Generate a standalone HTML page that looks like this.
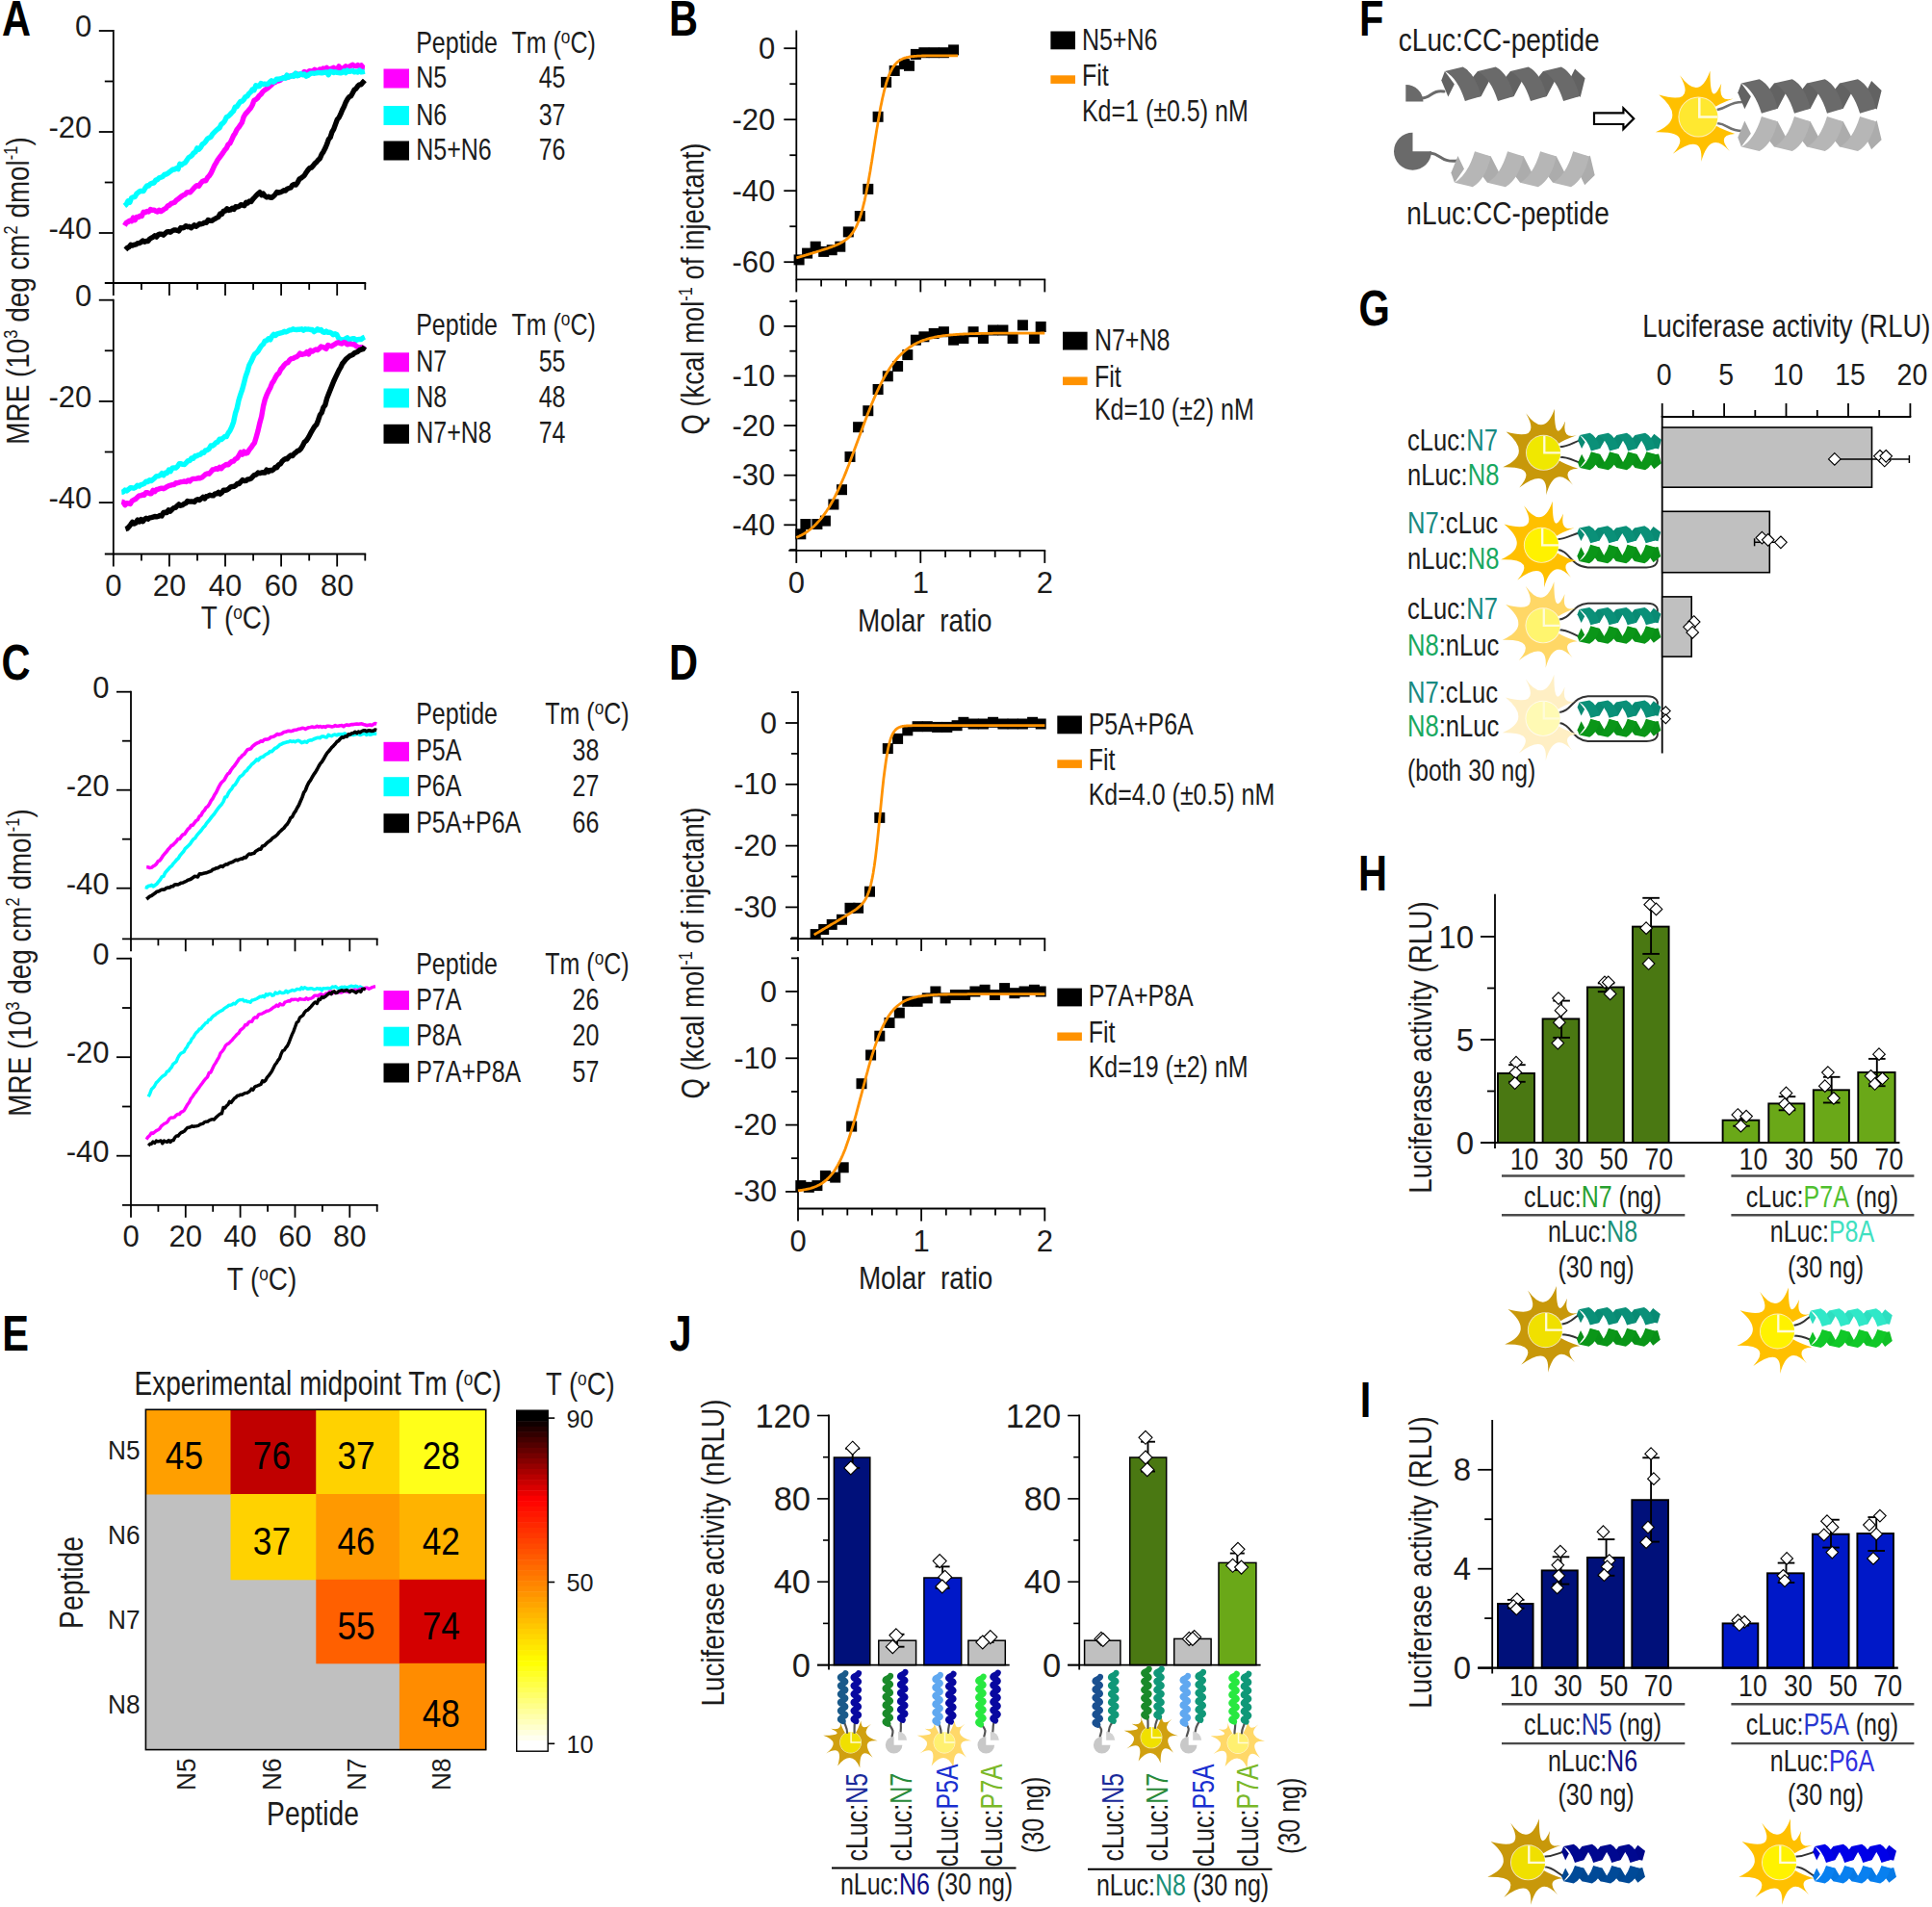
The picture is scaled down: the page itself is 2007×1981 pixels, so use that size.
<!DOCTYPE html>
<html><head><meta charset="utf-8"><title>Figure</title>
<style>html,body{margin:0;padding:0;background:#fff}svg{display:block}text{font-family:"Liberation Sans", sans-serif;}</style>
</head><body>
<svg width="2007" height="1981" viewBox="0 0 2007 1981">
<rect width="2007" height="1981" fill="#fff"/>
<text transform="translate(2.0,37.3) scale(0.8,1)" font-size="52" text-anchor="start" fill="#000" font-weight="bold">A</text>
<line x1="117.8" y1="31.1" x2="117.8" y2="294.9" stroke="#000" stroke-width="1.8" stroke-linecap="butt"/>
<line x1="108.8" y1="294.0" x2="380.2" y2="294.0" stroke="#000" stroke-width="1.8" stroke-linecap="butt"/>
<line x1="102.8" y1="32.0" x2="117.8" y2="32.0" stroke="#000" stroke-width="1.8" stroke-linecap="butt"/>
<text transform="translate(95.3,38.0) scale(1,1)" font-size="31" text-anchor="end" fill="#1c1c1c" font-weight="normal">0</text>
<line x1="108.8" y1="84.5" x2="117.8" y2="84.5" stroke="#000" stroke-width="1.8" stroke-linecap="butt"/>
<line x1="102.8" y1="137.0" x2="117.8" y2="137.0" stroke="#000" stroke-width="1.8" stroke-linecap="butt"/>
<text transform="translate(95.3,143.0) scale(1,1)" font-size="31" text-anchor="end" fill="#1c1c1c" font-weight="normal">-20</text>
<line x1="108.8" y1="189.5" x2="117.8" y2="189.5" stroke="#000" stroke-width="1.8" stroke-linecap="butt"/>
<line x1="102.8" y1="242.0" x2="117.8" y2="242.0" stroke="#000" stroke-width="1.8" stroke-linecap="butt"/>
<text transform="translate(95.3,248.0) scale(1,1)" font-size="31" text-anchor="end" fill="#1c1c1c" font-weight="normal">-40</text>
<line x1="117.8" y1="294.0" x2="117.8" y2="307.0" stroke="#000" stroke-width="1.8" stroke-linecap="butt"/>
<line x1="146.9" y1="294.0" x2="146.9" y2="301.0" stroke="#000" stroke-width="1.8" stroke-linecap="butt"/>
<line x1="175.9" y1="294.0" x2="175.9" y2="307.0" stroke="#000" stroke-width="1.8" stroke-linecap="butt"/>
<line x1="205.0" y1="294.0" x2="205.0" y2="301.0" stroke="#000" stroke-width="1.8" stroke-linecap="butt"/>
<line x1="234.0" y1="294.0" x2="234.0" y2="307.0" stroke="#000" stroke-width="1.8" stroke-linecap="butt"/>
<line x1="263.1" y1="294.0" x2="263.1" y2="301.0" stroke="#000" stroke-width="1.8" stroke-linecap="butt"/>
<line x1="292.1" y1="294.0" x2="292.1" y2="307.0" stroke="#000" stroke-width="1.8" stroke-linecap="butt"/>
<line x1="321.2" y1="294.0" x2="321.2" y2="301.0" stroke="#000" stroke-width="1.8" stroke-linecap="butt"/>
<line x1="350.2" y1="294.0" x2="350.2" y2="307.0" stroke="#000" stroke-width="1.8" stroke-linecap="butt"/>
<line x1="379.3" y1="294.0" x2="379.3" y2="301.0" stroke="#000" stroke-width="1.8" stroke-linecap="butt"/>
<line x1="117.8" y1="310.8" x2="117.8" y2="576.4" stroke="#000" stroke-width="1.8" stroke-linecap="butt"/>
<line x1="108.8" y1="575.5" x2="380.2" y2="575.5" stroke="#000" stroke-width="1.8" stroke-linecap="butt"/>
<line x1="102.8" y1="311.7" x2="117.8" y2="311.7" stroke="#000" stroke-width="1.8" stroke-linecap="butt"/>
<text transform="translate(95.3,317.7) scale(1,1)" font-size="31" text-anchor="end" fill="#1c1c1c" font-weight="normal">0</text>
<line x1="108.8" y1="364.3" x2="117.8" y2="364.3" stroke="#000" stroke-width="1.8" stroke-linecap="butt"/>
<line x1="102.8" y1="416.9" x2="117.8" y2="416.9" stroke="#000" stroke-width="1.8" stroke-linecap="butt"/>
<text transform="translate(95.3,422.9) scale(1,1)" font-size="31" text-anchor="end" fill="#1c1c1c" font-weight="normal">-20</text>
<line x1="108.8" y1="469.5" x2="117.8" y2="469.5" stroke="#000" stroke-width="1.8" stroke-linecap="butt"/>
<line x1="102.8" y1="522.1" x2="117.8" y2="522.1" stroke="#000" stroke-width="1.8" stroke-linecap="butt"/>
<text transform="translate(95.3,528.1) scale(1,1)" font-size="31" text-anchor="end" fill="#1c1c1c" font-weight="normal">-40</text>
<line x1="117.8" y1="575.5" x2="117.8" y2="588.5" stroke="#000" stroke-width="1.8" stroke-linecap="butt"/>
<text transform="translate(117.8,618.5) scale(1,1)" font-size="31" text-anchor="middle" fill="#1c1c1c" font-weight="normal">0</text>
<line x1="146.9" y1="575.5" x2="146.9" y2="582.5" stroke="#000" stroke-width="1.8" stroke-linecap="butt"/>
<line x1="175.9" y1="575.5" x2="175.9" y2="588.5" stroke="#000" stroke-width="1.8" stroke-linecap="butt"/>
<text transform="translate(175.9,618.5) scale(1,1)" font-size="31" text-anchor="middle" fill="#1c1c1c" font-weight="normal">20</text>
<line x1="205.0" y1="575.5" x2="205.0" y2="582.5" stroke="#000" stroke-width="1.8" stroke-linecap="butt"/>
<line x1="234.0" y1="575.5" x2="234.0" y2="588.5" stroke="#000" stroke-width="1.8" stroke-linecap="butt"/>
<text transform="translate(234.0,618.5) scale(1,1)" font-size="31" text-anchor="middle" fill="#1c1c1c" font-weight="normal">40</text>
<line x1="263.1" y1="575.5" x2="263.1" y2="582.5" stroke="#000" stroke-width="1.8" stroke-linecap="butt"/>
<line x1="292.1" y1="575.5" x2="292.1" y2="588.5" stroke="#000" stroke-width="1.8" stroke-linecap="butt"/>
<text transform="translate(292.1,618.5) scale(1,1)" font-size="31" text-anchor="middle" fill="#1c1c1c" font-weight="normal">60</text>
<line x1="321.2" y1="575.5" x2="321.2" y2="582.5" stroke="#000" stroke-width="1.8" stroke-linecap="butt"/>
<line x1="350.2" y1="575.5" x2="350.2" y2="588.5" stroke="#000" stroke-width="1.8" stroke-linecap="butt"/>
<text transform="translate(350.2,618.5) scale(1,1)" font-size="31" text-anchor="middle" fill="#1c1c1c" font-weight="normal">80</text>
<line x1="379.3" y1="575.5" x2="379.3" y2="582.5" stroke="#000" stroke-width="1.8" stroke-linecap="butt"/>
<polyline points="129.4,234.3 131.2,231.4 133.0,230.5 134.8,229.1 136.6,229.8 138.4,226.1 140.2,228.6 142.0,225.5 143.8,225.5 145.6,224.1 147.3,224.5 149.1,220.3 150.9,220.6 152.7,219.5 154.5,220.0 156.3,217.6 158.1,218.3 159.9,218.1 161.7,219.3 163.5,220.0 165.3,218.3 167.1,219.6 168.9,218.5 170.7,217.1 172.5,216.3 174.3,213.7 176.1,213.1 177.9,211.3 179.7,210.8 181.4,210.2 183.2,208.0 185.0,206.9 186.8,205.4 188.6,203.9 190.4,202.8 192.2,202.1 194.0,199.9 195.8,199.8 197.6,199.8 199.4,197.8 201.2,195.7 203.0,193.8 204.8,192.6 206.6,193.3 208.4,190.5 210.2,188.5 212.0,187.7 213.8,187.8 215.6,184.4 217.3,182.8 219.1,180.0 220.9,176.3 222.7,172.1 224.5,169.1 226.3,165.8 228.1,163.5 229.9,161.1 231.7,158.7 233.5,155.8 235.3,153.9 237.1,150.0 238.9,148.9 240.7,145.1 242.5,141.1 244.3,138.4 246.1,134.6 247.9,132.4 249.7,129.7 251.4,127.3 253.2,121.3 255.0,118.4 256.8,116.4 258.6,114.3 260.4,112.2 262.2,109.0 264.0,104.3 265.8,103.3 267.6,101.9 269.4,99.3 271.2,97.9 273.0,95.3 274.8,93.8 276.6,92.6 278.4,91.3 280.2,89.7 282.0,88.2 283.8,86.1 285.6,85.6 287.3,84.2 289.1,84.1 290.9,83.4 292.7,81.9 294.5,80.9 296.3,80.2 298.1,80.6 299.9,79.9 301.7,79.0 303.5,78.8 305.3,77.8 307.1,78.4 308.9,77.0 310.7,77.9 312.5,76.7 314.3,76.5 316.1,74.6 317.9,75.3 319.7,75.4 321.4,73.6 323.2,73.9 325.0,73.8 326.8,72.3 328.6,73.5 330.4,73.7 332.2,71.9 334.0,72.7 335.8,71.1 337.6,71.9 339.4,70.3 341.2,72.4 343.0,71.6 344.8,71.1 346.6,70.3 348.4,71.8 350.2,72.3 352.0,68.9 353.8,71.4 355.5,71.5 357.3,70.3 359.1,68.8 360.9,70.3 362.7,69.1 364.5,68.3 366.3,67.2 368.1,68.4 369.9,68.6 371.7,67.6 373.5,68.9 375.3,67.9 377.1,70.2 378.9,70.4" fill="none" stroke="#ff00ff" stroke-width="5.4" stroke-linejoin="round"/>
<polyline points="129.4,213.9 131.2,212.4 133.0,208.8 134.8,210.3 136.6,205.6 138.4,204.8 140.2,204.3 142.0,201.2 143.8,199.8 145.6,198.5 147.3,198.4 149.1,198.5 150.9,195.2 152.7,193.0 154.5,193.1 156.3,190.9 158.1,190.2 159.9,190.0 161.7,187.2 163.5,186.7 165.3,184.8 167.1,184.2 168.9,183.5 170.7,181.4 172.5,181.0 174.3,180.1 176.1,178.7 177.9,177.3 179.7,176.0 181.4,176.0 183.2,174.8 185.0,175.7 186.8,170.4 188.6,171.2 190.4,169.9 192.2,169.1 194.0,166.7 195.8,163.8 197.6,162.7 199.4,161.4 201.2,158.8 203.0,157.9 204.8,153.9 206.6,155.1 208.4,153.2 210.2,149.9 212.0,148.9 213.8,146.7 215.6,144.2 217.3,143.2 219.1,142.1 220.9,139.1 222.7,137.3 224.5,135.6 226.3,134.0 228.1,132.7 229.9,129.0 231.7,127.9 233.5,125.6 235.3,121.7 237.1,120.9 238.9,119.1 240.7,117.1 242.5,115.3 244.3,111.2 246.1,110.8 247.9,108.1 249.7,105.5 251.4,105.2 253.2,103.5 255.0,100.5 256.8,100.0 258.6,97.2 260.4,95.7 262.2,93.0 264.0,93.7 265.8,88.7 267.6,89.7 269.4,89.5 271.2,86.5 273.0,87.6 274.8,87.2 276.6,87.5 278.4,87.3 280.2,85.3 282.0,83.8 283.8,85.3 285.6,84.4 287.3,82.2 289.1,82.3 290.9,81.8 292.7,81.5 294.5,80.7 296.3,81.3 298.1,78.2 299.9,80.2 301.7,79.3 303.5,78.4 305.3,79.3 307.1,76.1 308.9,78.8 310.7,78.0 312.5,76.5 314.3,77.7 316.1,76.9 317.9,79.2 319.7,78.5 321.4,77.2 323.2,76.1 325.0,76.1 326.8,76.2 328.6,75.9 330.4,75.5 332.2,75.6 334.0,75.8 335.8,75.5 337.6,75.2 339.4,74.9 341.2,77.7 343.0,74.2 344.8,74.4 346.6,75.6 348.4,74.8 350.2,75.4 352.0,75.6 353.8,75.9 355.5,75.4 357.3,73.9 359.1,75.6 360.9,73.1 362.7,74.4 364.5,74.0 366.3,73.5 368.1,74.9 369.9,74.2 371.7,75.1 373.5,73.0 375.3,74.9 377.1,74.6 378.9,74.2" fill="none" stroke="#00ffff" stroke-width="5.4" stroke-linejoin="round"/>
<polyline points="130.4,259.3 132.2,257.5 134.0,256.6 135.8,254.3 137.6,255.0 139.4,254.3 141.2,253.9 142.9,252.8 144.7,252.6 146.5,251.6 148.3,250.1 150.1,251.3 151.9,250.5 153.7,250.5 155.5,248.3 157.2,247.2 159.0,246.3 160.8,244.8 162.6,246.2 164.4,243.8 166.2,243.1 168.0,243.3 169.8,244.2 171.5,242.5 173.3,240.9 175.1,240.6 176.9,241.2 178.7,240.0 180.5,239.0 182.3,238.9 184.1,239.3 185.8,239.9 187.6,236.7 189.4,236.9 191.2,236.4 193.0,234.7 194.8,235.7 196.6,235.3 198.4,236.8 200.1,235.4 201.9,233.8 203.7,235.3 205.5,234.1 207.3,232.4 209.1,232.8 210.9,232.2 212.7,231.2 214.4,231.2 216.2,228.5 218.0,229.3 219.8,229.4 221.6,228.2 223.4,227.3 225.2,226.2 227.0,225.3 228.7,222.0 230.5,222.5 232.3,219.1 234.1,219.0 235.9,216.8 237.7,218.5 239.5,218.0 241.3,216.2 243.0,217.4 244.8,214.8 246.6,215.0 248.4,214.4 250.2,212.7 252.0,213.2 253.8,213.7 255.6,210.3 257.3,211.0 259.1,209.0 260.9,209.5 262.7,206.9 264.5,205.0 266.3,203.0 268.1,201.3 269.9,199.7 271.6,202.6 273.4,201.2 275.2,203.6 277.0,204.9 278.8,204.2 280.6,205.0 282.4,205.4 284.2,203.7 285.9,202.1 287.7,199.4 289.5,200.2 291.3,199.7 293.1,198.9 294.9,197.7 296.7,198.0 298.4,196.2 300.2,195.5 302.0,195.0 303.8,192.4 305.6,191.5 307.4,192.1 309.2,189.4 311.0,185.9 312.7,185.1 314.5,183.7 316.3,182.2 318.1,179.2 319.9,176.6 321.7,174.6 323.5,174.1 325.3,172.2 327.0,169.9 328.8,168.4 330.6,166.1 332.4,164.6 334.2,160.2 336.0,157.6 337.8,154.1 339.6,149.8 341.3,144.8 343.1,142.8 344.9,137.2 346.7,134.1 348.5,129.1 350.3,124.3 352.1,122.1 353.9,118.4 355.6,114.2 357.4,110.7 359.2,106.3 361.0,102.9 362.8,100.6 364.6,99.8 366.4,96.5 368.2,93.1 369.9,92.1 371.7,89.4 373.5,87.9 375.3,87.7 377.1,85.4 378.9,83.5" fill="none" stroke="#000" stroke-width="5.4" stroke-linejoin="round"/>
<polyline points="126.3,511.2 128.1,511.0 129.9,509.1 131.7,509.9 133.6,508.4 135.4,506.7 137.2,506.8 139.0,507.2 140.8,506.3 142.6,504.3 144.5,505.0 146.3,503.6 148.1,503.2 149.9,502.3 151.7,500.1 153.6,500.5 155.4,498.7 157.2,499.6 159.0,498.0 160.8,496.4 162.6,494.6 164.5,494.6 166.3,493.7 168.1,491.7 169.9,493.7 171.7,491.3 173.5,491.5 175.4,488.2 177.2,489.6 179.0,486.2 180.8,485.9 182.6,486.0 184.4,484.6 186.3,481.6 188.1,481.7 189.9,482.4 191.7,482.5 193.5,480.6 195.3,478.6 197.2,478.5 199.0,475.9 200.8,476.3 202.6,473.7 204.4,473.8 206.2,472.6 208.1,472.2 209.9,470.2 211.7,470.3 213.5,467.9 215.3,467.6 217.2,466.3 219.0,462.9 220.8,463.1 222.6,461.8 224.4,459.7 226.2,459.1 228.1,456.2 229.9,456.5 231.7,455.1 233.5,453.4 235.3,453.6 237.1,449.9 239.0,447.2 240.8,443.4 242.6,438.4 244.4,429.7 246.2,424.1 248.0,415.7 249.9,409.6 251.7,404.5 253.5,397.7 255.3,390.7 257.1,385.8 258.9,379.3 260.8,375.8 262.6,371.8 264.4,368.1 266.2,366.7 268.0,364.8 269.9,361.6 271.7,359.0 273.5,357.5 275.3,354.1 277.1,353.8 278.9,351.7 280.8,352.8 282.6,349.3 284.4,347.3 286.2,348.5 288.0,346.8 289.8,346.3 291.7,345.8 293.5,345.3 295.3,344.3 297.1,344.9 298.9,344.1 300.7,342.9 302.6,342.8 304.4,341.7 306.2,342.4 308.0,342.5 309.8,342.3 311.6,342.3 313.5,341.7 315.3,343.2 317.1,341.8 318.9,342.1 320.7,342.0 322.5,342.5 324.4,342.4 326.2,344.6 328.0,343.4 329.8,341.8 331.6,343.1 333.5,342.5 335.3,344.7 337.1,345.4 338.9,344.1 340.7,345.4 342.5,345.1 344.4,346.1 346.2,347.8 348.0,346.7 349.8,347.4 351.6,351.1 353.4,352.4 355.3,352.8 357.1,353.2 358.9,351.9 360.7,350.9 362.5,353.5 364.3,352.3 366.2,351.7 368.0,351.7 369.8,353.7 371.6,352.7 373.4,352.5 375.2,352.6 377.1,350.9 378.9,350.1" fill="none" stroke="#00ffff" stroke-width="5.4" stroke-linejoin="round"/>
<polyline points="126.3,521.2 128.1,521.6 129.9,524.6 131.7,522.7 133.6,522.9 135.4,523.5 137.2,520.3 139.0,519.3 140.8,518.5 142.6,516.7 144.5,514.9 146.3,514.9 148.1,514.0 149.9,514.2 151.7,511.6 153.6,511.8 155.4,512.7 157.2,512.8 159.0,509.3 160.8,510.6 162.6,508.6 164.5,508.1 166.3,507.5 168.1,507.2 169.9,507.7 171.7,506.8 173.5,505.6 175.4,504.6 177.2,504.2 179.0,503.5 180.8,503.6 182.6,501.8 184.4,501.7 186.3,501.1 188.1,500.7 189.9,500.4 191.7,500.0 193.5,500.5 195.3,498.9 197.2,499.9 199.0,498.0 200.8,497.4 202.6,497.4 204.4,497.1 206.2,496.5 208.1,496.7 209.9,495.8 211.7,494.4 213.5,492.7 215.3,491.9 217.2,492.2 219.0,490.2 220.8,488.0 222.6,487.6 224.4,486.8 226.2,487.3 228.1,485.4 229.9,486.7 231.7,484.6 233.5,483.5 235.3,482.4 237.1,482.8 239.0,480.9 240.8,479.4 242.6,479.1 244.4,476.9 246.2,476.1 248.0,473.5 249.9,469.9 251.7,472.1 253.5,469.0 255.3,471.1 257.1,470.4 258.9,467.3 260.8,465.1 262.6,462.3 264.4,460.1 266.2,454.0 268.0,447.5 269.9,439.2 271.7,432.6 273.5,422.1 275.3,415.0 277.1,410.2 278.9,406.3 280.8,402.8 282.6,398.1 284.4,395.6 286.2,392.0 288.0,389.0 289.8,387.7 291.7,383.6 293.5,381.6 295.3,379.1 297.1,377.4 298.9,376.8 300.7,374.2 302.6,372.7 304.4,372.3 306.2,371.3 308.0,370.7 309.8,369.4 311.6,367.0 313.5,368.4 315.3,367.7 317.1,367.6 318.9,365.5 320.7,367.8 322.5,364.0 324.4,365.1 326.2,364.0 328.0,363.0 329.8,363.6 331.6,362.2 333.5,360.0 335.3,360.5 337.1,361.3 338.9,362.3 340.7,358.5 342.5,359.2 344.4,359.8 346.2,358.6 348.0,357.4 349.8,356.2 351.6,355.8 353.4,356.7 355.3,357.0 357.1,355.5 358.9,356.1 360.7,357.9 362.5,357.4 364.3,357.3 366.2,357.7 368.0,357.6 369.8,359.3 371.6,360.3 373.4,361.2 375.2,360.6 377.1,361.4 378.9,362.7" fill="none" stroke="#ff00ff" stroke-width="5.4" stroke-linejoin="round"/>
<polyline points="130.4,549.6 132.2,549.0 134.0,547.2 135.8,544.9 137.6,542.3 139.4,544.1 141.2,543.2 142.9,540.1 144.7,542.0 146.5,539.6 148.3,541.7 150.1,539.5 151.9,538.3 153.7,539.2 155.5,537.9 157.2,537.6 159.0,537.1 160.8,536.5 162.6,536.8 164.4,536.4 166.2,535.5 168.0,536.0 169.8,532.5 171.5,532.3 173.3,532.5 175.1,529.8 176.9,531.1 178.7,529.3 180.5,527.6 182.3,527.3 184.1,525.4 185.8,523.9 187.6,525.2 189.4,524.7 191.2,523.4 193.0,522.8 194.8,520.5 196.6,521.1 198.4,520.9 200.1,521.0 201.9,521.5 203.7,519.4 205.5,518.6 207.3,519.5 209.1,518.0 210.9,516.4 212.7,518.0 214.4,515.6 216.2,515.3 218.0,514.2 219.8,514.8 221.6,514.8 223.4,512.9 225.2,512.9 227.0,511.4 228.7,513.1 230.5,511.7 232.3,509.1 234.1,509.3 235.9,508.9 237.7,507.6 239.5,505.8 241.3,505.5 243.0,505.4 244.8,504.3 246.6,502.4 248.4,502.6 250.2,500.5 252.0,498.6 253.8,499.6 255.6,499.3 257.3,497.9 259.1,497.8 260.9,497.1 262.7,495.0 264.5,493.3 266.3,493.0 268.1,491.0 269.9,491.6 271.6,491.0 273.4,490.8 275.2,491.1 277.0,488.0 278.8,490.0 280.6,488.4 282.4,488.9 284.2,487.6 285.9,485.5 287.7,485.7 289.5,482.7 291.3,482.0 293.1,479.3 294.9,477.6 296.7,476.5 298.4,476.7 300.2,474.6 302.0,473.0 303.8,473.6 305.6,471.3 307.4,470.0 309.2,468.3 311.0,467.8 312.7,465.9 314.5,462.9 316.3,459.2 318.1,457.9 319.9,455.3 321.7,452.0 323.5,448.6 325.3,445.5 327.0,442.8 328.8,441.0 330.6,436.4 332.4,431.0 334.2,428.6 336.0,423.1 337.8,420.8 339.6,413.9 341.3,409.5 343.1,405.0 344.9,400.4 346.7,396.0 348.5,392.2 350.3,388.4 352.1,384.6 353.9,381.5 355.6,377.8 357.4,375.7 359.2,373.3 361.0,371.7 362.8,370.2 364.6,369.2 366.4,368.5 368.2,366.8 369.9,366.1 371.7,365.3 373.5,363.8 375.3,363.0 377.1,362.6 378.9,360.0" fill="none" stroke="#000" stroke-width="5.4" stroke-linejoin="round"/>
<text transform="translate(245.0,653.0) scale(0.82,1)" font-size="34" text-anchor="middle" fill="#1c1c1c" font-weight="normal">T (<tspan dy="-10" font-size="21">o</tspan><tspan dy="10">C)</tspan></text>
<text transform="translate(432.2,55.0) scale(0.82,1)" font-size="30.5" text-anchor="start" fill="#1c1c1c" font-weight="normal">Peptide</text>
<text transform="translate(531.5,55.0) scale(0.82,1)" font-size="30.5" text-anchor="start" fill="#1c1c1c" font-weight="normal">Tm (<tspan dy="-10" font-size="21">o</tspan><tspan dy="10">C)</tspan></text>
<rect x="398.5" y="71.5" width="26.5" height="20.0" fill="#ff00ff"/>
<text transform="translate(432.2,91.0) scale(0.82,1)" font-size="30.5" text-anchor="start" fill="#1c1c1c" font-weight="normal">N5</text>
<text transform="translate(559.7,91.0) scale(0.82,1)" font-size="30.5" text-anchor="start" fill="#1c1c1c" font-weight="normal">45</text>
<rect x="398.5" y="110.0" width="26.5" height="20.0" fill="#00ffff"/>
<text transform="translate(432.2,129.5) scale(0.82,1)" font-size="30.5" text-anchor="start" fill="#1c1c1c" font-weight="normal">N6</text>
<text transform="translate(559.7,129.5) scale(0.82,1)" font-size="30.5" text-anchor="start" fill="#1c1c1c" font-weight="normal">37</text>
<rect x="398.5" y="146.5" width="26.5" height="20.0" fill="#000"/>
<text transform="translate(432.2,166.0) scale(0.82,1)" font-size="30.5" text-anchor="start" fill="#1c1c1c" font-weight="normal">N5+N6</text>
<text transform="translate(559.7,166.0) scale(0.82,1)" font-size="30.5" text-anchor="start" fill="#1c1c1c" font-weight="normal">76</text>
<text transform="translate(432.2,348.0) scale(0.82,1)" font-size="30.5" text-anchor="start" fill="#1c1c1c" font-weight="normal">Peptide</text>
<text transform="translate(531.5,348.0) scale(0.82,1)" font-size="30.5" text-anchor="start" fill="#1c1c1c" font-weight="normal">Tm (<tspan dy="-10" font-size="21">o</tspan><tspan dy="10">C)</tspan></text>
<rect x="398.5" y="366.3" width="26.5" height="20.0" fill="#ff00ff"/>
<text transform="translate(432.2,385.8) scale(0.82,1)" font-size="30.5" text-anchor="start" fill="#1c1c1c" font-weight="normal">N7</text>
<text transform="translate(559.7,385.8) scale(0.82,1)" font-size="30.5" text-anchor="start" fill="#1c1c1c" font-weight="normal">55</text>
<rect x="398.5" y="403.5" width="26.5" height="20.0" fill="#00ffff"/>
<text transform="translate(432.2,423.0) scale(0.82,1)" font-size="30.5" text-anchor="start" fill="#1c1c1c" font-weight="normal">N8</text>
<text transform="translate(559.7,423.0) scale(0.82,1)" font-size="30.5" text-anchor="start" fill="#1c1c1c" font-weight="normal">48</text>
<rect x="398.5" y="440.8" width="26.5" height="20.0" fill="#000"/>
<text transform="translate(432.2,460.3) scale(0.82,1)" font-size="30.5" text-anchor="start" fill="#1c1c1c" font-weight="normal">N7+N8</text>
<text transform="translate(559.7,460.3) scale(0.82,1)" font-size="30.5" text-anchor="start" fill="#1c1c1c" font-weight="normal">74</text>
<text transform="translate(30.0,302.0) rotate(-90) scale(0.82,1)" font-size="34" text-anchor="middle" fill="#1c1c1c" font-weight="normal">MRE (10<tspan dy="-12" font-size="20">3</tspan><tspan dy="12" font-size="1">&#8203;</tspan> deg cm<tspan dy="-12" font-size="20">2</tspan><tspan dy="12" font-size="1">&#8203;</tspan> dmol<tspan dy="-12" font-size="20">-1</tspan><tspan dy="12" font-size="1">&#8203;</tspan>)</text>
<text transform="translate(1.5,706.0) scale(0.8,1)" font-size="52" text-anchor="start" fill="#000" font-weight="bold">C</text>
<line x1="136.0" y1="717.8" x2="136.0" y2="976.2" stroke="#000" stroke-width="1.8" stroke-linecap="butt"/>
<line x1="127.0" y1="975.3" x2="392.6" y2="975.3" stroke="#000" stroke-width="1.8" stroke-linecap="butt"/>
<line x1="121.0" y1="718.7" x2="136.0" y2="718.7" stroke="#000" stroke-width="1.8" stroke-linecap="butt"/>
<text transform="translate(113.5,724.7) scale(1,1)" font-size="31" text-anchor="end" fill="#1c1c1c" font-weight="normal">0</text>
<line x1="127.0" y1="769.7" x2="136.0" y2="769.7" stroke="#000" stroke-width="1.8" stroke-linecap="butt"/>
<line x1="121.0" y1="820.7" x2="136.0" y2="820.7" stroke="#000" stroke-width="1.8" stroke-linecap="butt"/>
<text transform="translate(113.5,826.7) scale(1,1)" font-size="31" text-anchor="end" fill="#1c1c1c" font-weight="normal">-20</text>
<line x1="127.0" y1="871.7" x2="136.0" y2="871.7" stroke="#000" stroke-width="1.8" stroke-linecap="butt"/>
<line x1="121.0" y1="922.7" x2="136.0" y2="922.7" stroke="#000" stroke-width="1.8" stroke-linecap="butt"/>
<text transform="translate(113.5,928.7) scale(1,1)" font-size="31" text-anchor="end" fill="#1c1c1c" font-weight="normal">-40</text>
<line x1="136.0" y1="975.3" x2="136.0" y2="988.3" stroke="#000" stroke-width="1.8" stroke-linecap="butt"/>
<line x1="164.4" y1="975.3" x2="164.4" y2="982.3" stroke="#000" stroke-width="1.8" stroke-linecap="butt"/>
<line x1="192.8" y1="975.3" x2="192.8" y2="988.3" stroke="#000" stroke-width="1.8" stroke-linecap="butt"/>
<line x1="221.2" y1="975.3" x2="221.2" y2="982.3" stroke="#000" stroke-width="1.8" stroke-linecap="butt"/>
<line x1="249.6" y1="975.3" x2="249.6" y2="988.3" stroke="#000" stroke-width="1.8" stroke-linecap="butt"/>
<line x1="278.1" y1="975.3" x2="278.1" y2="982.3" stroke="#000" stroke-width="1.8" stroke-linecap="butt"/>
<line x1="306.5" y1="975.3" x2="306.5" y2="988.3" stroke="#000" stroke-width="1.8" stroke-linecap="butt"/>
<line x1="334.9" y1="975.3" x2="334.9" y2="982.3" stroke="#000" stroke-width="1.8" stroke-linecap="butt"/>
<line x1="363.3" y1="975.3" x2="363.3" y2="988.3" stroke="#000" stroke-width="1.8" stroke-linecap="butt"/>
<line x1="391.7" y1="975.3" x2="391.7" y2="982.3" stroke="#000" stroke-width="1.8" stroke-linecap="butt"/>
<line x1="136.0" y1="994.8" x2="136.0" y2="1252.7" stroke="#000" stroke-width="1.8" stroke-linecap="butt"/>
<line x1="127.0" y1="1251.8" x2="392.6" y2="1251.8" stroke="#000" stroke-width="1.8" stroke-linecap="butt"/>
<line x1="121.0" y1="995.7" x2="136.0" y2="995.7" stroke="#000" stroke-width="1.8" stroke-linecap="butt"/>
<text transform="translate(113.5,1001.7) scale(1,1)" font-size="31" text-anchor="end" fill="#1c1c1c" font-weight="normal">0</text>
<line x1="127.0" y1="1047.0" x2="136.0" y2="1047.0" stroke="#000" stroke-width="1.8" stroke-linecap="butt"/>
<line x1="121.0" y1="1098.2" x2="136.0" y2="1098.2" stroke="#000" stroke-width="1.8" stroke-linecap="butt"/>
<text transform="translate(113.5,1104.2) scale(1,1)" font-size="31" text-anchor="end" fill="#1c1c1c" font-weight="normal">-20</text>
<line x1="127.0" y1="1149.5" x2="136.0" y2="1149.5" stroke="#000" stroke-width="1.8" stroke-linecap="butt"/>
<line x1="121.0" y1="1200.7" x2="136.0" y2="1200.7" stroke="#000" stroke-width="1.8" stroke-linecap="butt"/>
<text transform="translate(113.5,1206.7) scale(1,1)" font-size="31" text-anchor="end" fill="#1c1c1c" font-weight="normal">-40</text>
<line x1="136.0" y1="1251.8" x2="136.0" y2="1264.8" stroke="#000" stroke-width="1.8" stroke-linecap="butt"/>
<text transform="translate(136.0,1294.8) scale(1,1)" font-size="31" text-anchor="middle" fill="#1c1c1c" font-weight="normal">0</text>
<line x1="164.4" y1="1251.8" x2="164.4" y2="1258.8" stroke="#000" stroke-width="1.8" stroke-linecap="butt"/>
<line x1="192.8" y1="1251.8" x2="192.8" y2="1264.8" stroke="#000" stroke-width="1.8" stroke-linecap="butt"/>
<text transform="translate(192.8,1294.8) scale(1,1)" font-size="31" text-anchor="middle" fill="#1c1c1c" font-weight="normal">20</text>
<line x1="221.2" y1="1251.8" x2="221.2" y2="1258.8" stroke="#000" stroke-width="1.8" stroke-linecap="butt"/>
<line x1="249.6" y1="1251.8" x2="249.6" y2="1264.8" stroke="#000" stroke-width="1.8" stroke-linecap="butt"/>
<text transform="translate(249.6,1294.8) scale(1,1)" font-size="31" text-anchor="middle" fill="#1c1c1c" font-weight="normal">40</text>
<line x1="278.1" y1="1251.8" x2="278.1" y2="1258.8" stroke="#000" stroke-width="1.8" stroke-linecap="butt"/>
<line x1="306.5" y1="1251.8" x2="306.5" y2="1264.8" stroke="#000" stroke-width="1.8" stroke-linecap="butt"/>
<text transform="translate(306.5,1294.8) scale(1,1)" font-size="31" text-anchor="middle" fill="#1c1c1c" font-weight="normal">60</text>
<line x1="334.9" y1="1251.8" x2="334.9" y2="1258.8" stroke="#000" stroke-width="1.8" stroke-linecap="butt"/>
<line x1="363.3" y1="1251.8" x2="363.3" y2="1264.8" stroke="#000" stroke-width="1.8" stroke-linecap="butt"/>
<text transform="translate(363.3,1294.8) scale(1,1)" font-size="31" text-anchor="middle" fill="#1c1c1c" font-weight="normal">80</text>
<line x1="391.7" y1="1251.8" x2="391.7" y2="1258.8" stroke="#000" stroke-width="1.8" stroke-linecap="butt"/>
<polyline points="152.2,900.7 153.9,900.8 155.6,901.5 157.3,901.3 159.1,899.9 160.8,899.0 162.5,897.4 164.2,894.7 165.9,894.0 167.7,891.6 169.4,888.8 171.1,886.8 172.8,885.0 174.5,882.6 176.3,880.8 178.0,878.5 179.7,877.8 181.4,875.9 183.1,874.2 184.9,871.6 186.6,871.5 188.3,869.0 190.0,867.0 191.7,866.5 193.5,863.7 195.2,861.2 196.9,860.0 198.6,857.3 200.3,857.1 202.1,854.6 203.8,852.5 205.5,851.5 207.2,848.0 208.9,846.9 210.7,843.4 212.4,841.7 214.1,838.9 215.8,837.7 217.5,835.3 219.3,831.6 221.0,829.5 222.7,826.1 224.4,823.5 226.1,819.9 227.9,816.4 229.6,813.5 231.3,811.8 233.0,810.2 234.8,806.8 236.5,804.1 238.2,803.0 239.9,800.0 241.6,797.7 243.4,795.6 245.1,793.2 246.8,790.8 248.5,787.9 250.2,786.7 252.0,784.5 253.7,783.4 255.4,781.0 257.1,778.7 258.8,778.2 260.6,777.7 262.3,775.4 264.0,774.0 265.7,772.7 267.4,771.8 269.2,771.2 270.9,769.8 272.6,770.3 274.3,768.6 276.0,768.1 277.8,768.0 279.5,767.3 281.2,765.8 282.9,765.4 284.6,765.0 286.4,763.9 288.1,762.5 289.8,763.1 291.5,762.6 293.2,761.8 295.0,760.5 296.7,760.3 298.4,759.6 300.1,759.3 301.8,759.6 303.6,759.3 305.3,758.5 307.0,758.2 308.7,757.9 310.4,757.3 312.2,757.0 313.9,756.4 315.6,756.5 317.3,757.4 319.0,756.5 320.8,755.7 322.5,755.4 324.2,755.0 325.9,755.5 327.7,755.3 329.4,754.3 331.1,755.1 332.8,754.5 334.5,755.4 336.3,754.7 338.0,755.4 339.7,754.3 341.4,754.3 343.1,754.5 344.9,754.9 346.6,754.6 348.3,753.6 350.0,754.3 351.7,754.1 353.5,753.8 355.2,753.6 356.9,754.7 358.6,753.4 360.3,752.9 362.1,753.4 363.8,752.9 365.5,752.5 367.2,752.6 368.9,752.3 370.7,752.0 372.4,752.3 374.1,752.0 375.8,751.9 377.5,752.5 379.3,753.0 381.0,753.7 382.7,753.3 384.4,752.9 386.1,753.6 387.9,752.4 389.6,751.5 391.3,752.0" fill="none" stroke="#ff00ff" stroke-width="3.6" stroke-linejoin="round"/>
<polyline points="150.7,921.6 152.5,922.0 154.2,920.2 155.9,920.2 157.6,919.3 159.4,920.9 161.1,919.5 162.8,918.3 164.6,915.9 166.3,914.1 168.0,911.0 169.8,910.4 171.5,906.7 173.2,904.8 175.0,902.8 176.7,900.7 178.4,899.6 180.1,897.1 181.9,895.1 183.6,893.0 185.3,891.6 187.1,888.5 188.8,886.6 190.5,884.8 192.3,881.6 194.0,880.1 195.7,878.5 197.5,876.7 199.2,874.1 200.9,871.7 202.6,870.7 204.4,867.9 206.1,865.9 207.8,864.0 209.6,861.8 211.3,859.5 213.0,857.9 214.8,854.9 216.5,853.1 218.2,850.9 220.0,848.4 221.7,846.6 223.4,844.2 225.1,841.8 226.9,839.3 228.6,837.2 230.3,835.4 232.1,832.6 233.8,828.1 235.5,827.7 237.3,823.7 239.0,821.2 240.7,819.5 242.5,816.2 244.2,815.2 245.9,812.3 247.6,809.3 249.4,806.8 251.1,805.7 252.8,804.1 254.6,801.5 256.3,800.4 258.0,797.9 259.8,796.3 261.5,794.0 263.2,792.8 265.0,791.0 266.7,788.9 268.4,789.8 270.1,787.4 271.9,786.4 273.6,785.9 275.3,784.3 277.1,783.3 278.8,782.4 280.5,780.6 282.3,780.8 284.0,779.0 285.7,777.2 287.5,776.7 289.2,775.2 290.9,773.4 292.6,772.9 294.4,771.9 296.1,771.4 297.8,770.9 299.6,770.8 301.3,769.8 303.0,770.4 304.8,770.0 306.5,770.7 308.2,769.7 310.0,769.3 311.7,770.2 313.4,771.7 315.1,771.0 316.9,770.3 318.6,771.2 320.3,769.4 322.1,768.9 323.8,768.9 325.5,768.0 327.3,767.3 329.0,766.6 330.7,766.3 332.5,766.6 334.2,765.0 335.9,765.0 337.6,765.7 339.4,765.9 341.1,763.4 342.8,764.2 344.6,764.6 346.3,763.4 348.0,763.1 349.8,763.8 351.5,762.9 353.2,762.8 355.0,762.9 356.7,762.5 358.4,762.0 360.2,763.7 361.9,764.0 363.6,763.3 365.3,763.1 367.1,763.4 368.8,763.1 370.5,762.3 372.3,762.6 374.0,763.4 375.7,762.9 377.5,762.3 379.2,762.3 380.9,763.4 382.7,762.0 384.4,763.2 386.1,762.8 387.8,761.9 389.6,762.1 391.3,762.2" fill="none" stroke="#00ffff" stroke-width="3.6" stroke-linejoin="round"/>
<polyline points="152.2,934.0 153.9,932.6 155.6,931.1 157.3,930.5 159.1,929.2 160.8,928.1 162.5,926.6 164.2,926.1 165.9,925.3 167.7,924.3 169.4,924.1 171.1,923.9 172.8,922.5 174.5,922.1 176.3,922.0 178.0,920.8 179.7,920.8 181.4,919.0 183.1,918.8 184.9,919.0 186.6,918.1 188.3,917.2 190.0,917.0 191.7,916.1 193.5,915.4 195.2,914.2 196.9,913.8 198.6,913.0 200.3,911.8 202.1,910.3 203.8,910.5 205.5,911.0 207.2,907.7 208.9,907.9 210.7,907.5 212.4,907.1 214.1,906.8 215.8,906.1 217.5,905.5 219.3,904.9 221.0,903.2 222.7,902.8 224.4,901.9 226.1,901.7 227.9,900.6 229.6,899.7 231.3,900.4 233.0,898.8 234.8,897.9 236.5,898.0 238.2,896.4 239.9,896.1 241.6,895.4 243.4,894.2 245.1,893.2 246.8,893.8 248.5,892.8 250.2,892.1 252.0,892.1 253.7,890.5 255.4,891.0 257.1,888.5 258.8,887.0 260.6,887.4 262.3,886.7 264.0,886.3 265.7,884.2 267.4,883.2 269.2,882.1 270.9,882.2 272.6,878.9 274.3,878.6 276.0,877.1 277.8,875.2 279.5,874.1 281.2,872.8 282.9,870.8 284.6,869.7 286.4,868.5 288.1,867.0 289.8,864.8 291.5,863.2 293.2,861.6 295.0,860.1 296.7,857.7 298.4,856.1 300.1,853.4 301.8,849.8 303.6,848.5 305.3,844.9 307.0,842.6 308.7,839.3 310.4,836.5 312.2,832.3 313.9,828.4 315.6,823.4 317.3,821.0 319.0,816.5 320.8,812.9 322.5,810.7 324.2,807.5 325.9,804.6 327.7,802.1 329.4,799.3 331.1,796.0 332.8,793.1 334.5,791.2 336.3,788.3 338.0,785.2 339.7,782.4 341.4,780.5 343.1,778.5 344.9,776.2 346.6,774.6 348.3,772.8 350.0,770.5 351.7,769.7 353.5,767.4 355.2,765.7 356.9,766.2 358.6,764.8 360.3,765.1 362.1,762.7 363.8,763.0 365.5,761.8 367.2,761.4 368.9,760.3 370.7,761.6 372.4,760.0 374.1,760.9 375.8,759.6 377.5,758.9 379.3,758.9 381.0,759.8 382.7,758.7 384.4,758.9 386.1,759.4 387.9,759.2 389.6,758.1 391.3,758.5" fill="none" stroke="#000" stroke-width="3.6" stroke-linejoin="round"/>
<polyline points="154.2,1139.2 155.8,1135.9 157.4,1131.6 159.0,1130.1 160.6,1128.1 162.2,1124.9 163.8,1123.5 165.4,1121.6 167.0,1119.9 168.6,1118.3 170.2,1117.3 171.8,1116.3 173.5,1113.1 175.1,1112.7 176.7,1110.3 178.3,1108.5 179.9,1105.3 181.5,1104.1 183.1,1102.9 184.7,1099.0 186.3,1096.2 187.9,1094.2 189.5,1093.4 191.1,1092.7 192.7,1089.5 194.3,1087.6 196.0,1084.1 197.6,1082.7 199.2,1079.2 200.8,1077.6 202.4,1074.8 204.0,1072.6 205.6,1071.2 207.2,1069.0 208.8,1068.6 210.4,1066.2 212.0,1064.7 213.6,1062.7 215.2,1062.3 216.8,1059.5 218.5,1059.1 220.1,1057.0 221.7,1055.3 223.3,1054.4 224.9,1052.9 226.5,1052.1 228.1,1050.8 229.7,1050.1 231.3,1049.2 232.9,1047.6 234.5,1046.6 236.1,1045.8 237.7,1044.3 239.3,1044.3 241.0,1043.6 242.6,1042.3 244.2,1043.0 245.8,1041.1 247.4,1039.6 249.0,1038.8 250.6,1038.6 252.2,1038.3 253.8,1040.0 255.4,1039.5 257.0,1040.6 258.6,1040.4 260.2,1041.2 261.8,1038.9 263.5,1038.8 265.1,1038.1 266.7,1037.5 268.3,1036.6 269.9,1035.3 271.5,1035.5 273.1,1034.6 274.7,1035.8 276.3,1032.7 277.9,1033.9 279.5,1032.5 281.1,1032.4 282.7,1034.2 284.3,1033.8 286.0,1031.1 287.6,1032.0 289.2,1031.9 290.8,1030.3 292.4,1031.5 294.0,1031.5 295.6,1031.1 297.2,1029.2 298.8,1031.0 300.4,1029.9 302.0,1029.3 303.6,1028.4 305.2,1029.0 306.8,1028.8 308.5,1027.4 310.1,1027.6 311.7,1027.9 313.3,1025.8 314.9,1027.2 316.5,1025.8 318.1,1026.5 319.7,1027.4 321.3,1027.0 322.9,1026.8 324.5,1026.9 326.1,1027.7 327.7,1027.6 329.3,1026.6 331.0,1027.3 332.6,1026.8 334.2,1028.8 335.8,1026.6 337.4,1026.9 339.0,1026.7 340.6,1026.5 342.2,1026.7 343.8,1026.6 345.4,1025.0 347.0,1025.5 348.6,1024.8 350.2,1026.3 351.8,1027.0 353.4,1026.1 355.1,1025.3 356.7,1025.7 358.3,1025.1 359.9,1026.2 361.5,1025.5 363.1,1024.9 364.7,1024.2 366.3,1024.6 367.9,1025.2 369.5,1024.2 371.1,1024.9 372.7,1026.0 374.3,1025.0 375.9,1026.4 377.6,1026.0" fill="none" stroke="#00ffff" stroke-width="3.4" stroke-linejoin="round"/>
<polyline points="152.1,1183.6 153.8,1181.0 155.5,1179.6 157.2,1176.9 158.9,1177.5 160.6,1176.0 162.3,1174.6 164.1,1173.8 165.8,1172.5 167.5,1169.9 169.2,1168.5 170.9,1167.2 172.6,1166.5 174.3,1164.9 176.0,1162.1 177.8,1161.0 179.5,1161.1 181.2,1160.7 182.9,1158.7 184.6,1157.4 186.3,1157.6 188.0,1155.4 189.8,1154.7 191.5,1153.2 193.2,1150.2 194.9,1147.2 196.6,1144.9 198.3,1141.3 200.0,1139.2 201.7,1136.5 203.5,1134.4 205.2,1131.8 206.9,1129.6 208.6,1127.1 210.3,1125.0 212.0,1122.6 213.7,1120.5 215.4,1119.0 217.2,1114.5 218.9,1114.0 220.6,1110.3 222.3,1106.6 224.0,1104.1 225.7,1101.0 227.4,1098.4 229.1,1093.9 230.9,1092.1 232.6,1089.7 234.3,1086.3 236.0,1084.6 237.7,1083.9 239.4,1082.1 241.1,1080.6 242.8,1078.3 244.6,1076.4 246.3,1074.4 248.0,1073.3 249.7,1070.1 251.4,1068.8 253.1,1067.5 254.8,1064.5 256.5,1064.9 258.3,1062.0 260.0,1061.1 261.7,1061.3 263.4,1057.9 265.1,1056.8 266.8,1057.1 268.5,1054.1 270.3,1053.4 272.0,1053.1 273.7,1052.1 275.4,1051.3 277.1,1050.2 278.8,1050.1 280.5,1049.1 282.2,1048.0 284.0,1046.4 285.7,1045.7 287.4,1044.1 289.1,1045.2 290.8,1042.8 292.5,1043.9 294.2,1043.9 295.9,1041.1 297.7,1040.5 299.4,1039.8 301.1,1040.0 302.8,1038.3 304.5,1038.5 306.2,1038.1 307.9,1038.1 309.6,1039.1 311.4,1037.4 313.1,1038.1 314.8,1038.1 316.5,1038.4 318.2,1036.8 319.9,1038.2 321.6,1037.4 323.3,1037.1 325.1,1036.0 326.8,1034.1 328.5,1034.1 330.2,1034.5 331.9,1033.3 333.6,1032.7 335.3,1033.7 337.0,1033.7 338.8,1031.9 340.5,1033.1 342.2,1030.2 343.9,1030.0 345.6,1031.9 347.3,1030.9 349.0,1031.4 350.7,1031.2 352.5,1030.6 354.2,1031.0 355.9,1030.5 357.6,1029.1 359.3,1030.1 361.0,1029.8 362.7,1030.7 364.5,1028.4 366.2,1028.9 367.9,1028.4 369.6,1028.3 371.3,1029.3 373.0,1028.1 374.7,1027.2 376.4,1027.4 378.2,1027.6 379.9,1026.1 381.6,1026.3 383.3,1027.3 385.0,1026.5 386.7,1025.6 388.4,1025.0 390.1,1024.9" fill="none" stroke="#ff00ff" stroke-width="3.4" stroke-linejoin="round"/>
<polyline points="154.2,1190.1 155.8,1188.3 157.4,1188.3 159.0,1186.1 160.7,1187.4 162.3,1185.1 163.9,1185.9 165.5,1185.5 167.1,1184.9 168.8,1187.8 170.4,1185.0 172.0,1185.9 173.6,1186.4 175.3,1184.5 176.9,1186.5 178.5,1184.7 180.1,1184.6 181.7,1181.6 183.4,1179.9 185.0,1180.1 186.6,1178.0 188.2,1176.5 189.9,1176.0 191.5,1175.1 193.1,1173.1 194.7,1171.5 196.3,1171.3 198.0,1170.7 199.6,1169.7 201.2,1170.4 202.8,1169.9 204.5,1169.7 206.1,1169.3 207.7,1168.2 209.3,1167.6 210.9,1167.2 212.6,1165.6 214.2,1165.2 215.8,1165.1 217.4,1163.8 219.1,1163.2 220.7,1162.7 222.3,1163.0 223.9,1161.3 225.5,1159.7 227.2,1158.3 228.8,1157.0 230.4,1156.9 232.0,1150.4 233.7,1151.1 235.3,1148.8 236.9,1147.5 238.5,1144.3 240.1,1145.5 241.8,1143.1 243.4,1141.0 245.0,1140.0 246.6,1138.2 248.3,1138.0 249.9,1137.1 251.5,1137.3 253.1,1136.3 254.7,1135.4 256.4,1135.4 258.0,1134.5 259.6,1133.4 261.2,1131.1 262.9,1132.2 264.5,1129.3 266.1,1128.3 267.7,1127.8 269.3,1127.1 271.0,1126.5 272.6,1122.7 274.2,1123.8 275.8,1122.4 277.5,1119.1 279.1,1117.5 280.7,1115.2 282.3,1113.0 283.9,1109.7 285.6,1106.3 287.2,1104.3 288.8,1101.5 290.4,1099.7 292.1,1094.7 293.7,1091.5 295.3,1091.0 296.9,1088.3 298.5,1086.5 300.2,1083.0 301.8,1078.6 303.4,1074.6 305.0,1071.2 306.7,1066.5 308.3,1062.1 309.9,1061.1 311.5,1057.0 313.1,1055.8 314.8,1054.6 316.4,1051.6 318.0,1049.9 319.6,1049.2 321.3,1047.5 322.9,1045.8 324.5,1044.0 326.1,1042.1 327.7,1040.9 329.4,1042.4 331.0,1038.1 332.6,1038.5 334.2,1035.8 335.9,1036.5 337.5,1035.6 339.1,1034.3 340.7,1032.7 342.3,1031.5 344.0,1032.7 345.6,1030.3 347.2,1029.8 348.8,1031.5 350.5,1031.1 352.1,1029.6 353.7,1029.2 355.3,1028.7 356.9,1029.5 358.6,1029.0 360.2,1028.4 361.8,1029.3 363.4,1030.4 365.1,1029.0 366.7,1029.4 368.3,1030.2 369.9,1031.3 371.5,1029.8 373.2,1029.3 374.8,1030.4 376.4,1027.5 378.0,1027.2 379.7,1027.8" fill="none" stroke="#000" stroke-width="3.4" stroke-linejoin="round"/>
<text transform="translate(272.0,1339.7) scale(0.82,1)" font-size="34" text-anchor="middle" fill="#1c1c1c" font-weight="normal">T (<tspan dy="-10" font-size="21">o</tspan><tspan dy="10">C)</tspan></text>
<text transform="translate(432.2,751.7) scale(0.82,1)" font-size="30.5" text-anchor="start" fill="#1c1c1c" font-weight="normal">Peptide</text>
<text transform="translate(566.3,751.7) scale(0.82,1)" font-size="30.5" text-anchor="start" fill="#1c1c1c" font-weight="normal">Tm (<tspan dy="-10" font-size="21">o</tspan><tspan dy="10">C)</tspan></text>
<rect x="398.5" y="770.8" width="26.5" height="20.0" fill="#ff00ff"/>
<text transform="translate(432.2,790.3) scale(0.82,1)" font-size="30.5" text-anchor="start" fill="#1c1c1c" font-weight="normal">P5A</text>
<text transform="translate(594.5,790.3) scale(0.82,1)" font-size="30.5" text-anchor="start" fill="#1c1c1c" font-weight="normal">38</text>
<rect x="398.5" y="807.2" width="26.5" height="20.0" fill="#00ffff"/>
<text transform="translate(432.2,826.7) scale(0.82,1)" font-size="30.5" text-anchor="start" fill="#1c1c1c" font-weight="normal">P6A</text>
<text transform="translate(594.5,826.7) scale(0.82,1)" font-size="30.5" text-anchor="start" fill="#1c1c1c" font-weight="normal">27</text>
<rect x="398.5" y="845.2" width="26.5" height="20.0" fill="#000"/>
<text transform="translate(432.2,864.7) scale(0.82,1)" font-size="30.5" text-anchor="start" fill="#1c1c1c" font-weight="normal">P5A+P6A</text>
<text transform="translate(594.5,864.7) scale(0.82,1)" font-size="30.5" text-anchor="start" fill="#1c1c1c" font-weight="normal">66</text>
<text transform="translate(432.2,1012.2) scale(0.82,1)" font-size="30.5" text-anchor="start" fill="#1c1c1c" font-weight="normal">Peptide</text>
<text transform="translate(566.3,1012.2) scale(0.82,1)" font-size="30.5" text-anchor="start" fill="#1c1c1c" font-weight="normal">Tm (<tspan dy="-10" font-size="21">o</tspan><tspan dy="10">C)</tspan></text>
<rect x="398.5" y="1029.1" width="26.5" height="20.0" fill="#ff00ff"/>
<text transform="translate(432.2,1048.6) scale(0.82,1)" font-size="30.5" text-anchor="start" fill="#1c1c1c" font-weight="normal">P7A</text>
<text transform="translate(594.5,1048.6) scale(0.82,1)" font-size="30.5" text-anchor="start" fill="#1c1c1c" font-weight="normal">26</text>
<rect x="398.5" y="1066.7" width="26.5" height="20.0" fill="#00ffff"/>
<text transform="translate(432.2,1086.2) scale(0.82,1)" font-size="30.5" text-anchor="start" fill="#1c1c1c" font-weight="normal">P8A</text>
<text transform="translate(594.5,1086.2) scale(0.82,1)" font-size="30.5" text-anchor="start" fill="#1c1c1c" font-weight="normal">20</text>
<rect x="398.5" y="1104.5" width="26.5" height="20.0" fill="#000"/>
<text transform="translate(432.2,1124.0) scale(0.82,1)" font-size="30.5" text-anchor="start" fill="#1c1c1c" font-weight="normal">P7A+P8A</text>
<text transform="translate(594.5,1124.0) scale(0.82,1)" font-size="30.5" text-anchor="start" fill="#1c1c1c" font-weight="normal">57</text>
<text transform="translate(32.0,1000.0) rotate(-90) scale(0.82,1)" font-size="34" text-anchor="middle" fill="#1c1c1c" font-weight="normal">MRE (10<tspan dy="-12" font-size="20">3</tspan><tspan dy="12" font-size="1">&#8203;</tspan> deg cm<tspan dy="-12" font-size="20">2</tspan><tspan dy="12" font-size="1">&#8203;</tspan> dmol<tspan dy="-12" font-size="20">-1</tspan><tspan dy="12" font-size="1">&#8203;</tspan>)</text>
<text transform="translate(695.0,37.3) scale(0.8,1)" font-size="52" text-anchor="start" fill="#000" font-weight="bold">B</text>
<line x1="827.3" y1="31.6" x2="827.3" y2="291.3" stroke="#000" stroke-width="1.8" stroke-linecap="butt"/>
<line x1="827.3" y1="290.4" x2="1086.2" y2="290.4" stroke="#000" stroke-width="1.8" stroke-linecap="butt"/>
<line x1="814.3" y1="50.2" x2="827.3" y2="50.2" stroke="#000" stroke-width="1.8" stroke-linecap="butt"/>
<text transform="translate(805.3,60.7) scale(1,1)" font-size="31" text-anchor="end" fill="#1c1c1c" font-weight="normal">0</text>
<line x1="814.3" y1="124.2" x2="827.3" y2="124.2" stroke="#000" stroke-width="1.8" stroke-linecap="butt"/>
<text transform="translate(805.3,134.7) scale(1,1)" font-size="31" text-anchor="end" fill="#1c1c1c" font-weight="normal">-20</text>
<line x1="814.3" y1="198.2" x2="827.3" y2="198.2" stroke="#000" stroke-width="1.8" stroke-linecap="butt"/>
<text transform="translate(805.3,208.7) scale(1,1)" font-size="31" text-anchor="end" fill="#1c1c1c" font-weight="normal">-40</text>
<line x1="814.3" y1="272.2" x2="827.3" y2="272.2" stroke="#000" stroke-width="1.8" stroke-linecap="butt"/>
<text transform="translate(805.3,282.7) scale(1,1)" font-size="31" text-anchor="end" fill="#1c1c1c" font-weight="normal">-60</text>
<line x1="820.3" y1="87.2" x2="827.3" y2="87.2" stroke="#000" stroke-width="1.8" stroke-linecap="butt"/>
<line x1="820.3" y1="161.2" x2="827.3" y2="161.2" stroke="#000" stroke-width="1.8" stroke-linecap="butt"/>
<line x1="820.3" y1="235.2" x2="827.3" y2="235.2" stroke="#000" stroke-width="1.8" stroke-linecap="butt"/>
<line x1="827.3" y1="290.4" x2="827.3" y2="303.4" stroke="#000" stroke-width="1.8" stroke-linecap="butt"/>
<line x1="853.1" y1="290.4" x2="853.1" y2="297.4" stroke="#000" stroke-width="1.8" stroke-linecap="butt"/>
<line x1="878.9" y1="290.4" x2="878.9" y2="297.4" stroke="#000" stroke-width="1.8" stroke-linecap="butt"/>
<line x1="904.7" y1="290.4" x2="904.7" y2="297.4" stroke="#000" stroke-width="1.8" stroke-linecap="butt"/>
<line x1="930.5" y1="290.4" x2="930.5" y2="297.4" stroke="#000" stroke-width="1.8" stroke-linecap="butt"/>
<line x1="956.3" y1="290.4" x2="956.3" y2="303.4" stroke="#000" stroke-width="1.8" stroke-linecap="butt"/>
<line x1="982.1" y1="290.4" x2="982.1" y2="297.4" stroke="#000" stroke-width="1.8" stroke-linecap="butt"/>
<line x1="1007.9" y1="290.4" x2="1007.9" y2="297.4" stroke="#000" stroke-width="1.8" stroke-linecap="butt"/>
<line x1="1033.7" y1="290.4" x2="1033.7" y2="297.4" stroke="#000" stroke-width="1.8" stroke-linecap="butt"/>
<line x1="1059.5" y1="290.4" x2="1059.5" y2="297.4" stroke="#000" stroke-width="1.8" stroke-linecap="butt"/>
<line x1="1085.3" y1="290.4" x2="1085.3" y2="303.4" stroke="#000" stroke-width="1.8" stroke-linecap="butt"/>
<rect x="824.6" y="264.4" width="11.0" height="11.0" fill="#000"/>
<rect x="833.1" y="257.6" width="11.0" height="11.0" fill="#000"/>
<rect x="841.7" y="250.7" width="11.0" height="11.0" fill="#000"/>
<rect x="850.2" y="255.9" width="11.0" height="11.0" fill="#000"/>
<rect x="858.7" y="254.2" width="11.0" height="11.0" fill="#000"/>
<rect x="867.3" y="250.7" width="11.0" height="11.0" fill="#000"/>
<rect x="875.8" y="235.4" width="11.0" height="11.0" fill="#000"/>
<rect x="887.8" y="219.0" width="11.0" height="11.0" fill="#000"/>
<rect x="896.3" y="190.9" width="11.0" height="11.0" fill="#000"/>
<rect x="906.6" y="115.8" width="11.0" height="11.0" fill="#000"/>
<rect x="915.1" y="79.9" width="11.0" height="11.0" fill="#000"/>
<rect x="923.7" y="68.0" width="11.0" height="11.0" fill="#000"/>
<rect x="933.9" y="61.1" width="11.0" height="11.0" fill="#000"/>
<rect x="939.0" y="62.8" width="11.0" height="11.0" fill="#000"/>
<rect x="945.9" y="50.9" width="11.0" height="11.0" fill="#000"/>
<rect x="954.4" y="49.2" width="11.0" height="11.0" fill="#000"/>
<rect x="964.7" y="49.2" width="11.0" height="11.0" fill="#000"/>
<rect x="974.9" y="49.2" width="11.0" height="11.0" fill="#000"/>
<rect x="985.1" y="46.4" width="11.0" height="11.0" fill="#000"/>
<polyline points="827.3,267.9 828.1,267.7 829.0,267.4 829.8,267.2 830.7,266.9 831.5,266.7 832.4,266.4 833.2,266.2 834.0,265.9 834.9,265.7 835.7,265.4 836.6,265.1 837.4,264.9 838.3,264.6 839.1,264.4 839.9,264.1 840.8,263.9 841.6,263.6 842.5,263.4 843.3,263.1 844.2,262.9 845.0,262.6 845.8,262.3 846.7,262.1 847.5,261.8 848.4,261.6 849.2,261.3 850.1,261.0 850.9,260.8 851.7,260.5 852.6,260.3 853.4,260.0 854.3,259.7 855.1,259.5 856.0,259.2 856.8,258.9 857.6,258.6 858.5,258.4 859.3,258.1 860.2,257.8 861.0,257.5 861.9,257.2 862.7,256.9 863.5,256.6 864.4,256.3 865.2,256.0 866.1,255.7 866.9,255.3 867.8,255.0 868.6,254.6 869.4,254.3 870.3,253.9 871.1,253.5 872.0,253.1 872.8,252.7 873.6,252.2 874.5,251.8 875.3,251.3 876.2,250.8 877.0,250.2 877.9,249.6 878.7,249.0 879.5,248.4 880.4,247.6 881.2,246.9 882.1,246.1 882.9,245.2 883.8,244.2 884.6,243.2 885.4,242.1 886.3,240.9 887.1,239.6 888.0,238.1 888.8,236.6 889.7,234.9 890.5,233.1 891.3,231.1 892.2,229.0 893.0,226.7 893.9,224.2 894.7,221.5 895.6,218.6 896.4,215.5 897.2,212.1 898.1,208.6 898.9,204.8 899.8,200.8 900.6,196.6 901.5,192.1 902.3,187.5 903.1,182.7 904.0,177.7 904.8,172.5 905.7,167.3 906.5,161.9 907.4,156.5 908.2,151.1 909.0,145.7 909.9,140.3 910.7,135.1 911.6,129.9 912.4,124.9 913.3,120.0 914.1,115.3 914.9,110.8 915.8,106.6 916.6,102.5 917.5,98.7 918.3,95.2 919.2,91.9 920.0,88.8 920.8,85.9 921.7,83.3 922.5,80.9 923.4,78.6 924.2,76.6 925.1,74.7 925.9,73.1 926.7,71.5 927.6,70.1 928.4,68.9 929.3,67.7 930.1,66.7 931.0,65.8 931.8,64.9 932.6,64.2 933.5,63.5 934.3,62.9 935.2,62.4 936.0,61.9 936.9,61.5 937.7,61.1 938.5,60.7 939.4,60.4 940.2,60.1 941.1,59.9 941.9,59.7 942.8,59.5 943.6,59.3 944.4,59.1 945.3,59.0 946.1,58.9 947.0,58.7 947.8,58.6 948.7,58.6 949.5,58.5 950.3,58.4 951.2,58.3 952.0,58.3 952.9,58.2 953.7,58.2 954.5,58.1 955.4,58.1 956.2,58.1 957.1,58.1 957.9,58.0 958.8,58.0 959.6,58.0 960.4,58.0 961.3,58.0 962.1,57.9 963.0,57.9 963.8,57.9 964.7,57.9 965.5,57.9 966.3,57.9 967.2,57.9 968.0,57.9 968.9,57.9 969.7,57.9 970.6,57.9 971.4,57.9 972.2,57.8 973.1,57.8 973.9,57.8 974.8,57.8 975.6,57.8 976.5,57.8 977.3,57.8 978.1,57.8 979.0,57.8 979.8,57.8 980.7,57.8 981.5,57.8 982.4,57.8 983.2,57.8 984.0,57.8 984.9,57.8 985.7,57.8 986.6,57.8 987.4,57.8 988.3,57.8 989.1,57.8 989.9,57.8 990.8,57.8 991.6,57.8 992.5,57.8 993.3,57.8 994.2,57.8 995.0,57.8" fill="none" stroke="#ff9200" stroke-width="2.8" stroke-linejoin="round"/>
<rect x="1091.4" y="32.5" width="25.6" height="18.8" fill="#000"/>
<text transform="translate(1123.9,52.0) scale(0.82,1)" font-size="30.5" text-anchor="start" fill="#1c1c1c" font-weight="normal">N5+N6</text>
<rect x="1091.4" y="78.3" width="25.6" height="8.6" fill="#ff9200"/>
<text transform="translate(1123.9,88.8) scale(0.82,1)" font-size="30.5" text-anchor="start" fill="#1c1c1c" font-weight="normal">Fit</text>
<text transform="translate(1123.9,125.7) scale(0.82,1)" font-size="30.5" text-anchor="start" fill="#1c1c1c" font-weight="normal">Kd=1 (±0.5) nM</text>
<line x1="827.3" y1="311.3" x2="827.3" y2="572.8" stroke="#000" stroke-width="1.8" stroke-linecap="butt"/>
<line x1="819.3" y1="571.9" x2="1086.2" y2="571.9" stroke="#000" stroke-width="1.8" stroke-linecap="butt"/>
<line x1="814.3" y1="338.9" x2="827.3" y2="338.9" stroke="#000" stroke-width="1.8" stroke-linecap="butt"/>
<text transform="translate(805.3,349.4) scale(1,1)" font-size="31" text-anchor="end" fill="#1c1c1c" font-weight="normal">0</text>
<line x1="814.3" y1="390.5" x2="827.3" y2="390.5" stroke="#000" stroke-width="1.8" stroke-linecap="butt"/>
<text transform="translate(805.3,401.0) scale(1,1)" font-size="31" text-anchor="end" fill="#1c1c1c" font-weight="normal">-10</text>
<line x1="814.3" y1="442.1" x2="827.3" y2="442.1" stroke="#000" stroke-width="1.8" stroke-linecap="butt"/>
<text transform="translate(805.3,452.6) scale(1,1)" font-size="31" text-anchor="end" fill="#1c1c1c" font-weight="normal">-20</text>
<line x1="814.3" y1="493.7" x2="827.3" y2="493.7" stroke="#000" stroke-width="1.8" stroke-linecap="butt"/>
<text transform="translate(805.3,504.2) scale(1,1)" font-size="31" text-anchor="end" fill="#1c1c1c" font-weight="normal">-30</text>
<line x1="814.3" y1="545.3" x2="827.3" y2="545.3" stroke="#000" stroke-width="1.8" stroke-linecap="butt"/>
<text transform="translate(805.3,555.8) scale(1,1)" font-size="31" text-anchor="end" fill="#1c1c1c" font-weight="normal">-40</text>
<line x1="820.3" y1="313.1" x2="827.3" y2="313.1" stroke="#000" stroke-width="1.8" stroke-linecap="butt"/>
<line x1="820.3" y1="364.7" x2="827.3" y2="364.7" stroke="#000" stroke-width="1.8" stroke-linecap="butt"/>
<line x1="820.3" y1="416.3" x2="827.3" y2="416.3" stroke="#000" stroke-width="1.8" stroke-linecap="butt"/>
<line x1="820.3" y1="467.9" x2="827.3" y2="467.9" stroke="#000" stroke-width="1.8" stroke-linecap="butt"/>
<line x1="820.3" y1="519.5" x2="827.3" y2="519.5" stroke="#000" stroke-width="1.8" stroke-linecap="butt"/>
<line x1="820.3" y1="571.1" x2="827.3" y2="571.1" stroke="#000" stroke-width="1.8" stroke-linecap="butt"/>
<line x1="827.3" y1="571.9" x2="827.3" y2="584.9" stroke="#000" stroke-width="1.8" stroke-linecap="butt"/>
<text transform="translate(827.3,615.9) scale(1,1)" font-size="31" text-anchor="middle" fill="#1c1c1c" font-weight="normal">0</text>
<line x1="853.1" y1="571.9" x2="853.1" y2="578.9" stroke="#000" stroke-width="1.8" stroke-linecap="butt"/>
<line x1="878.9" y1="571.9" x2="878.9" y2="578.9" stroke="#000" stroke-width="1.8" stroke-linecap="butt"/>
<line x1="904.7" y1="571.9" x2="904.7" y2="578.9" stroke="#000" stroke-width="1.8" stroke-linecap="butt"/>
<line x1="930.5" y1="571.9" x2="930.5" y2="578.9" stroke="#000" stroke-width="1.8" stroke-linecap="butt"/>
<line x1="956.3" y1="571.9" x2="956.3" y2="584.9" stroke="#000" stroke-width="1.8" stroke-linecap="butt"/>
<text transform="translate(956.3,615.9) scale(1,1)" font-size="31" text-anchor="middle" fill="#1c1c1c" font-weight="normal">1</text>
<line x1="982.1" y1="571.9" x2="982.1" y2="578.9" stroke="#000" stroke-width="1.8" stroke-linecap="butt"/>
<line x1="1007.9" y1="571.9" x2="1007.9" y2="578.9" stroke="#000" stroke-width="1.8" stroke-linecap="butt"/>
<line x1="1033.7" y1="571.9" x2="1033.7" y2="578.9" stroke="#000" stroke-width="1.8" stroke-linecap="butt"/>
<line x1="1059.5" y1="571.9" x2="1059.5" y2="578.9" stroke="#000" stroke-width="1.8" stroke-linecap="butt"/>
<line x1="1085.3" y1="571.9" x2="1085.3" y2="584.9" stroke="#000" stroke-width="1.8" stroke-linecap="butt"/>
<text transform="translate(1085.3,615.9) scale(1,1)" font-size="31" text-anchor="middle" fill="#1c1c1c" font-weight="normal">2</text>
<rect x="826.3" y="549.3" width="11.0" height="11.0" fill="#000"/>
<rect x="831.4" y="539.0" width="11.0" height="11.0" fill="#000"/>
<rect x="843.4" y="539.0" width="11.0" height="11.0" fill="#000"/>
<rect x="851.9" y="535.6" width="11.0" height="11.0" fill="#000"/>
<rect x="860.4" y="518.5" width="11.0" height="11.0" fill="#000"/>
<rect x="869.0" y="503.2" width="11.0" height="11.0" fill="#000"/>
<rect x="877.5" y="469.0" width="11.0" height="11.0" fill="#000"/>
<rect x="886.1" y="438.2" width="11.0" height="11.0" fill="#000"/>
<rect x="896.3" y="421.2" width="11.0" height="11.0" fill="#000"/>
<rect x="906.6" y="399.0" width="11.0" height="11.0" fill="#000"/>
<rect x="916.8" y="385.3" width="11.0" height="11.0" fill="#000"/>
<rect x="927.1" y="375.0" width="11.0" height="11.0" fill="#000"/>
<rect x="937.3" y="363.1" width="11.0" height="11.0" fill="#000"/>
<rect x="945.9" y="347.7" width="11.0" height="11.0" fill="#000"/>
<rect x="954.4" y="344.3" width="11.0" height="11.0" fill="#000"/>
<rect x="964.7" y="340.9" width="11.0" height="11.0" fill="#000"/>
<rect x="974.9" y="339.2" width="11.0" height="11.0" fill="#000"/>
<rect x="985.1" y="347.7" width="11.0" height="11.0" fill="#000"/>
<rect x="995.4" y="346.0" width="11.0" height="11.0" fill="#000"/>
<rect x="1005.6" y="339.2" width="11.0" height="11.0" fill="#000"/>
<rect x="1015.9" y="346.0" width="11.0" height="11.0" fill="#000"/>
<rect x="1026.1" y="337.5" width="11.0" height="11.0" fill="#000"/>
<rect x="1036.4" y="337.5" width="11.0" height="11.0" fill="#000"/>
<rect x="1046.6" y="346.0" width="11.0" height="11.0" fill="#000"/>
<rect x="1056.9" y="332.3" width="11.0" height="11.0" fill="#000"/>
<rect x="1068.9" y="346.0" width="11.0" height="11.0" fill="#000"/>
<rect x="1075.7" y="334.0" width="11.0" height="11.0" fill="#000"/>
<polyline points="827.3,558.4 828.6,557.8 829.9,557.3 831.2,556.6 832.5,555.9 833.8,555.2 835.1,554.5 836.4,553.7 837.7,552.9 839.0,552.0 840.3,551.0 841.6,550.0 842.9,549.0 844.2,547.9 845.5,546.7 846.7,545.5 848.0,544.2 849.3,542.8 850.6,541.4 851.9,539.9 853.2,538.3 854.5,536.7 855.8,534.9 857.1,533.1 858.4,531.2 859.7,529.2 861.0,527.2 862.3,525.0 863.6,522.8 864.9,520.5 866.2,518.1 867.5,515.6 868.8,513.0 870.1,510.3 871.4,507.6 872.7,504.7 874.0,501.8 875.3,498.8 876.6,495.8 877.9,492.6 879.2,489.4 880.5,486.1 881.8,482.8 883.0,479.5 884.3,476.0 885.6,472.6 886.9,469.1 888.2,465.6 889.5,462.0 890.8,458.5 892.1,455.0 893.4,451.4 894.7,447.9 896.0,444.4 897.3,440.9 898.6,437.4 899.9,434.0 901.2,430.6 902.5,427.3 903.8,424.0 905.1,420.8 906.4,417.7 907.7,414.6 909.0,411.6 910.3,408.7 911.6,405.9 912.9,403.1 914.2,400.4 915.5,397.8 916.8,395.3 918.1,392.9 919.4,390.6 920.6,388.4 921.9,386.2 923.2,384.2 924.5,382.2 925.8,380.3 927.1,378.5 928.4,376.7 929.7,375.1 931.0,373.5 932.3,372.0 933.6,370.5 934.9,369.2 936.2,367.9 937.5,366.7 938.8,365.5 940.1,364.4 941.4,363.3 942.7,362.3 944.0,361.4 945.3,360.5 946.6,359.7 947.9,358.9 949.2,358.1 950.5,357.4 951.8,356.7 953.1,356.1 954.4,355.5 955.7,354.9 956.9,354.4 958.2,353.9 959.5,353.4 960.8,353.0 962.1,352.6 963.4,352.2 964.7,351.8 966.0,351.4 967.3,351.1 968.6,350.8 969.9,350.5 971.2,350.2 972.5,350.0 973.8,349.7 975.1,349.5 976.4,349.3 977.7,349.1 979.0,348.9 980.3,348.7 981.6,348.6 982.9,348.4 984.2,348.3 985.5,348.1 986.8,348.0 988.1,347.9 989.4,347.8 990.7,347.7 992.0,347.6 993.2,347.5 994.5,347.4 995.8,347.3 997.1,347.2 998.4,347.1 999.7,347.1 1001.0,347.0 1002.3,346.9 1003.6,346.9 1004.9,346.8 1006.2,346.8 1007.5,346.7 1008.8,346.7 1010.1,346.7 1011.4,346.6 1012.7,346.6 1014.0,346.5 1015.3,346.5 1016.6,346.5 1017.9,346.5 1019.2,346.4 1020.5,346.4 1021.8,346.4 1023.1,346.4 1024.4,346.3 1025.7,346.3 1027.0,346.3 1028.3,346.3 1029.6,346.3 1030.8,346.3 1032.1,346.2 1033.4,346.2 1034.7,346.2 1036.0,346.2 1037.3,346.2 1038.6,346.2 1039.9,346.2 1041.2,346.2 1042.5,346.2 1043.8,346.1 1045.1,346.1 1046.4,346.1 1047.7,346.1 1049.0,346.1 1050.3,346.1 1051.6,346.1 1052.9,346.1 1054.2,346.1 1055.5,346.1 1056.8,346.1 1058.1,346.1 1059.4,346.1 1060.7,346.1 1062.0,346.1 1063.3,346.1 1064.6,346.1 1065.9,346.1 1067.1,346.1 1068.4,346.1 1069.7,346.1 1071.0,346.1 1072.3,346.1 1073.6,346.1 1074.9,346.1 1076.2,346.1 1077.5,346.1 1078.8,346.1 1080.1,346.1 1081.4,346.0 1082.7,346.0 1084.0,346.0 1085.3,346.0" fill="none" stroke="#ff9200" stroke-width="2.8" stroke-linejoin="round"/>
<rect x="1104.0" y="344.7" width="25.6" height="18.8" fill="#000"/>
<text transform="translate(1136.9,363.5) scale(0.82,1)" font-size="30.5" text-anchor="start" fill="#1c1c1c" font-weight="normal">N7+N8</text>
<rect x="1104.0" y="391.5" width="25.6" height="8.6" fill="#ff9200"/>
<text transform="translate(1136.9,402.0) scale(0.82,1)" font-size="30.5" text-anchor="start" fill="#1c1c1c" font-weight="normal">Fit</text>
<text transform="translate(1136.9,436.2) scale(0.82,1)" font-size="30.5" text-anchor="start" fill="#1c1c1c" font-weight="normal">Kd=10 (±2) nM</text>
<text transform="translate(960.7,655.6) scale(0.82,1)" font-size="34" text-anchor="middle" fill="#1c1c1c" font-weight="normal">Molar&#160;&#160;ratio</text>
<text transform="translate(731.0,300.0) rotate(-90) scale(0.82,1)" font-size="33.5" text-anchor="middle" fill="#1c1c1c" font-weight="normal">Q (kcal mol<tspan dy="-12" font-size="20">-1</tspan><tspan dy="12" font-size="1">&#8203;</tspan> of injectant)</text>
<text transform="translate(695.0,706.0) scale(0.8,1)" font-size="52" text-anchor="start" fill="#000" font-weight="bold">D</text>
<line x1="829.0" y1="718.0" x2="829.0" y2="976.0" stroke="#000" stroke-width="1.8" stroke-linecap="butt"/>
<line x1="821.0" y1="975.1" x2="1086.2" y2="975.1" stroke="#000" stroke-width="1.8" stroke-linecap="butt"/>
<line x1="816.0" y1="751.0" x2="829.0" y2="751.0" stroke="#000" stroke-width="1.8" stroke-linecap="butt"/>
<text transform="translate(807.0,761.5) scale(1,1)" font-size="31" text-anchor="end" fill="#1c1c1c" font-weight="normal">0</text>
<line x1="816.0" y1="814.8" x2="829.0" y2="814.8" stroke="#000" stroke-width="1.8" stroke-linecap="butt"/>
<text transform="translate(807.0,825.3) scale(1,1)" font-size="31" text-anchor="end" fill="#1c1c1c" font-weight="normal">-10</text>
<line x1="816.0" y1="878.6" x2="829.0" y2="878.6" stroke="#000" stroke-width="1.8" stroke-linecap="butt"/>
<text transform="translate(807.0,889.1) scale(1,1)" font-size="31" text-anchor="end" fill="#1c1c1c" font-weight="normal">-20</text>
<line x1="816.0" y1="942.4" x2="829.0" y2="942.4" stroke="#000" stroke-width="1.8" stroke-linecap="butt"/>
<text transform="translate(807.0,952.9) scale(1,1)" font-size="31" text-anchor="end" fill="#1c1c1c" font-weight="normal">-30</text>
<line x1="822.0" y1="719.1" x2="829.0" y2="719.1" stroke="#000" stroke-width="1.8" stroke-linecap="butt"/>
<line x1="822.0" y1="782.9" x2="829.0" y2="782.9" stroke="#000" stroke-width="1.8" stroke-linecap="butt"/>
<line x1="822.0" y1="846.7" x2="829.0" y2="846.7" stroke="#000" stroke-width="1.8" stroke-linecap="butt"/>
<line x1="822.0" y1="910.5" x2="829.0" y2="910.5" stroke="#000" stroke-width="1.8" stroke-linecap="butt"/>
<line x1="822.0" y1="974.3" x2="829.0" y2="974.3" stroke="#000" stroke-width="1.8" stroke-linecap="butt"/>
<line x1="829.0" y1="975.1" x2="829.0" y2="988.1" stroke="#000" stroke-width="1.8" stroke-linecap="butt"/>
<line x1="854.6" y1="975.1" x2="854.6" y2="982.1" stroke="#000" stroke-width="1.8" stroke-linecap="butt"/>
<line x1="880.3" y1="975.1" x2="880.3" y2="982.1" stroke="#000" stroke-width="1.8" stroke-linecap="butt"/>
<line x1="905.9" y1="975.1" x2="905.9" y2="982.1" stroke="#000" stroke-width="1.8" stroke-linecap="butt"/>
<line x1="931.5" y1="975.1" x2="931.5" y2="982.1" stroke="#000" stroke-width="1.8" stroke-linecap="butt"/>
<line x1="957.1" y1="975.1" x2="957.1" y2="988.1" stroke="#000" stroke-width="1.8" stroke-linecap="butt"/>
<line x1="982.8" y1="975.1" x2="982.8" y2="982.1" stroke="#000" stroke-width="1.8" stroke-linecap="butt"/>
<line x1="1008.4" y1="975.1" x2="1008.4" y2="982.1" stroke="#000" stroke-width="1.8" stroke-linecap="butt"/>
<line x1="1034.0" y1="975.1" x2="1034.0" y2="982.1" stroke="#000" stroke-width="1.8" stroke-linecap="butt"/>
<line x1="1059.7" y1="975.1" x2="1059.7" y2="982.1" stroke="#000" stroke-width="1.8" stroke-linecap="butt"/>
<line x1="1085.3" y1="975.1" x2="1085.3" y2="988.1" stroke="#000" stroke-width="1.8" stroke-linecap="butt"/>
<rect x="841.7" y="965.1" width="11.0" height="11.0" fill="#000"/>
<rect x="850.2" y="960.0" width="11.0" height="11.0" fill="#000"/>
<rect x="858.7" y="954.9" width="11.0" height="11.0" fill="#000"/>
<rect x="869.0" y="949.8" width="11.0" height="11.0" fill="#000"/>
<rect x="877.5" y="937.8" width="11.0" height="11.0" fill="#000"/>
<rect x="886.1" y="937.8" width="11.0" height="11.0" fill="#000"/>
<rect x="898.0" y="920.7" width="11.0" height="11.0" fill="#000"/>
<rect x="908.3" y="843.9" width="11.0" height="11.0" fill="#000"/>
<rect x="916.8" y="772.1" width="11.0" height="11.0" fill="#000"/>
<rect x="927.1" y="761.9" width="11.0" height="11.0" fill="#000"/>
<rect x="937.3" y="753.3" width="11.0" height="11.0" fill="#000"/>
<rect x="947.6" y="749.2" width="11.0" height="11.0" fill="#000"/>
<rect x="957.8" y="749.2" width="11.0" height="11.0" fill="#000"/>
<rect x="968.1" y="749.9" width="11.0" height="11.0" fill="#000"/>
<rect x="978.3" y="749.9" width="11.0" height="11.0" fill="#000"/>
<rect x="988.6" y="748.2" width="11.0" height="11.0" fill="#000"/>
<rect x="995.4" y="744.8" width="11.0" height="11.0" fill="#000"/>
<rect x="1005.6" y="746.5" width="11.0" height="11.0" fill="#000"/>
<rect x="1015.9" y="746.5" width="11.0" height="11.0" fill="#000"/>
<rect x="1026.1" y="744.8" width="11.0" height="11.0" fill="#000"/>
<rect x="1036.4" y="746.5" width="11.0" height="11.0" fill="#000"/>
<rect x="1046.6" y="746.5" width="11.0" height="11.0" fill="#000"/>
<rect x="1056.9" y="746.5" width="11.0" height="11.0" fill="#000"/>
<rect x="1067.1" y="744.8" width="11.0" height="11.0" fill="#000"/>
<rect x="1075.7" y="746.5" width="11.0" height="11.0" fill="#000"/>
<polyline points="845.7,971.1 846.9,970.3 848.1,969.6 849.3,968.9 850.5,968.2 851.7,967.5 852.9,966.8 854.1,966.0 855.3,965.3 856.5,964.6 857.7,963.9 858.9,963.2 860.1,962.5 861.3,961.8 862.5,961.0 863.7,960.3 864.9,959.6 866.1,958.9 867.4,958.2 868.6,957.5 869.8,956.7 871.0,956.0 872.2,955.3 873.4,954.6 874.6,953.9 875.8,953.1 877.0,952.4 878.2,951.7 879.4,951.0 880.6,950.2 881.8,949.5 883.0,948.7 884.2,948.0 885.4,947.2 886.6,946.4 887.8,945.6 889.0,944.8 890.2,943.9 891.4,942.9 892.6,941.9 893.9,940.8 895.1,939.6 896.3,938.2 897.5,936.7 898.7,934.8 899.9,932.7 901.1,930.1 902.3,927.1 903.5,923.3 904.7,918.8 905.9,913.4 907.1,906.9 908.3,899.3 909.5,890.4 910.7,880.2 911.9,869.1 913.1,857.0 914.3,844.6 915.5,832.2 916.7,820.2 917.9,809.0 919.2,799.0 920.4,790.2 921.6,782.8 922.8,776.6 924.0,771.6 925.2,767.6 926.4,764.4 927.6,761.9 928.8,760.0 930.0,758.5 931.2,757.3 932.4,756.4 933.6,755.8 934.8,755.3 936.0,754.9 937.2,754.6 938.4,754.4 939.6,754.2 940.8,754.1 942.0,754.0 943.2,753.9 944.5,753.8 945.7,753.8 946.9,753.8 948.1,753.7 949.3,753.7 950.5,753.7 951.7,753.7 952.9,753.7 954.1,753.7 955.3,753.7 956.5,753.7 957.7,753.7 958.9,753.7 960.1,753.7 961.3,753.7 962.5,753.7 963.7,753.7 964.9,753.7 966.1,753.7 967.3,753.7 968.5,753.7 969.7,753.7 971.0,753.7 972.2,753.7 973.4,753.7 974.6,753.7 975.8,753.7 977.0,753.7 978.2,753.7 979.4,753.7 980.6,753.7 981.8,753.7 983.0,753.7 984.2,753.7 985.4,753.7 986.6,753.7 987.8,753.7 989.0,753.7 990.2,753.7 991.4,753.7 992.6,753.7 993.8,753.7 995.0,753.7 996.3,753.7 997.5,753.7 998.7,753.7 999.9,753.7 1001.1,753.7 1002.3,753.7 1003.5,753.7 1004.7,753.7 1005.9,753.7 1007.1,753.7 1008.3,753.7 1009.5,753.7 1010.7,753.7 1011.9,753.7 1013.1,753.7 1014.3,753.7 1015.5,753.7 1016.7,753.7 1017.9,753.7 1019.1,753.7 1020.3,753.7 1021.6,753.7 1022.8,753.7 1024.0,753.7 1025.2,753.7 1026.4,753.7 1027.6,753.7 1028.8,753.7 1030.0,753.7 1031.2,753.7 1032.4,753.7 1033.6,753.7 1034.8,753.7 1036.0,753.7 1037.2,753.7 1038.4,753.7 1039.6,753.7 1040.8,753.7 1042.0,753.7 1043.2,753.7 1044.4,753.7 1045.6,753.7 1046.8,753.7 1048.1,753.7 1049.3,753.7 1050.5,753.7 1051.7,753.7 1052.9,753.7 1054.1,753.7 1055.3,753.7 1056.5,753.7 1057.7,753.7 1058.9,753.7 1060.1,753.7 1061.3,753.7 1062.5,753.7 1063.7,753.7 1064.9,753.7 1066.1,753.7 1067.3,753.7 1068.5,753.7 1069.7,753.7 1070.9,753.7 1072.1,753.7 1073.4,753.7 1074.6,753.7 1075.8,753.7 1077.0,753.7 1078.2,753.7 1079.4,753.7 1080.6,753.7 1081.8,753.7 1083.0,753.7 1084.2,753.7 1085.4,753.7" fill="none" stroke="#ff9200" stroke-width="2.8" stroke-linejoin="round"/>
<rect x="1098.3" y="743.5" width="25.6" height="18.8" fill="#000"/>
<text transform="translate(1130.7,762.9) scale(0.82,1)" font-size="30.5" text-anchor="start" fill="#1c1c1c" font-weight="normal">P5A+P6A</text>
<rect x="1098.3" y="789.3" width="25.6" height="8.6" fill="#ff9200"/>
<text transform="translate(1130.7,799.8) scale(0.82,1)" font-size="30.5" text-anchor="start" fill="#1c1c1c" font-weight="normal">Fit</text>
<text transform="translate(1130.7,836.4) scale(0.82,1)" font-size="30.5" text-anchor="start" fill="#1c1c1c" font-weight="normal">Kd=4.0 (±0.5) nM</text>
<line x1="829.0" y1="994.3" x2="829.0" y2="1256.4" stroke="#000" stroke-width="1.8" stroke-linecap="butt"/>
<line x1="829.0" y1="1255.5" x2="1086.2" y2="1255.5" stroke="#000" stroke-width="1.8" stroke-linecap="butt"/>
<line x1="816.0" y1="1030.0" x2="829.0" y2="1030.0" stroke="#000" stroke-width="1.8" stroke-linecap="butt"/>
<text transform="translate(807.0,1040.5) scale(1,1)" font-size="31" text-anchor="end" fill="#1c1c1c" font-weight="normal">0</text>
<line x1="816.0" y1="1099.3" x2="829.0" y2="1099.3" stroke="#000" stroke-width="1.8" stroke-linecap="butt"/>
<text transform="translate(807.0,1109.8) scale(1,1)" font-size="31" text-anchor="end" fill="#1c1c1c" font-weight="normal">-10</text>
<line x1="816.0" y1="1168.6" x2="829.0" y2="1168.6" stroke="#000" stroke-width="1.8" stroke-linecap="butt"/>
<text transform="translate(807.0,1179.1) scale(1,1)" font-size="31" text-anchor="end" fill="#1c1c1c" font-weight="normal">-20</text>
<line x1="816.0" y1="1237.9" x2="829.0" y2="1237.9" stroke="#000" stroke-width="1.8" stroke-linecap="butt"/>
<text transform="translate(807.0,1248.4) scale(1,1)" font-size="31" text-anchor="end" fill="#1c1c1c" font-weight="normal">-30</text>
<line x1="822.0" y1="995.4" x2="829.0" y2="995.4" stroke="#000" stroke-width="1.8" stroke-linecap="butt"/>
<line x1="822.0" y1="1064.7" x2="829.0" y2="1064.7" stroke="#000" stroke-width="1.8" stroke-linecap="butt"/>
<line x1="822.0" y1="1134.0" x2="829.0" y2="1134.0" stroke="#000" stroke-width="1.8" stroke-linecap="butt"/>
<line x1="822.0" y1="1203.2" x2="829.0" y2="1203.2" stroke="#000" stroke-width="1.8" stroke-linecap="butt"/>
<line x1="829.0" y1="1255.5" x2="829.0" y2="1268.5" stroke="#000" stroke-width="1.8" stroke-linecap="butt"/>
<text transform="translate(829.0,1299.5) scale(1,1)" font-size="31" text-anchor="middle" fill="#1c1c1c" font-weight="normal">0</text>
<line x1="854.6" y1="1255.5" x2="854.6" y2="1262.5" stroke="#000" stroke-width="1.8" stroke-linecap="butt"/>
<line x1="880.3" y1="1255.5" x2="880.3" y2="1262.5" stroke="#000" stroke-width="1.8" stroke-linecap="butt"/>
<line x1="905.9" y1="1255.5" x2="905.9" y2="1262.5" stroke="#000" stroke-width="1.8" stroke-linecap="butt"/>
<line x1="931.5" y1="1255.5" x2="931.5" y2="1262.5" stroke="#000" stroke-width="1.8" stroke-linecap="butt"/>
<line x1="957.1" y1="1255.5" x2="957.1" y2="1268.5" stroke="#000" stroke-width="1.8" stroke-linecap="butt"/>
<text transform="translate(957.1,1299.5) scale(1,1)" font-size="31" text-anchor="middle" fill="#1c1c1c" font-weight="normal">1</text>
<line x1="982.8" y1="1255.5" x2="982.8" y2="1262.5" stroke="#000" stroke-width="1.8" stroke-linecap="butt"/>
<line x1="1008.4" y1="1255.5" x2="1008.4" y2="1262.5" stroke="#000" stroke-width="1.8" stroke-linecap="butt"/>
<line x1="1034.0" y1="1255.5" x2="1034.0" y2="1262.5" stroke="#000" stroke-width="1.8" stroke-linecap="butt"/>
<line x1="1059.7" y1="1255.5" x2="1059.7" y2="1262.5" stroke="#000" stroke-width="1.8" stroke-linecap="butt"/>
<line x1="1085.3" y1="1255.5" x2="1085.3" y2="1268.5" stroke="#000" stroke-width="1.8" stroke-linecap="butt"/>
<text transform="translate(1085.3,1299.5) scale(1,1)" font-size="31" text-anchor="middle" fill="#1c1c1c" font-weight="normal">2</text>
<rect x="826.3" y="1226.1" width="11.0" height="11.0" fill="#000"/>
<rect x="834.8" y="1227.8" width="11.0" height="11.0" fill="#000"/>
<rect x="843.4" y="1226.1" width="11.0" height="11.0" fill="#000"/>
<rect x="851.9" y="1215.9" width="11.0" height="11.0" fill="#000"/>
<rect x="862.2" y="1217.6" width="11.0" height="11.0" fill="#000"/>
<rect x="870.7" y="1207.3" width="11.0" height="11.0" fill="#000"/>
<rect x="879.2" y="1164.6" width="11.0" height="11.0" fill="#000"/>
<rect x="889.5" y="1120.2" width="11.0" height="11.0" fill="#000"/>
<rect x="899.1" y="1090.5" width="11.0" height="11.0" fill="#000"/>
<rect x="908.3" y="1070.7" width="11.0" height="11.0" fill="#000"/>
<rect x="918.5" y="1057.0" width="11.0" height="11.0" fill="#000"/>
<rect x="928.8" y="1046.7" width="11.0" height="11.0" fill="#000"/>
<rect x="937.3" y="1034.8" width="11.0" height="11.0" fill="#000"/>
<rect x="947.6" y="1034.8" width="11.0" height="11.0" fill="#000"/>
<rect x="957.8" y="1031.4" width="11.0" height="11.0" fill="#000"/>
<rect x="966.4" y="1024.5" width="11.0" height="11.0" fill="#000"/>
<rect x="976.6" y="1031.4" width="11.0" height="11.0" fill="#000"/>
<rect x="986.9" y="1028.0" width="11.0" height="11.0" fill="#000"/>
<rect x="997.1" y="1028.0" width="11.0" height="11.0" fill="#000"/>
<rect x="1007.4" y="1024.5" width="11.0" height="11.0" fill="#000"/>
<rect x="1017.6" y="1022.8" width="11.0" height="11.0" fill="#000"/>
<rect x="1027.9" y="1028.0" width="11.0" height="11.0" fill="#000"/>
<rect x="1038.1" y="1021.1" width="11.0" height="11.0" fill="#000"/>
<rect x="1048.4" y="1026.2" width="11.0" height="11.0" fill="#000"/>
<rect x="1058.6" y="1024.5" width="11.0" height="11.0" fill="#000"/>
<rect x="1068.9" y="1022.8" width="11.0" height="11.0" fill="#000"/>
<rect x="1075.7" y="1024.5" width="11.0" height="11.0" fill="#000"/>
<polyline points="829.0,1236.8 830.3,1236.6 831.6,1236.5 832.9,1236.3 834.2,1236.1 835.4,1235.9 836.7,1235.7 838.0,1235.4 839.3,1235.1 840.6,1234.8 841.9,1234.5 843.2,1234.1 844.5,1233.7 845.7,1233.2 847.0,1232.7 848.3,1232.2 849.6,1231.6 850.9,1231.0 852.2,1230.2 853.5,1229.5 854.8,1228.6 856.1,1227.7 857.3,1226.7 858.6,1225.6 859.9,1224.4 861.2,1223.1 862.5,1221.7 863.8,1220.2 865.1,1218.6 866.4,1216.8 867.7,1214.9 868.9,1212.8 870.2,1210.6 871.5,1208.2 872.8,1205.6 874.1,1202.9 875.4,1200.0 876.7,1196.9 878.0,1193.7 879.2,1190.2 880.5,1186.6 881.8,1182.8 883.1,1178.8 884.4,1174.7 885.7,1170.4 887.0,1166.0 888.3,1161.4 889.6,1156.7 890.8,1152.0 892.1,1147.1 893.4,1142.2 894.7,1137.3 896.0,1132.4 897.3,1127.5 898.6,1122.6 899.9,1117.7 901.2,1113.0 902.4,1108.3 903.7,1103.8 905.0,1099.4 906.3,1095.2 907.6,1091.1 908.9,1087.1 910.2,1083.4 911.5,1079.8 912.7,1076.4 914.0,1073.2 915.3,1070.2 916.6,1067.3 917.9,1064.6 919.2,1062.1 920.5,1059.8 921.8,1057.6 923.1,1055.6 924.3,1053.7 925.6,1051.9 926.9,1050.3 928.2,1048.8 929.5,1047.5 930.8,1046.2 932.1,1045.0 933.4,1044.0 934.7,1043.0 935.9,1042.1 937.2,1041.3 938.5,1040.5 939.8,1039.8 941.1,1039.2 942.4,1038.6 943.7,1038.1 945.0,1037.6 946.2,1037.2 947.5,1036.8 948.8,1036.4 950.1,1036.1 951.4,1035.8 952.7,1035.5 954.0,1035.2 955.3,1035.0 956.6,1034.8 957.8,1034.6 959.1,1034.4 960.4,1034.3 961.7,1034.1 963.0,1034.0 964.3,1033.9 965.6,1033.8 966.9,1033.7 968.2,1033.6 969.4,1033.5 970.7,1033.4 972.0,1033.4 973.3,1033.3 974.6,1033.2 975.9,1033.2 977.2,1033.1 978.5,1033.1 979.7,1033.1 981.0,1033.0 982.3,1033.0 983.6,1033.0 984.9,1032.9 986.2,1032.9 987.5,1032.9 988.8,1032.9 990.1,1032.9 991.3,1032.8 992.6,1032.8 993.9,1032.8 995.2,1032.8 996.5,1032.8 997.8,1032.8 999.1,1032.8 1000.4,1032.8 1001.7,1032.8 1002.9,1032.8 1004.2,1032.8 1005.5,1032.7 1006.8,1032.7 1008.1,1032.7 1009.4,1032.7 1010.7,1032.7 1012.0,1032.7 1013.2,1032.7 1014.5,1032.7 1015.8,1032.7 1017.1,1032.7 1018.4,1032.7 1019.7,1032.7 1021.0,1032.7 1022.3,1032.7 1023.6,1032.7 1024.8,1032.7 1026.1,1032.7 1027.4,1032.7 1028.7,1032.7 1030.0,1032.7 1031.3,1032.7 1032.6,1032.7 1033.9,1032.7 1035.2,1032.7 1036.4,1032.7 1037.7,1032.7 1039.0,1032.7 1040.3,1032.7 1041.6,1032.7 1042.9,1032.7 1044.2,1032.7 1045.5,1032.7 1046.7,1032.7 1048.0,1032.7 1049.3,1032.7 1050.6,1032.7 1051.9,1032.7 1053.2,1032.7 1054.5,1032.7 1055.8,1032.7 1057.1,1032.7 1058.3,1032.7 1059.6,1032.7 1060.9,1032.7 1062.2,1032.7 1063.5,1032.7 1064.8,1032.7 1066.1,1032.7 1067.4,1032.7 1068.7,1032.7 1069.9,1032.7 1071.2,1032.7 1072.5,1032.7 1073.8,1032.7 1075.1,1032.7 1076.4,1032.7 1077.7,1032.7 1079.0,1032.7 1080.2,1032.7 1081.5,1032.7 1082.8,1032.7 1084.1,1032.7 1085.4,1032.7" fill="none" stroke="#ff9200" stroke-width="2.8" stroke-linejoin="round"/>
<rect x="1098.3" y="1026.6" width="25.6" height="18.8" fill="#000"/>
<text transform="translate(1130.7,1045.4) scale(0.82,1)" font-size="30.5" text-anchor="start" fill="#1c1c1c" font-weight="normal">P7A+P8A</text>
<rect x="1098.3" y="1072.5" width="25.6" height="8.6" fill="#ff9200"/>
<text transform="translate(1130.7,1083.0) scale(0.82,1)" font-size="30.5" text-anchor="start" fill="#1c1c1c" font-weight="normal">Fit</text>
<text transform="translate(1130.7,1118.9) scale(0.82,1)" font-size="30.5" text-anchor="start" fill="#1c1c1c" font-weight="normal">Kd=19 (±2) nM</text>
<text transform="translate(961.6,1338.5) scale(0.82,1)" font-size="34" text-anchor="middle" fill="#1c1c1c" font-weight="normal">Molar&#160;&#160;ratio</text>
<text transform="translate(731.0,990.0) rotate(-90) scale(0.82,1)" font-size="33.5" text-anchor="middle" fill="#1c1c1c" font-weight="normal">Q (kcal mol<tspan dy="-12" font-size="20">-1</tspan><tspan dy="12" font-size="1">&#8203;</tspan> of injectant)</text>
<text transform="translate(2.3,1402.9) scale(0.8,1)" font-size="52" text-anchor="start" fill="#000" font-weight="bold">E</text>
<rect x="151.4" y="1464.3" width="353.3" height="353.3" fill="#c0c0c0"/>
<rect x="151.4" y="1464.3" width="88.6" height="88.2" fill="#ff9f00"/>
<text transform="translate(191.4,1526.2) scale(0.86,1)" font-size="41" text-anchor="middle" fill="#000" font-weight="normal">45</text>
<rect x="239.5" y="1464.3" width="89.3" height="88.2" fill="#c00000"/>
<text transform="translate(282.4,1526.2) scale(0.86,1)" font-size="41" text-anchor="middle" fill="#000" font-weight="normal">76</text>
<rect x="328.3" y="1464.3" width="87.1" height="88.2" fill="#ffd200"/>
<text transform="translate(370.1,1526.2) scale(0.86,1)" font-size="41" text-anchor="middle" fill="#000" font-weight="normal">37</text>
<rect x="414.9" y="1464.3" width="90.3" height="88.2" fill="#ffff19"/>
<text transform="translate(458.3,1526.2) scale(0.86,1)" font-size="41" text-anchor="middle" fill="#000" font-weight="normal">28</text>
<rect x="239.5" y="1552.0" width="89.3" height="89.3" fill="#ffd200"/>
<text transform="translate(282.4,1614.6) scale(0.86,1)" font-size="41" text-anchor="middle" fill="#000" font-weight="normal">37</text>
<rect x="328.3" y="1552.0" width="87.1" height="89.3" fill="#ff9900"/>
<text transform="translate(370.1,1614.6) scale(0.86,1)" font-size="41" text-anchor="middle" fill="#000" font-weight="normal">46</text>
<rect x="414.9" y="1552.0" width="90.3" height="89.3" fill="#ffb300"/>
<text transform="translate(458.3,1614.6) scale(0.86,1)" font-size="41" text-anchor="middle" fill="#000" font-weight="normal">42</text>
<rect x="328.3" y="1640.8" width="87.1" height="87.5" fill="#ff6000"/>
<text transform="translate(370.1,1702.8) scale(0.86,1)" font-size="41" text-anchor="middle" fill="#000" font-weight="normal">55</text>
<rect x="414.9" y="1640.8" width="90.3" height="87.5" fill="#d40000"/>
<text transform="translate(458.3,1702.8) scale(0.86,1)" font-size="41" text-anchor="middle" fill="#000" font-weight="normal">74</text>
<rect x="414.9" y="1727.8" width="90.3" height="90.3" fill="#ff8c00"/>
<text transform="translate(458.3,1794.2) scale(0.86,1)" font-size="41" text-anchor="middle" fill="#000" font-weight="normal">48</text>
<rect x="151.4" y="1464.3" width="353.29999999999995" height="353.29999999999995" fill="none" stroke="#000" stroke-width="1.6"/>
<rect x="536.7" y="1465.2" width="32.5" height="6.1" fill="#000000"/>
<rect x="536.7" y="1470.7" width="32.5" height="6.1" fill="#000000"/>
<rect x="536.7" y="1476.3" width="32.5" height="6.1" fill="#100000"/>
<rect x="536.7" y="1481.8" width="32.5" height="6.1" fill="#210000"/>
<rect x="536.7" y="1487.3" width="32.5" height="6.1" fill="#320000"/>
<rect x="536.7" y="1492.9" width="32.5" height="6.1" fill="#430000"/>
<rect x="536.7" y="1498.4" width="32.5" height="6.1" fill="#530000"/>
<rect x="536.7" y="1503.9" width="32.5" height="6.1" fill="#640000"/>
<rect x="536.7" y="1509.5" width="32.5" height="6.1" fill="#750000"/>
<rect x="536.7" y="1515.0" width="32.5" height="6.1" fill="#850000"/>
<rect x="536.7" y="1520.5" width="32.5" height="6.1" fill="#960000"/>
<rect x="536.7" y="1526.0" width="32.5" height="6.1" fill="#a70000"/>
<rect x="536.7" y="1531.6" width="32.5" height="6.1" fill="#b80000"/>
<rect x="536.7" y="1537.1" width="32.5" height="6.1" fill="#c80000"/>
<rect x="536.7" y="1542.6" width="32.5" height="6.1" fill="#d90000"/>
<rect x="536.7" y="1548.2" width="32.5" height="6.1" fill="#ea0000"/>
<rect x="536.7" y="1553.7" width="32.5" height="6.1" fill="#fb0000"/>
<rect x="536.7" y="1559.2" width="32.5" height="6.1" fill="#ff0600"/>
<rect x="536.7" y="1564.8" width="32.5" height="6.1" fill="#ff0f00"/>
<rect x="536.7" y="1570.3" width="32.5" height="6.1" fill="#ff1700"/>
<rect x="536.7" y="1575.8" width="32.5" height="6.1" fill="#ff1f00"/>
<rect x="536.7" y="1581.4" width="32.5" height="6.1" fill="#ff2800"/>
<rect x="536.7" y="1586.9" width="32.5" height="6.1" fill="#ff3000"/>
<rect x="536.7" y="1592.4" width="32.5" height="6.1" fill="#ff3800"/>
<rect x="536.7" y="1598.0" width="32.5" height="6.1" fill="#ff4100"/>
<rect x="536.7" y="1603.5" width="32.5" height="6.1" fill="#ff4900"/>
<rect x="536.7" y="1609.0" width="32.5" height="6.1" fill="#ff5100"/>
<rect x="536.7" y="1614.5" width="32.5" height="6.1" fill="#ff5a00"/>
<rect x="536.7" y="1620.1" width="32.5" height="6.1" fill="#ff6200"/>
<rect x="536.7" y="1625.6" width="32.5" height="6.1" fill="#ff6b00"/>
<rect x="536.7" y="1631.1" width="32.5" height="6.1" fill="#ff7300"/>
<rect x="536.7" y="1636.7" width="32.5" height="6.1" fill="#ff7b00"/>
<rect x="536.7" y="1642.2" width="32.5" height="6.1" fill="#ff8400"/>
<rect x="536.7" y="1647.7" width="32.5" height="6.1" fill="#ff8c00"/>
<rect x="536.7" y="1653.3" width="32.5" height="6.1" fill="#ff9400"/>
<rect x="536.7" y="1658.8" width="32.5" height="6.1" fill="#ff9d00"/>
<rect x="536.7" y="1664.3" width="32.5" height="6.1" fill="#ffa500"/>
<rect x="536.7" y="1669.9" width="32.5" height="6.1" fill="#ffae00"/>
<rect x="536.7" y="1675.4" width="32.5" height="6.1" fill="#ffb600"/>
<rect x="536.7" y="1680.9" width="32.5" height="6.1" fill="#ffbe00"/>
<rect x="536.7" y="1686.5" width="32.5" height="6.1" fill="#ffc700"/>
<rect x="536.7" y="1692.0" width="32.5" height="6.1" fill="#ffcf00"/>
<rect x="536.7" y="1697.5" width="32.5" height="6.1" fill="#ffd700"/>
<rect x="536.7" y="1703.0" width="32.5" height="6.1" fill="#ffe000"/>
<rect x="536.7" y="1708.6" width="32.5" height="6.1" fill="#ffe800"/>
<rect x="536.7" y="1714.1" width="32.5" height="6.1" fill="#fff000"/>
<rect x="536.7" y="1719.6" width="32.5" height="6.1" fill="#fff900"/>
<rect x="536.7" y="1725.2" width="32.5" height="6.1" fill="#ffff04"/>
<rect x="536.7" y="1730.7" width="32.5" height="6.1" fill="#ffff15"/>
<rect x="536.7" y="1736.2" width="32.5" height="6.1" fill="#ffff26"/>
<rect x="536.7" y="1741.8" width="32.5" height="6.1" fill="#ffff37"/>
<rect x="536.7" y="1747.3" width="32.5" height="6.1" fill="#ffff47"/>
<rect x="536.7" y="1752.8" width="32.5" height="6.1" fill="#ffff58"/>
<rect x="536.7" y="1758.4" width="32.5" height="6.1" fill="#ffff69"/>
<rect x="536.7" y="1763.9" width="32.5" height="6.1" fill="#ffff7a"/>
<rect x="536.7" y="1769.4" width="32.5" height="6.1" fill="#ffff8a"/>
<rect x="536.7" y="1775.0" width="32.5" height="6.1" fill="#ffff9b"/>
<rect x="536.7" y="1780.5" width="32.5" height="6.1" fill="#ffffac"/>
<rect x="536.7" y="1786.0" width="32.5" height="6.1" fill="#ffffbc"/>
<rect x="536.7" y="1791.5" width="32.5" height="6.1" fill="#ffffcd"/>
<rect x="536.7" y="1797.1" width="32.5" height="6.1" fill="#ffffde"/>
<rect x="536.7" y="1802.6" width="32.5" height="6.1" fill="#ffffef"/>
<rect x="536.7" y="1808.1" width="32.5" height="6.1" fill="#ffffff"/>
<rect x="536.7" y="1813.7" width="32.5" height="6.1" fill="#ffffff"/>
<rect x="536.7" y="1465.2" width="32.5" height="354.0" fill="none" stroke="#000" stroke-width="1.4"/>
<line x1="569.2" y1="1473.1" x2="576.2" y2="1473.1" stroke="#000" stroke-width="1.6" stroke-linecap="butt"/>
<text transform="translate(588.5,1482.6) scale(0.97,1)" font-size="26" text-anchor="start" fill="#1c1c1c" font-weight="normal">90</text>
<line x1="569.2" y1="1643.5" x2="576.2" y2="1643.5" stroke="#000" stroke-width="1.6" stroke-linecap="butt"/>
<text transform="translate(588.5,1653.0) scale(0.97,1)" font-size="26" text-anchor="start" fill="#1c1c1c" font-weight="normal">50</text>
<line x1="569.2" y1="1811.3" x2="576.2" y2="1811.3" stroke="#000" stroke-width="1.6" stroke-linecap="butt"/>
<text transform="translate(588.5,1820.8) scale(0.97,1)" font-size="26" text-anchor="start" fill="#1c1c1c" font-weight="normal">10</text>
<text transform="translate(139.5,1448.8) scale(0.82,1)" font-size="34.2" text-anchor="start" fill="#1c1c1c" font-weight="normal">Experimental midpoint Tm (<tspan dy="-10" font-size="21">o</tspan><tspan dy="10">C)</tspan></text>
<text transform="translate(567.0,1448.8) scale(0.82,1)" font-size="33.5" text-anchor="start" fill="#1c1c1c" font-weight="normal">T (<tspan dy="-10" font-size="21">o</tspan><tspan dy="10">C)</tspan></text>
<text transform="translate(112.0,1515.8) scale(0.97,1)" font-size="27" text-anchor="start" fill="#1c1c1c" font-weight="normal">N5</text>
<text transform="translate(203.4,1860.0) rotate(-90) scale(0.97,1)" font-size="27" text-anchor="start" fill="#1c1c1c" font-weight="normal">N5</text>
<text transform="translate(112.0,1603.8) scale(0.97,1)" font-size="27" text-anchor="start" fill="#1c1c1c" font-weight="normal">N6</text>
<text transform="translate(291.9,1860.0) rotate(-90) scale(0.97,1)" font-size="27" text-anchor="start" fill="#1c1c1c" font-weight="normal">N6</text>
<text transform="translate(112.0,1691.8) scale(0.97,1)" font-size="27" text-anchor="start" fill="#1c1c1c" font-weight="normal">N7</text>
<text transform="translate(379.6,1860.0) rotate(-90) scale(0.97,1)" font-size="27" text-anchor="start" fill="#1c1c1c" font-weight="normal">N7</text>
<text transform="translate(112.0,1779.8) scale(0.97,1)" font-size="27" text-anchor="start" fill="#1c1c1c" font-weight="normal">N8</text>
<text transform="translate(467.8,1860.0) rotate(-90) scale(0.97,1)" font-size="27" text-anchor="start" fill="#1c1c1c" font-weight="normal">N8</text>
<text transform="translate(86.0,1644.0) rotate(-90) scale(0.82,1)" font-size="34.5" text-anchor="middle" fill="#1c1c1c" font-weight="normal">Peptide</text>
<text transform="translate(325.0,1895.5) scale(0.82,1)" font-size="34.5" text-anchor="middle" fill="#1c1c1c" font-weight="normal">Peptide</text>
<text transform="translate(1412.0,37.3) scale(0.8,1)" font-size="52" text-anchor="start" fill="#000" font-weight="bold">F</text>
<text transform="translate(1452.8,52.8) scale(0.825,1)" font-size="34" text-anchor="start" fill="#1c1c1c" font-weight="normal">cLuc:CC-peptide</text>
<text transform="translate(1461.3,232.5) scale(0.825,1)" font-size="34" text-anchor="start" fill="#1c1c1c" font-weight="normal">nLuc:CC-peptide</text>
<path d="M1460.3,105.5 V88 A18,18 0 0 1 1478.5,105.5 Z" fill="#6a6a6a"/>
<path d="M1477,102 C1486,102 1488,93 1500,95" fill="none" stroke="#6a6a6a" stroke-width="3" stroke-linecap="round"/>
<polygon points="1500.9,73.9 1497.3,83.6 1504.4,100.5 1510.9,87.5" fill="#626262"/>
<polygon points="1525.9,102.5 1538.7,99.9 1546.2,85.8 1548.0,82.6 1542.0,74.6 1535.0,73.9 1528.9,81.6" fill="#626262"/>
<polygon points="1560.0,102.5 1572.7,99.9 1580.2,85.8 1582.0,82.6 1576.0,74.6 1569.0,73.9 1563.0,81.6" fill="#626262"/>
<polygon points="1594.0,102.5 1606.8,99.9 1614.3,85.8 1616.1,82.6 1610.1,74.6 1603.0,73.9 1597.0,81.6" fill="#626262"/>
<polygon points="1628.1,102.5 1640.8,99.9 1641.7,101.0 1646.6,81.2 1636.1,71.4 1631.1,81.6" fill="#626262"/>
<path d="M1500.9,73.9 L1519.7,69.6 Q1532.9,76.6 1538.7,99.9 L1521.9,105.0 Q1514.4,81.1 1500.9,73.9Z" fill="#6a6a6a"/>
<path d="M1535.0,73.9 L1553.8,69.6 Q1567.0,76.6 1572.7,99.9 L1556.0,105.0 Q1548.5,81.1 1535.0,73.9Z" fill="#6a6a6a"/>
<path d="M1569.0,73.9 L1587.8,69.6 Q1601.0,76.6 1606.8,99.9 L1590.0,105.0 Q1582.5,81.1 1569.0,73.9Z" fill="#6a6a6a"/>
<path d="M1603.1,73.9 L1621.9,69.6 Q1635.1,76.6 1640.8,99.9 L1624.1,105.0 Q1616.6,81.1 1603.1,73.9Z" fill="#6a6a6a"/>
<path d="M1467.5,157.2 V137.7 A19.5,19.5 0 1 0 1487,157.2 Z" fill="#6a6a6a"/>
<path d="M1486,159 C1497,160 1497,169 1514,167" fill="none" stroke="#6a6a6a" stroke-width="3" stroke-linecap="round"/>
<polygon points="1511.0,189.7 1507.4,179.6 1514.5,161.9 1521.0,175.4" fill="#acacac"/>
<polygon points="1536.0,159.8 1548.8,162.5 1556.3,177.3 1558.1,180.7 1552.1,189.0 1545.0,189.7 1539.0,181.7" fill="#acacac"/>
<polygon points="1570.1,159.8 1582.8,162.5 1590.3,177.3 1592.1,180.7 1586.1,189.0 1579.1,189.7 1573.1,181.7" fill="#acacac"/>
<polygon points="1604.1,159.8 1616.9,162.5 1624.4,177.3 1626.2,180.7 1620.2,189.0 1613.1,189.7 1607.1,181.7" fill="#acacac"/>
<polygon points="1638.2,159.8 1650.9,162.5 1651.8,161.4 1656.7,182.1 1646.2,192.3 1641.2,181.7" fill="#acacac"/>
<path d="M1511.0,189.7 L1529.8,194.2 Q1543.0,186.9 1548.8,162.5 L1532.0,157.2 Q1524.5,182.2 1511.0,189.7Z" fill="#b6b6b6"/>
<path d="M1545.0,189.7 L1563.9,194.2 Q1577.1,186.9 1582.8,162.5 L1566.1,157.2 Q1558.6,182.2 1545.0,189.7Z" fill="#b6b6b6"/>
<path d="M1579.1,189.7 L1597.9,194.2 Q1611.1,186.9 1616.9,162.5 L1600.1,157.2 Q1592.6,182.2 1579.1,189.7Z" fill="#b6b6b6"/>
<path d="M1613.2,189.7 L1632.0,194.2 Q1645.2,186.9 1650.9,162.5 L1634.2,157.2 Q1626.7,182.2 1613.2,189.7Z" fill="#b6b6b6"/>
<path d="M1656,117.4 H1686.4 V112.3 L1697.2,123.2 L1686.4,134 V129 H1656 Z" fill="#fff" stroke="#000" stroke-width="2.2" stroke-linejoin="miter"/>
<path d="M1784,114 C1795,112 1796,106 1810,106" fill="none" stroke="#707070" stroke-width="2.6" stroke-linecap="round"/>
<path d="M1784,128 C1795,129 1796,136 1810,136" fill="none" stroke="#707070" stroke-width="2.6" stroke-linecap="round"/>
<path d="M1776.5,73.4 Q1776.2,113.8 1788.2,86.8 Q1784.2,107.0 1800.5,102.5 Q1746.7,121.3 1802.2,138.9 Q1782.6,140.0 1796.7,156.9 Q1776.6,134.5 1767.2,168.0 Q1770.1,136.5 1737.8,159.7 Q1759.2,136.1 1719.9,137.2 Q1753.0,123.0 1723.3,98.6 Q1762.8,109.8 1745.1,78.2 Q1765.3,105.8 1776.5,73.4Z" fill="#ffc000"/>
<circle cx="1764.4" cy="121.5" r="21.0" fill="#fff" fill-opacity="0.75"/>
<circle cx="1764.4" cy="121.5" r="20.0" fill="#ffe830"/>
<path d="M1765.3,101.5 V121.5 H1784.4" fill="none" stroke="#fffbd8" stroke-width="2.5"/>
<polygon points="1808.9,86.6 1805.3,96.3 1812.4,113.3 1818.9,100.3" fill="#626262"/>
<polygon points="1833.9,115.3 1846.7,112.7 1854.2,98.5 1856.0,95.3 1850.0,87.3 1843.0,86.6 1836.9,94.3" fill="#626262"/>
<polygon points="1868.0,115.3 1880.7,112.7 1888.2,98.5 1890.0,95.3 1884.0,87.3 1877.0,86.6 1871.0,94.3" fill="#626262"/>
<polygon points="1902.0,115.3 1914.8,112.7 1922.3,98.5 1924.1,95.3 1918.1,87.3 1911.0,86.6 1905.0,94.3" fill="#626262"/>
<polygon points="1936.1,115.3 1948.8,112.7 1949.7,113.8 1954.6,93.9 1944.1,84.1 1939.1,94.3" fill="#626262"/>
<path d="M1808.9,86.6 L1827.7,82.3 Q1840.9,89.3 1846.7,112.7 L1829.9,117.8 Q1822.4,93.8 1808.9,86.6Z" fill="#6a6a6a"/>
<path d="M1843.0,86.6 L1861.8,82.3 Q1875.0,89.3 1880.7,112.7 L1864.0,117.8 Q1856.5,93.8 1843.0,86.6Z" fill="#6a6a6a"/>
<path d="M1877.0,86.6 L1895.8,82.3 Q1909.0,89.3 1914.8,112.7 L1898.0,117.8 Q1890.5,93.8 1877.0,86.6Z" fill="#6a6a6a"/>
<path d="M1911.1,86.6 L1929.9,82.3 Q1943.1,89.3 1948.8,112.7 L1932.1,117.8 Q1924.6,93.8 1911.1,86.6Z" fill="#6a6a6a"/>
<polygon points="1808.9,152.6 1805.3,142.8 1812.4,125.6 1818.9,138.7" fill="#acacac"/>
<polygon points="1833.9,123.5 1846.7,126.2 1854.2,140.6 1856.0,143.8 1850.0,151.9 1843.0,152.6 1836.9,144.8" fill="#acacac"/>
<polygon points="1868.0,123.5 1880.7,126.2 1888.2,140.6 1890.0,143.8 1884.0,151.9 1877.0,152.6 1871.0,144.8" fill="#acacac"/>
<polygon points="1902.0,123.5 1914.8,126.2 1922.3,140.6 1924.1,143.8 1918.1,151.9 1911.0,152.6 1905.0,144.8" fill="#acacac"/>
<polygon points="1936.1,123.5 1948.8,126.2 1949.7,125.1 1954.6,145.2 1944.1,155.2 1939.1,144.8" fill="#acacac"/>
<path d="M1808.9,152.6 L1827.7,157.0 Q1840.9,149.9 1846.7,126.2 L1829.9,121.0 Q1822.4,145.3 1808.9,152.6Z" fill="#b6b6b6"/>
<path d="M1843.0,152.6 L1861.8,157.0 Q1875.0,149.9 1880.7,126.2 L1864.0,121.0 Q1856.5,145.3 1843.0,152.6Z" fill="#b6b6b6"/>
<path d="M1877.0,152.6 L1895.8,157.0 Q1909.0,149.9 1914.8,126.2 L1898.0,121.0 Q1890.5,145.3 1877.0,152.6Z" fill="#b6b6b6"/>
<path d="M1911.1,152.6 L1929.9,157.0 Q1943.1,149.9 1948.8,126.2 L1932.1,121.0 Q1924.6,145.3 1911.1,152.6Z" fill="#b6b6b6"/>
<text transform="translate(1411.5,337.8) scale(0.8,1)" font-size="52" text-anchor="start" fill="#000" font-weight="bold">G</text>
<text transform="translate(1706.3,349.7) scale(0.82,1)" font-size="33.5" text-anchor="start" fill="#1c1c1c" font-weight="normal">Luciferase activity (RLU)</text>
<line x1="1726.7" y1="432.1" x2="1726.7" y2="782.6" stroke="#000" stroke-width="1.8" stroke-linecap="butt"/>
<line x1="1725.8" y1="433.0" x2="1985.3" y2="433.0" stroke="#000" stroke-width="1.8" stroke-linecap="butt"/>
<line x1="1726.7" y1="433.0" x2="1726.7" y2="419.0" stroke="#000" stroke-width="1.8" stroke-linecap="butt"/>
<line x1="1758.9" y1="433.0" x2="1758.9" y2="426.0" stroke="#000" stroke-width="1.8" stroke-linecap="butt"/>
<line x1="1791.1" y1="433.0" x2="1791.1" y2="419.0" stroke="#000" stroke-width="1.8" stroke-linecap="butt"/>
<line x1="1823.3" y1="433.0" x2="1823.3" y2="426.0" stroke="#000" stroke-width="1.8" stroke-linecap="butt"/>
<line x1="1855.5" y1="433.0" x2="1855.5" y2="419.0" stroke="#000" stroke-width="1.8" stroke-linecap="butt"/>
<line x1="1887.8" y1="433.0" x2="1887.8" y2="426.0" stroke="#000" stroke-width="1.8" stroke-linecap="butt"/>
<line x1="1920.0" y1="433.0" x2="1920.0" y2="419.0" stroke="#000" stroke-width="1.8" stroke-linecap="butt"/>
<line x1="1952.2" y1="433.0" x2="1952.2" y2="426.0" stroke="#000" stroke-width="1.8" stroke-linecap="butt"/>
<line x1="1984.4" y1="433.0" x2="1984.4" y2="419.0" stroke="#000" stroke-width="1.8" stroke-linecap="butt"/>
<text transform="translate(1728.7,400.0) scale(0.92,1)" font-size="31" text-anchor="middle" fill="#1c1c1c" font-weight="normal">0</text>
<text transform="translate(1793.1,400.0) scale(0.92,1)" font-size="31" text-anchor="middle" fill="#1c1c1c" font-weight="normal">5</text>
<text transform="translate(1857.5,400.0) scale(0.92,1)" font-size="31" text-anchor="middle" fill="#1c1c1c" font-weight="normal">10</text>
<text transform="translate(1922.0,400.0) scale(0.92,1)" font-size="31" text-anchor="middle" fill="#1c1c1c" font-weight="normal">15</text>
<text transform="translate(1986.4,400.0) scale(0.92,1)" font-size="31" text-anchor="middle" fill="#1c1c1c" font-weight="normal">20</text>
<rect x="1726.7" y="444.0" width="217.8" height="62.2" fill="#c0c0c0" stroke="#000" stroke-width="1.6"/>
<rect x="1726.7" y="531.3" width="111.6" height="63.4" fill="#c0c0c0" stroke="#000" stroke-width="1.6"/>
<rect x="1726.7" y="619.9" width="30.5" height="62.2" fill="#c0c0c0" stroke="#000" stroke-width="1.6"/>
<line x1="1905.8" y1="477.0" x2="1983.4" y2="477.0" stroke="#000" stroke-width="1.5" stroke-linecap="butt"/>
<line x1="1905.8" y1="473.0" x2="1905.8" y2="481.0" stroke="#000" stroke-width="1.5" stroke-linecap="butt"/>
<line x1="1983.4" y1="473.0" x2="1983.4" y2="481.0" stroke="#000" stroke-width="1.5" stroke-linecap="butt"/>
<path d="M1905.8,470.6 L1912.1,476.9 L1905.8,483.2 L1899.5,476.9Z" fill="#fff" stroke="#000" stroke-width="1.1"/>
<path d="M1952.9,467.5 L1959.2,473.8 L1952.9,480.1 L1946.6,473.8Z" fill="#fff" stroke="#000" stroke-width="1.1"/>
<path d="M1957.7,472.2 L1964.0,478.5 L1957.7,484.8 L1951.4,478.5Z" fill="#fff" stroke="#000" stroke-width="1.1"/>
<path d="M1959.2,467.5 L1965.5,473.8 L1959.2,480.1 L1952.9,473.8Z" fill="#fff" stroke="#000" stroke-width="1.1"/>
<line x1="1822.6" y1="563.3" x2="1849.3" y2="563.3" stroke="#000" stroke-width="1.5" stroke-linecap="butt"/>
<line x1="1822.6" y1="559.3" x2="1822.6" y2="567.3" stroke="#000" stroke-width="1.5" stroke-linecap="butt"/>
<line x1="1849.3" y1="559.3" x2="1849.3" y2="567.3" stroke="#000" stroke-width="1.5" stroke-linecap="butt"/>
<path d="M1830.4,552.3 L1836.7,558.6 L1830.4,564.9 L1824.1,558.6Z" fill="#fff" stroke="#000" stroke-width="1.1"/>
<path d="M1836.7,554.5 L1843.0,560.8 L1836.7,567.1 L1830.4,560.8Z" fill="#fff" stroke="#000" stroke-width="1.1"/>
<path d="M1849.9,557.0 L1856.2,563.3 L1849.9,569.6 L1843.6,563.3Z" fill="#fff" stroke="#000" stroke-width="1.1"/>
<path d="M1759.7,639.7 L1766.0,646.0 L1759.7,652.3 L1753.4,646.0Z" fill="#fff" stroke="#000" stroke-width="1.1"/>
<path d="M1755.0,645.0 L1761.3,651.3 L1755.0,657.6 L1748.7,651.3Z" fill="#fff" stroke="#000" stroke-width="1.1"/>
<path d="M1758.2,650.6 L1764.5,656.9 L1758.2,663.2 L1751.9,656.9Z" fill="#fff" stroke="#000" stroke-width="1.1"/>
<path d="M1730.4,733.8 L1735.2,738.6 L1730.4,743.4 L1725.6,738.6Z" fill="#fff" stroke="#000" stroke-width="1.1"/>
<path d="M1730.4,742.0 L1735.2,746.8 L1730.4,751.6 L1725.6,746.8Z" fill="#fff" stroke="#000" stroke-width="1.1"/>
<text transform="translate(1462.0,467.5) scale(0.84,1)" font-size="30.5" text-anchor="start" fill="#1c1c1c" font-weight="normal">cLuc:<tspan fill="#188a82">N7</tspan></text>
<text transform="translate(1462.0,504.0) scale(0.84,1)" font-size="30.5" text-anchor="start" fill="#1c1c1c" font-weight="normal">nLuc:<tspan fill="#18a860">N8</tspan></text>
<text transform="translate(1462.0,554.3) scale(0.84,1)" font-size="30.5" text-anchor="start" fill="#1c1c1c" font-weight="normal"><tspan fill="#188a82">N7</tspan>:cLuc</text>
<text transform="translate(1462.0,591.0) scale(0.84,1)" font-size="30.5" text-anchor="start" fill="#1c1c1c" font-weight="normal">nLuc:<tspan fill="#18a860">N8</tspan></text>
<text transform="translate(1462.0,643.2) scale(0.84,1)" font-size="30.5" text-anchor="start" fill="#1c1c1c" font-weight="normal">cLuc:<tspan fill="#188a82">N7</tspan></text>
<text transform="translate(1462.0,680.5) scale(0.84,1)" font-size="30.5" text-anchor="start" fill="#1c1c1c" font-weight="normal"><tspan fill="#18a860">N8</tspan>:nLuc</text>
<text transform="translate(1462.0,729.8) scale(0.84,1)" font-size="30.5" text-anchor="start" fill="#1c1c1c" font-weight="normal"><tspan fill="#188a82">N7</tspan>:cLuc</text>
<text transform="translate(1462.0,765.4) scale(0.84,1)" font-size="30.5" text-anchor="start" fill="#1c1c1c" font-weight="normal"><tspan fill="#18a860">N8</tspan>:nLuc</text>
<text transform="translate(1462.0,811.2) scale(0.81,1)" font-size="30.5" text-anchor="start" fill="#1c1c1c" font-weight="normal">(both 30 ng)</text>
<path d="M1619.5,464.3 C1630.5,463.8 1634.5,459.1 1642.1,457.1" fill="none" stroke="#333333" stroke-width="2.0" stroke-linecap="round"/>
<path d="M1619.5,474.8 C1630.5,474.8 1634.5,478.8 1642.1,480.8" fill="none" stroke="#333333" stroke-width="2.0" stroke-linecap="round"/>
<path d="M1614.9,424.7 Q1614.6,463.0 1626.1,437.4 Q1622.3,456.5 1637.7,452.3 Q1586.7,470.1 1639.3,486.8 Q1620.7,487.8 1634.0,503.8 Q1615.0,482.5 1606.1,514.3 Q1608.9,484.5 1578.3,506.4 Q1598.5,484.1 1561.3,485.2 Q1592.7,471.7 1564.6,448.6 Q1602.0,459.2 1585.2,429.2 Q1604.3,455.4 1614.9,424.7Z" fill="#c8980a"/>
<circle cx="1603.5" cy="470.3" r="18.5" fill="#fff" fill-opacity="0.75"/>
<circle cx="1603.5" cy="470.3" r="17.6" fill="#f0e800"/>
<path d="M1604.3,452.7 V470.3 H1621.1" fill="none" stroke="#fffbd8" stroke-width="2.3"/>
<polygon points="1641.1,452.1 1639.1,457.2 1643.1,466.1 1646.7,459.3" fill="#098a73"/>
<polygon points="1655.2,467.2 1662.3,465.8 1666.6,458.3 1667.6,456.6 1664.2,452.4 1660.2,452.1 1656.9,456.1" fill="#098a73"/>
<polygon points="1674.3,467.2 1681.5,465.8 1685.7,458.3 1686.7,456.6 1683.3,452.4 1679.4,452.1 1676.0,456.1" fill="#098a73"/>
<polygon points="1693.5,467.2 1700.6,465.8 1704.9,458.3 1705.9,456.6 1702.5,452.4 1698.5,452.1 1695.2,456.1" fill="#098a73"/>
<polygon points="1712.6,467.2 1719.8,465.8 1723.1,466.4 1725.9,456.7 1718.3,450.7 1714.3,456.1" fill="#098a73"/>
<path d="M1641.1,452.1 L1651.7,449.8 Q1659.1,453.5 1662.3,465.8 L1652.9,468.5 Q1648.7,455.9 1641.1,452.1Z" fill="#0a9078"/>
<path d="M1660.2,452.1 L1670.8,449.8 Q1678.3,453.5 1681.5,465.8 L1672.1,468.5 Q1667.9,455.9 1660.2,452.1Z" fill="#0a9078"/>
<path d="M1679.4,452.1 L1690.0,449.8 Q1697.4,453.5 1700.6,465.8 L1691.2,468.5 Q1687.0,455.9 1679.4,452.1Z" fill="#0a9078"/>
<path d="M1698.5,452.1 L1709.1,449.8 Q1716.6,453.5 1719.8,465.8 L1710.4,468.5 Q1706.2,455.9 1698.5,452.1Z" fill="#0a9078"/>
<polygon points="1641.1,485.9 1639.1,480.7 1643.1,471.7 1646.7,478.6" fill="#099017"/>
<polygon points="1655.2,470.6 1662.3,472.0 1666.6,479.6 1667.6,481.3 1664.2,485.5 1660.2,485.9 1656.9,481.8" fill="#099017"/>
<polygon points="1674.3,470.6 1681.5,472.0 1685.7,479.6 1686.7,481.3 1683.3,485.5 1679.4,485.9 1676.0,481.8" fill="#099017"/>
<polygon points="1693.5,470.6 1700.6,472.0 1704.9,479.6 1705.9,481.3 1702.5,485.5 1698.5,485.9 1695.2,481.8" fill="#099017"/>
<polygon points="1712.6,470.6 1719.8,472.0 1723.1,471.4 1725.9,481.2 1718.3,487.2 1714.3,481.8" fill="#099017"/>
<path d="M1641.1,485.9 L1651.7,488.2 Q1659.1,484.5 1662.3,472.0 L1652.9,469.3 Q1648.7,482.1 1641.1,485.9Z" fill="#0a9618"/>
<path d="M1660.2,485.9 L1670.8,488.2 Q1678.3,484.5 1681.5,472.0 L1672.1,469.3 Q1667.9,482.1 1660.2,485.9Z" fill="#0a9618"/>
<path d="M1679.4,485.9 L1690.0,488.2 Q1697.4,484.5 1700.6,472.0 L1691.2,469.3 Q1687.0,482.1 1679.4,485.9Z" fill="#0a9618"/>
<path d="M1698.5,485.9 L1709.1,488.2 Q1716.6,484.5 1719.8,472.0 L1710.4,469.3 Q1706.2,482.1 1698.5,485.9Z" fill="#0a9618"/>
<path d="M1617.4,560.3 C1628.4,559.8 1632.4,555.2 1641.4,553.2" fill="none" stroke="#333333" stroke-width="2.0" stroke-linecap="round"/>
<path d="M1617.4,570.8 C1631.4,572.3 1631.4,588.4 1649.4,589.4 L1710.4,589.4 C1721.4,589.4 1723.4,583.4 1720.4,576.5" fill="none" stroke="#333333" stroke-width="2.0" stroke-linecap="round"/>
<path d="M1612.8,520.7 Q1612.5,559.0 1624.0,533.4 Q1620.2,552.5 1635.6,548.3 Q1584.6,566.1 1637.2,582.8 Q1618.6,583.8 1631.9,599.8 Q1612.9,578.5 1604.0,610.3 Q1606.8,580.5 1576.2,602.4 Q1596.4,580.1 1559.2,581.2 Q1590.6,567.7 1562.5,544.6 Q1599.9,555.2 1583.1,525.2 Q1602.2,551.4 1612.8,520.7Z" fill="#ffc000"/>
<circle cx="1601.4" cy="566.3" r="18.5" fill="#fff" fill-opacity="0.75"/>
<circle cx="1601.4" cy="566.3" r="17.6" fill="#fff200"/>
<path d="M1602.2,548.7 V566.3 H1619.0" fill="none" stroke="#fffbd8" stroke-width="2.3"/>
<polygon points="1640.4,548.4 1638.4,553.3 1642.4,561.9 1646.0,555.3" fill="#098a73"/>
<polygon points="1654.5,562.9 1661.6,561.6 1665.9,554.4 1666.9,552.8 1663.5,548.7 1659.6,548.4 1656.2,552.3" fill="#098a73"/>
<polygon points="1673.6,562.9 1680.8,561.6 1685.0,554.4 1686.0,552.8 1682.6,548.7 1678.7,548.4 1675.3,552.3" fill="#098a73"/>
<polygon points="1692.8,562.9 1699.9,561.6 1704.2,554.4 1705.2,552.8 1701.8,548.7 1697.9,548.4 1694.5,552.3" fill="#098a73"/>
<polygon points="1711.9,562.9 1719.1,561.6 1722.4,562.2 1725.2,552.8 1717.6,547.1 1713.6,552.3" fill="#098a73"/>
<path d="M1640.4,548.4 L1651.0,546.2 Q1658.4,549.7 1661.6,561.6 L1652.2,564.2 Q1648.0,552.0 1640.4,548.4Z" fill="#0a9078"/>
<path d="M1659.6,548.4 L1670.1,546.2 Q1677.6,549.7 1680.8,561.6 L1671.4,564.2 Q1667.2,552.0 1659.6,548.4Z" fill="#0a9078"/>
<path d="M1678.7,548.4 L1689.3,546.2 Q1696.7,549.7 1699.9,561.6 L1690.5,564.2 Q1686.3,552.0 1678.7,548.4Z" fill="#0a9078"/>
<path d="M1697.9,548.4 L1708.4,546.2 Q1715.9,549.7 1719.1,561.6 L1709.7,564.2 Q1705.5,552.0 1697.9,548.4Z" fill="#0a9078"/>
<polygon points="1640.4,582.9 1638.4,577.5 1642.4,568.3 1646.0,575.4" fill="#099017"/>
<polygon points="1654.5,567.2 1661.6,568.6 1665.9,576.3 1666.9,578.1 1663.5,582.5 1659.6,582.9 1656.2,578.6" fill="#099017"/>
<polygon points="1673.6,567.2 1680.8,568.6 1685.0,576.3 1686.0,578.1 1682.6,582.5 1678.7,582.9 1675.3,578.6" fill="#099017"/>
<polygon points="1692.8,567.2 1699.9,568.6 1704.2,576.3 1705.2,578.1 1701.8,582.5 1697.9,582.9 1694.5,578.6" fill="#099017"/>
<polygon points="1711.9,567.2 1719.1,568.6 1722.4,568.0 1725.2,578.0 1717.6,584.2 1713.6,578.6" fill="#099017"/>
<path d="M1640.4,582.9 L1651.0,585.2 Q1658.4,581.4 1661.6,568.6 L1652.2,565.8 Q1648.0,578.9 1640.4,582.9Z" fill="#0a9618"/>
<path d="M1659.6,582.9 L1670.1,585.2 Q1677.6,581.4 1680.8,568.6 L1671.4,565.8 Q1667.2,578.9 1659.6,582.9Z" fill="#0a9618"/>
<path d="M1678.7,582.9 L1689.3,585.2 Q1696.7,581.4 1699.9,568.6 L1690.5,565.8 Q1686.3,578.9 1678.7,582.9Z" fill="#0a9618"/>
<path d="M1697.9,582.9 L1708.4,585.2 Q1715.9,581.4 1719.1,568.6 L1709.7,565.8 Q1705.5,578.9 1697.9,582.9Z" fill="#0a9618"/>
<path d="M1619.0,643.8 C1633.0,642.3 1633.0,627.7 1649.6,626.7 L1710.6,626.7 C1721.6,626.7 1723.6,632.7 1720.6,639.1" fill="none" stroke="#333333" stroke-width="2.0" stroke-linecap="round"/>
<path d="M1619.0,654.3 C1630.0,654.3 1634.0,659.5 1641.6,661.5" fill="none" stroke="#333333" stroke-width="2.0" stroke-linecap="round"/>
<path d="M1614.4,604.2 Q1614.1,642.5 1625.6,616.9 Q1621.8,636.0 1637.2,631.8 Q1586.2,649.6 1638.8,666.3 Q1620.2,667.3 1633.5,683.3 Q1614.5,662.0 1605.6,693.8 Q1608.4,664.0 1577.8,685.9 Q1598.0,663.6 1560.8,664.7 Q1592.2,651.2 1564.1,628.1 Q1601.5,638.7 1584.7,608.7 Q1603.8,634.9 1614.4,604.2Z" fill="#ffd766"/>
<circle cx="1603.0" cy="649.8" r="18.5" fill="#fff" fill-opacity="0.75"/>
<circle cx="1603.0" cy="649.8" r="17.6" fill="#fff56e"/>
<path d="M1603.8,632.2 V649.8 H1620.6" fill="none" stroke="#fffbd8" stroke-width="2.3"/>
<polygon points="1640.6,633.1 1638.6,638.2 1642.6,647.0 1646.2,640.2" fill="#098a73"/>
<polygon points="1654.7,648.0 1661.8,646.7 1666.1,639.3 1667.1,637.6 1663.7,633.5 1659.8,633.1 1656.4,637.1" fill="#098a73"/>
<polygon points="1673.8,648.0 1681.0,646.7 1685.2,639.3 1686.2,637.6 1682.8,633.5 1678.9,633.1 1675.5,637.1" fill="#098a73"/>
<polygon points="1693.0,648.0 1700.1,646.7 1704.4,639.3 1705.4,637.6 1702.0,633.5 1698.0,633.1 1694.7,637.1" fill="#098a73"/>
<polygon points="1712.1,648.0 1719.3,646.7 1722.6,647.2 1725.4,637.7 1717.8,631.8 1713.8,637.1" fill="#098a73"/>
<path d="M1640.6,633.1 L1651.2,630.9 Q1658.6,634.5 1661.8,646.7 L1652.4,649.3 Q1648.2,636.9 1640.6,633.1Z" fill="#0a9078"/>
<path d="M1659.8,633.1 L1670.3,630.9 Q1677.8,634.5 1681.0,646.7 L1671.6,649.3 Q1667.4,636.9 1659.8,633.1Z" fill="#0a9078"/>
<path d="M1678.9,633.1 L1689.5,630.9 Q1696.9,634.5 1700.1,646.7 L1690.7,649.3 Q1686.5,636.9 1678.9,633.1Z" fill="#0a9078"/>
<path d="M1698.0,633.1 L1708.6,630.9 Q1716.1,634.5 1719.3,646.7 L1709.9,649.3 Q1705.7,636.9 1698.0,633.1Z" fill="#0a9078"/>
<polygon points="1640.6,666.5 1638.6,661.4 1642.6,652.6 1646.2,659.4" fill="#099017"/>
<polygon points="1654.7,651.6 1661.8,652.9 1666.1,660.3 1667.1,662.0 1663.7,666.1 1659.8,666.5 1656.4,662.5" fill="#099017"/>
<polygon points="1673.8,651.6 1681.0,652.9 1685.2,660.3 1686.2,662.0 1682.8,666.1 1678.9,666.5 1675.5,662.5" fill="#099017"/>
<polygon points="1693.0,651.6 1700.1,652.9 1704.4,660.3 1705.4,662.0 1702.0,666.1 1698.0,666.5 1694.7,662.5" fill="#099017"/>
<polygon points="1712.1,651.6 1719.3,652.9 1722.6,652.4 1725.4,661.9 1717.8,667.8 1713.8,662.5" fill="#099017"/>
<path d="M1640.6,666.5 L1651.2,668.7 Q1658.6,665.1 1661.8,652.9 L1652.4,650.3 Q1648.2,662.7 1640.6,666.5Z" fill="#0a9618"/>
<path d="M1659.8,666.5 L1670.3,668.7 Q1677.8,665.1 1681.0,652.9 L1671.6,650.3 Q1667.4,662.7 1659.8,666.5Z" fill="#0a9618"/>
<path d="M1678.9,666.5 L1689.5,668.7 Q1696.9,665.1 1700.1,652.9 L1690.7,650.3 Q1686.5,662.7 1678.9,666.5Z" fill="#0a9618"/>
<path d="M1698.0,666.5 L1708.6,668.7 Q1716.1,665.1 1719.3,652.9 L1709.9,650.3 Q1705.7,662.7 1698.0,666.5Z" fill="#0a9618"/>
<path d="M1619.0,740.3 C1633.0,738.8 1633.0,724.2 1649.6,723.2 L1710.6,723.2 C1721.6,723.2 1723.6,729.2 1720.6,735.6" fill="none" stroke="#333333" stroke-width="2.0" stroke-linecap="round"/>
<path d="M1619.0,750.8 C1633.0,752.3 1633.0,768.9 1649.6,769.9 L1710.6,769.9 C1721.6,769.9 1723.6,763.9 1720.6,757.2" fill="none" stroke="#333333" stroke-width="2.0" stroke-linecap="round"/>
<path d="M1614.4,700.7 Q1614.1,739.0 1625.6,713.4 Q1621.8,732.5 1637.2,728.3 Q1586.2,746.1 1638.8,762.8 Q1620.2,763.8 1633.5,779.8 Q1614.5,758.5 1605.6,790.3 Q1608.4,760.5 1577.8,782.4 Q1598.0,760.1 1560.8,761.2 Q1592.2,747.7 1564.1,724.6 Q1601.5,735.2 1584.7,705.2 Q1603.8,731.4 1614.4,700.7Z" fill="#ffefc4"/>
<circle cx="1603.0" cy="746.3" r="18.5" fill="#fff" fill-opacity="0.75"/>
<circle cx="1603.0" cy="746.3" r="17.6" fill="#fffab4"/>
<path d="M1603.8,728.7 V746.3 H1620.6" fill="none" stroke="#fffbd8" stroke-width="2.3"/>
<polygon points="1640.6,729.6 1638.6,734.7 1642.6,743.5 1646.2,736.7" fill="#098a73"/>
<polygon points="1654.7,744.5 1661.8,743.2 1666.1,735.8 1667.1,734.1 1663.7,730.0 1659.8,729.6 1656.4,733.6" fill="#098a73"/>
<polygon points="1673.8,744.5 1681.0,743.2 1685.2,735.8 1686.2,734.1 1682.8,730.0 1678.9,729.6 1675.5,733.6" fill="#098a73"/>
<polygon points="1693.0,744.5 1700.1,743.2 1704.4,735.8 1705.4,734.1 1702.0,730.0 1698.0,729.6 1694.7,733.6" fill="#098a73"/>
<polygon points="1712.1,744.5 1719.3,743.2 1722.6,743.7 1725.4,734.2 1717.8,728.3 1713.8,733.6" fill="#098a73"/>
<path d="M1640.6,729.6 L1651.2,727.4 Q1658.6,731.0 1661.8,743.2 L1652.4,745.8 Q1648.2,733.4 1640.6,729.6Z" fill="#0a9078"/>
<path d="M1659.8,729.6 L1670.3,727.4 Q1677.8,731.0 1681.0,743.2 L1671.6,745.8 Q1667.4,733.4 1659.8,729.6Z" fill="#0a9078"/>
<path d="M1678.9,729.6 L1689.5,727.4 Q1696.9,731.0 1700.1,743.2 L1690.7,745.8 Q1686.5,733.4 1678.9,729.6Z" fill="#0a9078"/>
<path d="M1698.0,729.6 L1708.6,727.4 Q1716.1,731.0 1719.3,743.2 L1709.9,745.8 Q1705.7,733.4 1698.0,729.6Z" fill="#0a9078"/>
<polygon points="1640.6,763.4 1638.6,758.2 1642.6,749.2 1646.2,756.1" fill="#099017"/>
<polygon points="1654.7,748.1 1661.8,749.5 1666.1,757.1 1667.1,758.8 1663.7,763.0 1659.8,763.4 1656.4,759.3" fill="#099017"/>
<polygon points="1673.8,748.1 1681.0,749.5 1685.2,757.1 1686.2,758.8 1682.8,763.0 1678.9,763.4 1675.5,759.3" fill="#099017"/>
<polygon points="1693.0,748.1 1700.1,749.5 1704.4,757.1 1705.4,758.8 1702.0,763.0 1698.0,763.4 1694.7,759.3" fill="#099017"/>
<polygon points="1712.1,748.1 1719.3,749.5 1722.6,748.9 1725.4,758.7 1717.8,764.7 1713.8,759.3" fill="#099017"/>
<path d="M1640.6,763.4 L1651.2,765.7 Q1658.6,762.0 1661.8,749.5 L1652.4,746.8 Q1648.2,759.6 1640.6,763.4Z" fill="#0a9618"/>
<path d="M1659.8,763.4 L1670.3,765.7 Q1677.8,762.0 1681.0,749.5 L1671.6,746.8 Q1667.4,759.6 1659.8,763.4Z" fill="#0a9618"/>
<path d="M1678.9,763.4 L1689.5,765.7 Q1696.9,762.0 1700.1,749.5 L1690.7,746.8 Q1686.5,759.6 1678.9,763.4Z" fill="#0a9618"/>
<path d="M1698.0,763.4 L1708.6,765.7 Q1716.1,762.0 1719.3,749.5 L1709.9,746.8 Q1705.7,759.6 1698.0,763.4Z" fill="#0a9618"/>
<text transform="translate(1411.0,924.5) scale(0.8,1)" font-size="52" text-anchor="start" fill="#000" font-weight="bold">H</text>
<line x1="1553.0" y1="928.7" x2="1553.0" y2="1193.0" stroke="#000" stroke-width="1.8" stroke-linecap="butt"/>
<line x1="1538.0" y1="1187.0" x2="1553.0" y2="1187.0" stroke="#000" stroke-width="1.8" stroke-linecap="butt"/>
<text transform="translate(1531.0,1198.5) scale(1,1)" font-size="33" text-anchor="end" fill="#1c1c1c" font-weight="normal">0</text>
<line x1="1538.0" y1="1080.0" x2="1553.0" y2="1080.0" stroke="#000" stroke-width="1.8" stroke-linecap="butt"/>
<text transform="translate(1531.0,1091.5) scale(1,1)" font-size="33" text-anchor="end" fill="#1c1c1c" font-weight="normal">5</text>
<line x1="1538.0" y1="973.0" x2="1553.0" y2="973.0" stroke="#000" stroke-width="1.8" stroke-linecap="butt"/>
<text transform="translate(1531.0,984.5) scale(1,1)" font-size="33" text-anchor="end" fill="#1c1c1c" font-weight="normal">10</text>
<line x1="1545.0" y1="1133.5" x2="1553.0" y2="1133.5" stroke="#000" stroke-width="1.8" stroke-linecap="butt"/>
<line x1="1545.0" y1="1026.5" x2="1553.0" y2="1026.5" stroke="#000" stroke-width="1.8" stroke-linecap="butt"/>
<rect x="1556.0" y="1115.0" width="38.0" height="72.0" fill="#4a7812" stroke="#000" stroke-width="1.9"/>
<rect x="1602.6" y="1058.4" width="37.7" height="128.6" fill="#4a7812" stroke="#000" stroke-width="1.9"/>
<rect x="1649.0" y="1025.5" width="37.8" height="161.5" fill="#4a7812" stroke="#000" stroke-width="1.9"/>
<rect x="1696.0" y="962.6" width="37.6" height="224.4" fill="#4a7812" stroke="#000" stroke-width="1.9"/>
<rect x="1789.6" y="1163.7" width="37.7" height="23.3" fill="#6aa818" stroke="#000" stroke-width="1.9"/>
<rect x="1837.3" y="1146.4" width="37.1" height="40.6" fill="#6aa818" stroke="#000" stroke-width="1.9"/>
<rect x="1883.8" y="1132.3" width="37.1" height="54.7" fill="#6aa818" stroke="#000" stroke-width="1.9"/>
<rect x="1930.3" y="1114.0" width="38.3" height="73.0" fill="#6aa818" stroke="#000" stroke-width="1.9"/>
<line x1="1538.0" y1="1187.0" x2="1973.4" y2="1187.0" stroke="#000" stroke-width="2.1" stroke-linecap="butt"/>
<line x1="1575.9" y1="1106.2" x2="1575.9" y2="1123.8" stroke="#000" stroke-width="1.9" stroke-linecap="butt"/>
<line x1="1567.1" y1="1106.2" x2="1584.7" y2="1106.2" stroke="#000" stroke-width="1.9" stroke-linecap="butt"/>
<line x1="1567.1" y1="1123.8" x2="1584.7" y2="1123.8" stroke="#000" stroke-width="1.9" stroke-linecap="butt"/>
<line x1="1622.1" y1="1039.6" x2="1622.1" y2="1077.9" stroke="#000" stroke-width="1.9" stroke-linecap="butt"/>
<line x1="1613.3" y1="1039.6" x2="1630.9" y2="1039.6" stroke="#000" stroke-width="1.9" stroke-linecap="butt"/>
<line x1="1613.3" y1="1077.9" x2="1630.9" y2="1077.9" stroke="#000" stroke-width="1.9" stroke-linecap="butt"/>
<line x1="1668.6" y1="1021.4" x2="1668.6" y2="1030.2" stroke="#000" stroke-width="1.9" stroke-linecap="butt"/>
<line x1="1659.8" y1="1021.4" x2="1677.4" y2="1021.4" stroke="#000" stroke-width="1.9" stroke-linecap="butt"/>
<line x1="1659.8" y1="1030.2" x2="1677.4" y2="1030.2" stroke="#000" stroke-width="1.9" stroke-linecap="butt"/>
<line x1="1715.1" y1="932.8" x2="1715.1" y2="990.9" stroke="#000" stroke-width="1.9" stroke-linecap="butt"/>
<line x1="1706.3" y1="932.8" x2="1723.9" y2="932.8" stroke="#000" stroke-width="1.9" stroke-linecap="butt"/>
<line x1="1706.3" y1="990.9" x2="1723.9" y2="990.9" stroke="#000" stroke-width="1.9" stroke-linecap="butt"/>
<line x1="1809.0" y1="1157.1" x2="1809.0" y2="1169.7" stroke="#000" stroke-width="1.9" stroke-linecap="butt"/>
<line x1="1800.2" y1="1157.1" x2="1817.8" y2="1157.1" stroke="#000" stroke-width="1.9" stroke-linecap="butt"/>
<line x1="1800.2" y1="1169.7" x2="1817.8" y2="1169.7" stroke="#000" stroke-width="1.9" stroke-linecap="butt"/>
<line x1="1856.5" y1="1139.2" x2="1856.5" y2="1153.3" stroke="#000" stroke-width="1.9" stroke-linecap="butt"/>
<line x1="1847.7" y1="1139.2" x2="1865.3" y2="1139.2" stroke="#000" stroke-width="1.9" stroke-linecap="butt"/>
<line x1="1847.7" y1="1153.3" x2="1865.3" y2="1153.3" stroke="#000" stroke-width="1.9" stroke-linecap="butt"/>
<line x1="1902.7" y1="1118.8" x2="1902.7" y2="1145.5" stroke="#000" stroke-width="1.9" stroke-linecap="butt"/>
<line x1="1893.9" y1="1118.8" x2="1911.5" y2="1118.8" stroke="#000" stroke-width="1.9" stroke-linecap="butt"/>
<line x1="1893.9" y1="1145.5" x2="1911.5" y2="1145.5" stroke="#000" stroke-width="1.9" stroke-linecap="butt"/>
<line x1="1949.8" y1="1099.9" x2="1949.8" y2="1128.2" stroke="#000" stroke-width="1.9" stroke-linecap="butt"/>
<line x1="1941.0" y1="1099.9" x2="1958.6" y2="1099.9" stroke="#000" stroke-width="1.9" stroke-linecap="butt"/>
<line x1="1941.0" y1="1128.2" x2="1958.6" y2="1128.2" stroke="#000" stroke-width="1.9" stroke-linecap="butt"/>
<path d="M1575.0,1097.4 L1581.3,1103.7 L1575.0,1110.0 L1568.7,1103.7Z" fill="#fff" stroke="#000" stroke-width="1.1"/>
<path d="M1574.4,1107.8 L1580.7,1114.1 L1574.4,1120.4 L1568.1,1114.1Z" fill="#fff" stroke="#000" stroke-width="1.1"/>
<path d="M1573.7,1118.8 L1580.0,1125.1 L1573.7,1131.4 L1567.4,1125.1Z" fill="#fff" stroke="#000" stroke-width="1.1"/>
<path d="M1619.0,1030.8 L1625.3,1037.1 L1619.0,1043.4 L1612.7,1037.1Z" fill="#fff" stroke="#000" stroke-width="1.1"/>
<path d="M1621.5,1043.4 L1627.8,1049.7 L1621.5,1056.0 L1615.2,1049.7Z" fill="#fff" stroke="#000" stroke-width="1.1"/>
<path d="M1619.9,1055.9 L1626.2,1062.2 L1619.9,1068.5 L1613.6,1062.2Z" fill="#fff" stroke="#000" stroke-width="1.1"/>
<path d="M1618.3,1077.3 L1624.6,1083.6 L1618.3,1089.9 L1612.0,1083.6Z" fill="#fff" stroke="#000" stroke-width="1.1"/>
<path d="M1667.0,1014.1 L1673.3,1020.4 L1667.0,1026.7 L1660.7,1020.4Z" fill="#fff" stroke="#000" stroke-width="1.1"/>
<path d="M1670.8,1014.1 L1677.1,1020.4 L1670.8,1026.7 L1664.5,1020.4Z" fill="#fff" stroke="#000" stroke-width="1.1"/>
<path d="M1672.7,1026.1 L1679.0,1032.4 L1672.7,1038.7 L1666.4,1032.4Z" fill="#fff" stroke="#000" stroke-width="1.1"/>
<path d="M1714.2,933.4 L1720.5,939.7 L1714.2,946.0 L1707.9,939.7Z" fill="#fff" stroke="#000" stroke-width="1.1"/>
<path d="M1720.5,938.1 L1726.8,944.4 L1720.5,950.7 L1714.2,944.4Z" fill="#fff" stroke="#000" stroke-width="1.1"/>
<path d="M1710.1,957.9 L1716.4,964.2 L1710.1,970.5 L1703.8,964.2Z" fill="#fff" stroke="#000" stroke-width="1.1"/>
<path d="M1712.6,994.7 L1718.9,1001.0 L1712.6,1007.3 L1706.3,1001.0Z" fill="#fff" stroke="#000" stroke-width="1.1"/>
<path d="M1805.3,1151.7 L1811.6,1158.0 L1805.3,1164.3 L1799.0,1158.0Z" fill="#fff" stroke="#000" stroke-width="1.1"/>
<path d="M1814.1,1153.3 L1820.4,1159.6 L1814.1,1165.9 L1807.8,1159.6Z" fill="#fff" stroke="#000" stroke-width="1.1"/>
<path d="M1808.4,1163.4 L1814.7,1169.7 L1808.4,1176.0 L1802.1,1169.7Z" fill="#fff" stroke="#000" stroke-width="1.1"/>
<path d="M1855.5,1129.1 L1861.8,1135.4 L1855.5,1141.7 L1849.2,1135.4Z" fill="#fff" stroke="#000" stroke-width="1.1"/>
<path d="M1854.0,1140.7 L1860.3,1147.0 L1854.0,1153.3 L1847.7,1147.0Z" fill="#fff" stroke="#000" stroke-width="1.1"/>
<path d="M1858.7,1145.5 L1865.0,1151.8 L1858.7,1158.1 L1852.4,1151.8Z" fill="#fff" stroke="#000" stroke-width="1.1"/>
<path d="M1898.9,1107.8 L1905.2,1114.1 L1898.9,1120.4 L1892.6,1114.1Z" fill="#fff" stroke="#000" stroke-width="1.1"/>
<path d="M1895.8,1121.9 L1902.1,1128.2 L1895.8,1134.5 L1889.5,1128.2Z" fill="#fff" stroke="#000" stroke-width="1.1"/>
<path d="M1904.9,1134.5 L1911.2,1140.8 L1904.9,1147.1 L1898.6,1140.8Z" fill="#fff" stroke="#000" stroke-width="1.1"/>
<path d="M1952.0,1088.9 L1958.3,1095.2 L1952.0,1101.5 L1945.7,1095.2Z" fill="#fff" stroke="#000" stroke-width="1.1"/>
<path d="M1943.5,1111.5 L1949.8,1117.8 L1943.5,1124.1 L1937.2,1117.8Z" fill="#fff" stroke="#000" stroke-width="1.1"/>
<path d="M1955.5,1114.0 L1961.8,1120.3 L1955.5,1126.6 L1949.2,1120.3Z" fill="#fff" stroke="#000" stroke-width="1.1"/>
<path d="M1947.6,1119.7 L1953.9,1126.0 L1947.6,1132.3 L1941.3,1126.0Z" fill="#fff" stroke="#000" stroke-width="1.1"/>
<text transform="translate(1487.0,1088.0) rotate(-90) scale(0.82,1)" font-size="34" text-anchor="middle" fill="#1c1c1c" font-weight="normal">Luciferase activity (RLU)</text>
<text transform="translate(1583.5,1214.6) scale(0.86,1)" font-size="31" text-anchor="middle" fill="#1c1c1c" font-weight="normal">10</text>
<text transform="translate(1629.9,1214.6) scale(0.86,1)" font-size="31" text-anchor="middle" fill="#1c1c1c" font-weight="normal">30</text>
<text transform="translate(1676.4,1214.6) scale(0.86,1)" font-size="31" text-anchor="middle" fill="#1c1c1c" font-weight="normal">50</text>
<text transform="translate(1723.3,1214.6) scale(0.86,1)" font-size="31" text-anchor="middle" fill="#1c1c1c" font-weight="normal">70</text>
<line x1="1560.0" y1="1221.5" x2="1750.3" y2="1221.5" stroke="#4a4a4a" stroke-width="2.4" stroke-linecap="butt"/>
<line x1="1560.0" y1="1262.3" x2="1750.3" y2="1262.3" stroke="#4a4a4a" stroke-width="2.4" stroke-linecap="butt"/>
<text transform="translate(1654.5,1254.1) scale(0.82,1)" font-size="30.5" text-anchor="middle" fill="#1c1c1c" font-weight="normal">cLuc:<tspan fill="#28a030">N7</tspan> (ng)</text>
<text transform="translate(1654.5,1290.2) scale(0.82,1)" font-size="30.5" text-anchor="middle" fill="#1c1c1c" font-weight="normal">nLuc:<tspan fill="#1a9078">N8</tspan></text>
<text transform="translate(1658.0,1326.7) scale(0.82,1)" font-size="30.5" text-anchor="middle" fill="#1c1c1c" font-weight="normal">(30 ng)</text>
<text transform="translate(1821.4,1214.6) scale(0.86,1)" font-size="31" text-anchor="middle" fill="#1c1c1c" font-weight="normal">10</text>
<text transform="translate(1868.8,1214.6) scale(0.86,1)" font-size="31" text-anchor="middle" fill="#1c1c1c" font-weight="normal">30</text>
<text transform="translate(1915.3,1214.6) scale(0.86,1)" font-size="31" text-anchor="middle" fill="#1c1c1c" font-weight="normal">50</text>
<text transform="translate(1962.4,1214.6) scale(0.86,1)" font-size="31" text-anchor="middle" fill="#1c1c1c" font-weight="normal">70</text>
<line x1="1798.4" y1="1221.5" x2="1988.4" y2="1221.5" stroke="#4a4a4a" stroke-width="2.4" stroke-linecap="butt"/>
<line x1="1798.4" y1="1262.3" x2="1988.4" y2="1262.3" stroke="#4a4a4a" stroke-width="2.4" stroke-linecap="butt"/>
<text transform="translate(1893.0,1254.1) scale(0.82,1)" font-size="30.5" text-anchor="middle" fill="#1c1c1c" font-weight="normal">cLuc:<tspan fill="#50c030">P7A</tspan> (ng)</text>
<text transform="translate(1893.0,1290.2) scale(0.82,1)" font-size="30.5" text-anchor="middle" fill="#1c1c1c" font-weight="normal">nLuc:<tspan fill="#40e0c0">P8A</tspan></text>
<text transform="translate(1896.5,1326.7) scale(0.82,1)" font-size="30.5" text-anchor="middle" fill="#1c1c1c" font-weight="normal">(30 ng)</text>
<path d="M1621.4,1375.7 C1632.4,1375.2 1636.4,1367.3 1641.0,1365.3" fill="none" stroke="#333333" stroke-width="2.0" stroke-linecap="round"/>
<path d="M1621.4,1386.2 C1632.4,1386.2 1636.4,1389.2 1641.0,1391.2" fill="none" stroke="#333333" stroke-width="2.0" stroke-linecap="round"/>
<path d="M1616.8,1336.1 Q1616.5,1374.4 1628.0,1348.8 Q1624.2,1367.9 1639.6,1363.7 Q1588.6,1381.5 1641.2,1398.2 Q1622.6,1399.2 1635.9,1415.2 Q1616.9,1393.9 1608.0,1425.7 Q1610.8,1395.9 1580.2,1417.8 Q1600.4,1395.5 1563.2,1396.6 Q1594.6,1383.1 1566.5,1360.0 Q1603.9,1370.6 1587.1,1340.6 Q1606.2,1366.8 1616.8,1336.1Z" fill="#c8980a"/>
<circle cx="1605.4" cy="1381.7" r="18.5" fill="#fff" fill-opacity="0.75"/>
<circle cx="1605.4" cy="1381.7" r="17.6" fill="#f0e000"/>
<path d="M1606.2,1364.1 V1381.7 H1623.0" fill="none" stroke="#fffbd8" stroke-width="2.3"/>
<polygon points="1640.0,1360.3 1638.0,1365.3 1642.0,1374.2 1645.6,1367.4" fill="#098a73"/>
<polygon points="1654.1,1375.3 1661.2,1373.9 1665.5,1366.5 1666.5,1364.8 1663.1,1360.6 1659.2,1360.3 1655.8,1364.3" fill="#098a73"/>
<polygon points="1673.2,1375.3 1680.4,1373.9 1684.6,1366.5 1685.6,1364.8 1682.2,1360.6 1678.3,1360.3 1674.9,1364.3" fill="#098a73"/>
<polygon points="1692.4,1375.3 1699.5,1373.9 1703.8,1366.5 1704.8,1364.8 1701.4,1360.6 1697.5,1360.3 1694.1,1364.3" fill="#098a73"/>
<polygon points="1711.5,1375.3 1718.7,1373.9 1722.0,1374.5 1724.8,1364.9 1717.2,1358.9 1713.2,1364.3" fill="#098a73"/>
<path d="M1640.0,1360.3 L1650.6,1358.0 Q1658.0,1361.7 1661.2,1373.9 L1651.8,1376.6 Q1647.6,1364.0 1640.0,1360.3Z" fill="#0a9078"/>
<path d="M1659.2,1360.3 L1669.7,1358.0 Q1677.2,1361.7 1680.4,1373.9 L1671.0,1376.6 Q1666.8,1364.0 1659.2,1360.3Z" fill="#0a9078"/>
<path d="M1678.3,1360.3 L1688.9,1358.0 Q1696.3,1361.7 1699.5,1373.9 L1690.1,1376.6 Q1685.9,1364.0 1678.3,1360.3Z" fill="#0a9078"/>
<path d="M1697.5,1360.3 L1708.0,1358.0 Q1715.5,1361.7 1718.7,1373.9 L1709.3,1376.6 Q1705.1,1364.0 1697.5,1360.3Z" fill="#0a9078"/>
<polygon points="1640.0,1396.5 1638.0,1391.3 1642.0,1382.1 1645.6,1389.1" fill="#099017"/>
<polygon points="1654.1,1381.0 1661.2,1382.4 1665.5,1390.1 1666.5,1391.8 1663.1,1396.1 1659.2,1396.5 1655.8,1392.3" fill="#099017"/>
<polygon points="1673.2,1381.0 1680.4,1382.4 1684.6,1390.1 1685.6,1391.8 1682.2,1396.1 1678.3,1396.5 1674.9,1392.3" fill="#099017"/>
<polygon points="1692.4,1381.0 1699.5,1382.4 1703.8,1390.1 1704.8,1391.8 1701.4,1396.1 1697.5,1396.5 1694.1,1392.3" fill="#099017"/>
<polygon points="1711.5,1381.0 1718.7,1382.4 1722.0,1381.9 1724.8,1391.8 1717.2,1397.8 1713.2,1392.3" fill="#099017"/>
<path d="M1640.0,1396.5 L1650.6,1398.8 Q1658.0,1395.0 1661.2,1382.4 L1651.8,1379.7 Q1647.6,1392.6 1640.0,1396.5Z" fill="#0a9618"/>
<path d="M1659.2,1396.5 L1669.7,1398.8 Q1677.2,1395.0 1680.4,1382.4 L1671.0,1379.7 Q1666.8,1392.6 1659.2,1396.5Z" fill="#0a9618"/>
<path d="M1678.3,1396.5 L1688.9,1398.8 Q1696.3,1395.0 1699.5,1382.4 L1690.1,1379.7 Q1685.9,1392.6 1678.3,1396.5Z" fill="#0a9618"/>
<path d="M1697.5,1396.5 L1708.0,1398.8 Q1715.5,1395.0 1718.7,1382.4 L1709.3,1379.7 Q1705.1,1392.6 1697.5,1396.5Z" fill="#0a9618"/>
<path d="M1862.5,1377.0 C1873.5,1376.5 1877.5,1368.6 1882.0,1366.6" fill="none" stroke="#333333" stroke-width="2.0" stroke-linecap="round"/>
<path d="M1862.5,1387.5 C1873.5,1387.5 1877.5,1390.5 1882.0,1392.5" fill="none" stroke="#333333" stroke-width="2.0" stroke-linecap="round"/>
<path d="M1857.9,1337.4 Q1857.6,1375.7 1869.1,1350.1 Q1865.3,1369.2 1880.7,1365.0 Q1829.7,1382.8 1882.3,1399.5 Q1863.7,1400.5 1877.0,1416.5 Q1858.0,1395.2 1849.1,1427.0 Q1851.9,1397.2 1821.3,1419.1 Q1841.5,1396.8 1804.3,1397.9 Q1835.7,1384.4 1807.6,1361.3 Q1845.0,1371.9 1828.2,1341.9 Q1847.3,1368.1 1857.9,1337.4Z" fill="#ffc000"/>
<circle cx="1846.5" cy="1383.0" r="18.5" fill="#fff" fill-opacity="0.75"/>
<circle cx="1846.5" cy="1383.0" r="17.6" fill="#fff200"/>
<path d="M1847.3,1365.4 V1383.0 H1864.1" fill="none" stroke="#fffbd8" stroke-width="2.3"/>
<polygon points="1881.0,1361.6 1879.0,1366.6 1883.0,1375.5 1886.6,1368.7" fill="#2edec0"/>
<polygon points="1895.1,1376.6 1902.2,1375.2 1906.5,1367.8 1907.5,1366.1 1904.1,1361.9 1900.2,1361.6 1896.8,1365.6" fill="#2edec0"/>
<polygon points="1914.2,1376.6 1921.4,1375.2 1925.6,1367.8 1926.6,1366.1 1923.2,1361.9 1919.3,1361.6 1915.9,1365.6" fill="#2edec0"/>
<polygon points="1933.4,1376.6 1940.5,1375.2 1944.8,1367.8 1945.8,1366.1 1942.4,1361.9 1938.5,1361.6 1935.1,1365.6" fill="#2edec0"/>
<polygon points="1952.5,1376.6 1959.7,1375.2 1963.0,1375.8 1965.8,1366.2 1958.2,1360.2 1954.2,1365.6" fill="#2edec0"/>
<path d="M1881.0,1361.6 L1891.6,1359.3 Q1899.0,1363.0 1902.2,1375.2 L1892.8,1377.9 Q1888.6,1365.3 1881.0,1361.6Z" fill="#30e8c8"/>
<path d="M1900.2,1361.6 L1910.7,1359.3 Q1918.2,1363.0 1921.4,1375.2 L1912.0,1377.9 Q1907.8,1365.3 1900.2,1361.6Z" fill="#30e8c8"/>
<path d="M1919.3,1361.6 L1929.9,1359.3 Q1937.3,1363.0 1940.5,1375.2 L1931.1,1377.9 Q1926.9,1365.3 1919.3,1361.6Z" fill="#30e8c8"/>
<path d="M1938.5,1361.6 L1949.0,1359.3 Q1956.5,1363.0 1959.7,1375.2 L1950.3,1377.9 Q1946.1,1365.3 1938.5,1361.6Z" fill="#30e8c8"/>
<polygon points="1881.0,1397.8 1879.0,1392.6 1883.0,1383.4 1886.6,1390.4" fill="#0fc026"/>
<polygon points="1895.1,1382.3 1902.2,1383.7 1906.5,1391.4 1907.5,1393.1 1904.1,1397.4 1900.2,1397.8 1896.8,1393.6" fill="#0fc026"/>
<polygon points="1914.2,1382.3 1921.4,1383.7 1925.6,1391.4 1926.6,1393.1 1923.2,1397.4 1919.3,1397.8 1915.9,1393.6" fill="#0fc026"/>
<polygon points="1933.4,1382.3 1940.5,1383.7 1944.8,1391.4 1945.8,1393.1 1942.4,1397.4 1938.5,1397.8 1935.1,1393.6" fill="#0fc026"/>
<polygon points="1952.5,1382.3 1959.7,1383.7 1963.0,1383.2 1965.8,1393.1 1958.2,1399.1 1954.2,1393.6" fill="#0fc026"/>
<path d="M1881.0,1397.8 L1891.6,1400.1 Q1899.0,1396.3 1902.2,1383.7 L1892.8,1381.0 Q1888.6,1393.9 1881.0,1397.8Z" fill="#10c828"/>
<path d="M1900.2,1397.8 L1910.7,1400.1 Q1918.2,1396.3 1921.4,1383.7 L1912.0,1381.0 Q1907.8,1393.9 1900.2,1397.8Z" fill="#10c828"/>
<path d="M1919.3,1397.8 L1929.9,1400.1 Q1937.3,1396.3 1940.5,1383.7 L1931.1,1381.0 Q1926.9,1393.9 1919.3,1397.8Z" fill="#10c828"/>
<path d="M1938.5,1397.8 L1949.0,1400.1 Q1956.5,1396.3 1959.7,1383.7 L1950.3,1381.0 Q1946.1,1393.9 1938.5,1397.8Z" fill="#10c828"/>
<text transform="translate(1412.7,1472.0) scale(0.8,1)" font-size="52" text-anchor="start" fill="#000" font-weight="bold">I</text>
<line x1="1550.2" y1="1475.0" x2="1550.2" y2="1738.6" stroke="#000" stroke-width="1.8" stroke-linecap="butt"/>
<line x1="1535.2" y1="1732.6" x2="1550.2" y2="1732.6" stroke="#000" stroke-width="1.8" stroke-linecap="butt"/>
<text transform="translate(1528.2,1744.1) scale(1,1)" font-size="33" text-anchor="end" fill="#1c1c1c" font-weight="normal">0</text>
<line x1="1535.2" y1="1629.7" x2="1550.2" y2="1629.7" stroke="#000" stroke-width="1.8" stroke-linecap="butt"/>
<text transform="translate(1528.2,1641.2) scale(1,1)" font-size="33" text-anchor="end" fill="#1c1c1c" font-weight="normal">4</text>
<line x1="1535.2" y1="1526.8" x2="1550.2" y2="1526.8" stroke="#000" stroke-width="1.8" stroke-linecap="butt"/>
<text transform="translate(1528.2,1538.3) scale(1,1)" font-size="33" text-anchor="end" fill="#1c1c1c" font-weight="normal">8</text>
<line x1="1542.2" y1="1681.1" x2="1550.2" y2="1681.1" stroke="#000" stroke-width="1.8" stroke-linecap="butt"/>
<line x1="1542.2" y1="1578.2" x2="1550.2" y2="1578.2" stroke="#000" stroke-width="1.8" stroke-linecap="butt"/>
<rect x="1556.0" y="1666.0" width="36.6" height="66.6" fill="#00107a" stroke="#000" stroke-width="1.9"/>
<rect x="1601.7" y="1631.4" width="37.1" height="101.2" fill="#00107a" stroke="#000" stroke-width="1.9"/>
<rect x="1649.0" y="1618.0" width="37.8" height="114.6" fill="#00107a" stroke="#000" stroke-width="1.9"/>
<rect x="1695.3" y="1558.2" width="37.7" height="174.4" fill="#00107a" stroke="#000" stroke-width="1.9"/>
<rect x="1789.6" y="1686.4" width="36.7" height="46.2" fill="#0018c8" stroke="#000" stroke-width="1.9"/>
<rect x="1836.0" y="1634.3" width="37.8" height="98.3" fill="#0018c8" stroke="#000" stroke-width="1.9"/>
<rect x="1882.9" y="1593.7" width="37.7" height="138.9" fill="#0018c8" stroke="#000" stroke-width="1.9"/>
<rect x="1929.4" y="1593.0" width="37.6" height="139.6" fill="#0018c8" stroke="#000" stroke-width="1.9"/>
<line x1="1535.2" y1="1732.6" x2="1971.8" y2="1732.6" stroke="#000" stroke-width="2.1" stroke-linecap="butt"/>
<line x1="1574.7" y1="1661.9" x2="1574.7" y2="1670.7" stroke="#000" stroke-width="1.9" stroke-linecap="butt"/>
<line x1="1565.9" y1="1661.9" x2="1583.5" y2="1661.9" stroke="#000" stroke-width="1.9" stroke-linecap="butt"/>
<line x1="1565.9" y1="1670.7" x2="1583.5" y2="1670.7" stroke="#000" stroke-width="1.9" stroke-linecap="butt"/>
<line x1="1621.5" y1="1617.3" x2="1621.5" y2="1645.6" stroke="#000" stroke-width="1.9" stroke-linecap="butt"/>
<line x1="1612.7" y1="1617.3" x2="1630.3" y2="1617.3" stroke="#000" stroke-width="1.9" stroke-linecap="butt"/>
<line x1="1612.7" y1="1645.6" x2="1630.3" y2="1645.6" stroke="#000" stroke-width="1.9" stroke-linecap="butt"/>
<line x1="1668.6" y1="1599.1" x2="1668.6" y2="1636.8" stroke="#000" stroke-width="1.9" stroke-linecap="butt"/>
<line x1="1659.8" y1="1599.1" x2="1677.4" y2="1599.1" stroke="#000" stroke-width="1.9" stroke-linecap="butt"/>
<line x1="1659.8" y1="1636.8" x2="1677.4" y2="1636.8" stroke="#000" stroke-width="1.9" stroke-linecap="butt"/>
<line x1="1715.1" y1="1514.3" x2="1715.1" y2="1601.6" stroke="#000" stroke-width="1.9" stroke-linecap="butt"/>
<line x1="1706.3" y1="1514.3" x2="1723.9" y2="1514.3" stroke="#000" stroke-width="1.9" stroke-linecap="butt"/>
<line x1="1706.3" y1="1601.6" x2="1723.9" y2="1601.6" stroke="#000" stroke-width="1.9" stroke-linecap="butt"/>
<line x1="1808.4" y1="1683.9" x2="1808.4" y2="1688.6" stroke="#000" stroke-width="1.9" stroke-linecap="butt"/>
<line x1="1799.6" y1="1683.9" x2="1817.2" y2="1683.9" stroke="#000" stroke-width="1.9" stroke-linecap="butt"/>
<line x1="1799.6" y1="1688.6" x2="1817.2" y2="1688.6" stroke="#000" stroke-width="1.9" stroke-linecap="butt"/>
<line x1="1855.5" y1="1623.6" x2="1855.5" y2="1644.0" stroke="#000" stroke-width="1.9" stroke-linecap="butt"/>
<line x1="1846.7" y1="1623.6" x2="1864.3" y2="1623.6" stroke="#000" stroke-width="1.9" stroke-linecap="butt"/>
<line x1="1846.7" y1="1644.0" x2="1864.3" y2="1644.0" stroke="#000" stroke-width="1.9" stroke-linecap="butt"/>
<line x1="1902.0" y1="1578.7" x2="1902.0" y2="1607.6" stroke="#000" stroke-width="1.9" stroke-linecap="butt"/>
<line x1="1893.2" y1="1578.7" x2="1910.8" y2="1578.7" stroke="#000" stroke-width="1.9" stroke-linecap="butt"/>
<line x1="1893.2" y1="1607.6" x2="1910.8" y2="1607.6" stroke="#000" stroke-width="1.9" stroke-linecap="butt"/>
<line x1="1949.2" y1="1576.1" x2="1949.2" y2="1611.0" stroke="#000" stroke-width="1.9" stroke-linecap="butt"/>
<line x1="1940.4" y1="1576.1" x2="1958.0" y2="1576.1" stroke="#000" stroke-width="1.9" stroke-linecap="butt"/>
<line x1="1940.4" y1="1611.0" x2="1958.0" y2="1611.0" stroke="#000" stroke-width="1.9" stroke-linecap="butt"/>
<path d="M1575.9,1655.0 L1582.2,1661.3 L1575.9,1667.6 L1569.6,1661.3Z" fill="#fff" stroke="#000" stroke-width="1.1"/>
<path d="M1572.2,1661.9 L1578.5,1668.2 L1572.2,1674.5 L1565.9,1668.2Z" fill="#fff" stroke="#000" stroke-width="1.1"/>
<path d="M1575.3,1665.0 L1581.6,1671.3 L1575.3,1677.6 L1569.0,1671.3Z" fill="#fff" stroke="#000" stroke-width="1.1"/>
<path d="M1620.9,1605.3 L1627.2,1611.6 L1620.9,1617.9 L1614.6,1611.6Z" fill="#fff" stroke="#000" stroke-width="1.1"/>
<path d="M1618.3,1619.5 L1624.6,1625.8 L1618.3,1632.1 L1612.0,1625.8Z" fill="#fff" stroke="#000" stroke-width="1.1"/>
<path d="M1619.3,1630.5 L1625.6,1636.8 L1619.3,1643.1 L1613.0,1636.8Z" fill="#fff" stroke="#000" stroke-width="1.1"/>
<path d="M1617.7,1643.0 L1624.0,1649.3 L1617.7,1655.6 L1611.4,1649.3Z" fill="#fff" stroke="#000" stroke-width="1.1"/>
<path d="M1665.5,1584.9 L1671.8,1591.2 L1665.5,1597.5 L1659.2,1591.2Z" fill="#fff" stroke="#000" stroke-width="1.1"/>
<path d="M1671.8,1614.8 L1678.1,1621.1 L1671.8,1627.4 L1665.5,1621.1Z" fill="#fff" stroke="#000" stroke-width="1.1"/>
<path d="M1669.6,1621.1 L1675.9,1627.4 L1669.6,1633.7 L1663.3,1627.4Z" fill="#fff" stroke="#000" stroke-width="1.1"/>
<path d="M1666.4,1629.8 L1672.7,1636.1 L1666.4,1642.4 L1660.1,1636.1Z" fill="#fff" stroke="#000" stroke-width="1.1"/>
<path d="M1715.1,1503.9 L1721.4,1510.2 L1715.1,1516.5 L1708.8,1510.2Z" fill="#fff" stroke="#000" stroke-width="1.1"/>
<path d="M1717.9,1529.9 L1724.2,1536.2 L1717.9,1542.5 L1711.6,1536.2Z" fill="#fff" stroke="#000" stroke-width="1.1"/>
<path d="M1712.0,1580.2 L1718.3,1586.5 L1712.0,1592.8 L1705.7,1586.5Z" fill="#fff" stroke="#000" stroke-width="1.1"/>
<path d="M1710.1,1595.9 L1716.4,1602.2 L1710.1,1608.5 L1703.8,1602.2Z" fill="#fff" stroke="#000" stroke-width="1.1"/>
<path d="M1805.3,1677.0 L1811.6,1683.3 L1805.3,1689.6 L1799.0,1683.3Z" fill="#fff" stroke="#000" stroke-width="1.1"/>
<path d="M1812.2,1678.5 L1818.5,1684.8 L1812.2,1691.1 L1805.9,1684.8Z" fill="#fff" stroke="#000" stroke-width="1.1"/>
<path d="M1806.8,1681.7 L1813.1,1688.0 L1806.8,1694.3 L1800.5,1688.0Z" fill="#fff" stroke="#000" stroke-width="1.1"/>
<path d="M1856.2,1612.6 L1862.5,1618.9 L1856.2,1625.2 L1849.9,1618.9Z" fill="#fff" stroke="#000" stroke-width="1.1"/>
<path d="M1852.4,1630.5 L1858.7,1636.8 L1852.4,1643.1 L1846.1,1636.8Z" fill="#fff" stroke="#000" stroke-width="1.1"/>
<path d="M1854.0,1635.8 L1860.3,1642.1 L1854.0,1648.4 L1847.7,1642.1Z" fill="#fff" stroke="#000" stroke-width="1.1"/>
<path d="M1898.0,1573.9 L1904.3,1580.2 L1898.0,1586.5 L1891.7,1580.2Z" fill="#fff" stroke="#000" stroke-width="1.1"/>
<path d="M1903.6,1580.2 L1909.9,1586.5 L1903.6,1592.8 L1897.3,1586.5Z" fill="#fff" stroke="#000" stroke-width="1.1"/>
<path d="M1894.8,1588.1 L1901.1,1594.4 L1894.8,1600.7 L1888.5,1594.4Z" fill="#fff" stroke="#000" stroke-width="1.1"/>
<path d="M1903.3,1606.3 L1909.6,1612.6 L1903.3,1618.9 L1897.0,1612.6Z" fill="#fff" stroke="#000" stroke-width="1.1"/>
<path d="M1952.9,1568.3 L1959.2,1574.6 L1952.9,1580.9 L1946.6,1574.6Z" fill="#fff" stroke="#000" stroke-width="1.1"/>
<path d="M1941.9,1577.7 L1948.2,1584.0 L1941.9,1590.3 L1935.6,1584.0Z" fill="#fff" stroke="#000" stroke-width="1.1"/>
<path d="M1949.2,1587.4 L1955.5,1593.7 L1949.2,1600.0 L1942.9,1593.7Z" fill="#fff" stroke="#000" stroke-width="1.1"/>
<path d="M1946.0,1612.6 L1952.3,1618.9 L1946.0,1625.2 L1939.7,1618.9Z" fill="#fff" stroke="#000" stroke-width="1.1"/>
<text transform="translate(1487.0,1623.0) rotate(-90) scale(0.82,1)" font-size="34" text-anchor="middle" fill="#1c1c1c" font-weight="normal">Luciferase activity (RLU)</text>
<text transform="translate(1582.8,1761.9) scale(0.86,1)" font-size="31" text-anchor="middle" fill="#1c1c1c" font-weight="normal">10</text>
<text transform="translate(1628.8,1761.9) scale(0.86,1)" font-size="31" text-anchor="middle" fill="#1c1c1c" font-weight="normal">30</text>
<text transform="translate(1676.4,1761.9) scale(0.86,1)" font-size="31" text-anchor="middle" fill="#1c1c1c" font-weight="normal">50</text>
<text transform="translate(1722.7,1761.9) scale(0.86,1)" font-size="31" text-anchor="middle" fill="#1c1c1c" font-weight="normal">70</text>
<line x1="1560.0" y1="1770.3" x2="1750.3" y2="1770.3" stroke="#4a4a4a" stroke-width="2.4" stroke-linecap="butt"/>
<line x1="1560.0" y1="1811.1" x2="1750.3" y2="1811.1" stroke="#4a4a4a" stroke-width="2.4" stroke-linecap="butt"/>
<text transform="translate(1654.5,1801.8) scale(0.82,1)" font-size="30.5" text-anchor="middle" fill="#1c1c1c" font-weight="normal">cLuc:<tspan fill="#2030a0">N5</tspan> (ng)</text>
<text transform="translate(1654.5,1839.6) scale(0.82,1)" font-size="30.5" text-anchor="middle" fill="#1c1c1c" font-weight="normal">nLuc:<tspan fill="#101080">N6</tspan></text>
<text transform="translate(1658.0,1874.6) scale(0.82,1)" font-size="30.5" text-anchor="middle" fill="#1c1c1c" font-weight="normal">(30 ng)</text>
<text transform="translate(1820.9,1761.9) scale(0.86,1)" font-size="31" text-anchor="middle" fill="#1c1c1c" font-weight="normal">10</text>
<text transform="translate(1867.9,1761.9) scale(0.86,1)" font-size="31" text-anchor="middle" fill="#1c1c1c" font-weight="normal">30</text>
<text transform="translate(1914.8,1761.9) scale(0.86,1)" font-size="31" text-anchor="middle" fill="#1c1c1c" font-weight="normal">50</text>
<text transform="translate(1961.2,1761.9) scale(0.86,1)" font-size="31" text-anchor="middle" fill="#1c1c1c" font-weight="normal">70</text>
<line x1="1798.4" y1="1770.3" x2="1988.4" y2="1770.3" stroke="#4a4a4a" stroke-width="2.4" stroke-linecap="butt"/>
<line x1="1798.4" y1="1811.1" x2="1988.4" y2="1811.1" stroke="#4a4a4a" stroke-width="2.4" stroke-linecap="butt"/>
<text transform="translate(1893.0,1801.8) scale(0.82,1)" font-size="30.5" text-anchor="middle" fill="#1c1c1c" font-weight="normal">cLuc:<tspan fill="#2838d0">P5A</tspan> (ng)</text>
<text transform="translate(1893.0,1839.6) scale(0.82,1)" font-size="30.5" text-anchor="middle" fill="#1c1c1c" font-weight="normal">nLuc:<tspan fill="#3030e0">P6A</tspan></text>
<text transform="translate(1896.5,1874.6) scale(0.82,1)" font-size="30.5" text-anchor="middle" fill="#1c1c1c" font-weight="normal">(30 ng)</text>
<path d="M1603.5,1928.8 C1614.5,1928.3 1618.5,1925.3 1625.2,1923.3" fill="none" stroke="#333333" stroke-width="2.0" stroke-linecap="round"/>
<path d="M1603.5,1939.3 C1614.5,1939.3 1618.5,1947.3 1625.2,1949.3" fill="none" stroke="#333333" stroke-width="2.0" stroke-linecap="round"/>
<path d="M1598.9,1889.2 Q1598.6,1927.5 1610.1,1901.9 Q1606.3,1921.0 1621.7,1916.8 Q1570.7,1934.6 1623.3,1951.3 Q1604.7,1952.3 1618.0,1968.3 Q1599.0,1947.0 1590.1,1978.8 Q1592.9,1949.0 1562.3,1970.9 Q1582.5,1948.6 1545.3,1949.7 Q1576.7,1936.2 1548.6,1913.1 Q1586.0,1923.7 1569.2,1893.7 Q1588.3,1919.9 1598.9,1889.2Z" fill="#c8980a"/>
<circle cx="1587.5" cy="1934.8" r="18.5" fill="#fff" fill-opacity="0.75"/>
<circle cx="1587.5" cy="1934.8" r="17.6" fill="#f0e000"/>
<path d="M1588.3,1917.2 V1934.8 H1605.1" fill="none" stroke="#fffbd8" stroke-width="2.3"/>
<polygon points="1624.2,1918.0 1622.2,1923.3 1626.2,1932.5 1629.8,1925.4" fill="#00078a"/>
<polygon points="1638.3,1933.5 1645.4,1932.1 1649.7,1924.5 1650.7,1922.7 1647.3,1918.4 1643.4,1918.0 1640.0,1922.2" fill="#00078a"/>
<polygon points="1657.4,1933.5 1664.6,1932.1 1668.8,1924.5 1669.8,1922.7 1666.4,1918.4 1662.5,1918.0 1659.1,1922.2" fill="#00078a"/>
<polygon points="1676.6,1933.5 1683.7,1932.1 1688.0,1924.5 1689.0,1922.7 1685.6,1918.4 1681.7,1918.0 1678.3,1922.2" fill="#00078a"/>
<polygon points="1695.7,1933.5 1702.9,1932.1 1706.2,1932.7 1709.0,1922.8 1701.4,1916.7 1697.4,1922.2" fill="#00078a"/>
<path d="M1624.2,1918.0 L1634.8,1915.7 Q1642.2,1919.5 1645.4,1932.1 L1636.0,1934.9 Q1631.8,1921.9 1624.2,1918.0Z" fill="#000890"/>
<path d="M1643.4,1918.0 L1653.9,1915.7 Q1661.4,1919.5 1664.6,1932.1 L1655.2,1934.9 Q1651.0,1921.9 1643.4,1918.0Z" fill="#000890"/>
<path d="M1662.5,1918.0 L1673.1,1915.7 Q1680.5,1919.5 1683.7,1932.1 L1674.3,1934.9 Q1670.1,1921.9 1662.5,1918.0Z" fill="#000890"/>
<path d="M1681.7,1918.0 L1692.2,1915.7 Q1699.7,1919.5 1702.9,1932.1 L1693.5,1934.9 Q1689.3,1921.9 1681.7,1918.0Z" fill="#000890"/>
<polygon points="1624.2,1954.3 1622.2,1949.3 1626.2,1940.4 1629.8,1947.2" fill="#004791"/>
<polygon points="1638.3,1939.3 1645.4,1940.7 1649.7,1948.1 1650.7,1949.8 1647.3,1954.0 1643.4,1954.3 1640.0,1950.3" fill="#004791"/>
<polygon points="1657.4,1939.3 1664.6,1940.7 1668.8,1948.1 1669.8,1949.8 1666.4,1954.0 1662.5,1954.3 1659.1,1950.3" fill="#004791"/>
<polygon points="1676.6,1939.3 1683.7,1940.7 1688.0,1948.1 1689.0,1949.8 1685.6,1954.0 1681.7,1954.3 1678.3,1950.3" fill="#004791"/>
<polygon points="1695.7,1939.3 1702.9,1940.7 1706.2,1940.1 1709.0,1949.7 1701.4,1955.7 1697.4,1950.3" fill="#004791"/>
<path d="M1624.2,1954.3 L1634.8,1956.6 Q1642.2,1952.9 1645.4,1940.7 L1636.0,1938.0 Q1631.8,1950.6 1624.2,1954.3Z" fill="#004a98"/>
<path d="M1643.4,1954.3 L1653.9,1956.6 Q1661.4,1952.9 1664.6,1940.7 L1655.2,1938.0 Q1651.0,1950.6 1643.4,1954.3Z" fill="#004a98"/>
<path d="M1662.5,1954.3 L1673.1,1956.6 Q1680.5,1952.9 1683.7,1940.7 L1674.3,1938.0 Q1670.1,1950.6 1662.5,1954.3Z" fill="#004a98"/>
<path d="M1681.7,1954.3 L1692.2,1956.6 Q1699.7,1952.9 1702.9,1940.7 L1693.5,1938.0 Q1689.3,1950.6 1681.7,1954.3Z" fill="#004a98"/>
<path d="M1864.5,1928.8 C1875.5,1928.3 1879.5,1925.3 1886.2,1923.3" fill="none" stroke="#333333" stroke-width="2.0" stroke-linecap="round"/>
<path d="M1864.5,1939.3 C1875.5,1939.3 1879.5,1947.3 1886.2,1949.3" fill="none" stroke="#333333" stroke-width="2.0" stroke-linecap="round"/>
<path d="M1859.9,1889.2 Q1859.6,1927.5 1871.1,1901.9 Q1867.3,1921.0 1882.7,1916.8 Q1831.7,1934.6 1884.3,1951.3 Q1865.7,1952.3 1879.0,1968.3 Q1860.0,1947.0 1851.1,1978.8 Q1853.9,1949.0 1823.3,1970.9 Q1843.5,1948.6 1806.3,1949.7 Q1837.7,1936.2 1809.6,1913.1 Q1847.0,1923.7 1830.2,1893.7 Q1849.3,1919.9 1859.9,1889.2Z" fill="#ffc000"/>
<circle cx="1848.5" cy="1934.8" r="18.5" fill="#fff" fill-opacity="0.75"/>
<circle cx="1848.5" cy="1934.8" r="17.6" fill="#fff200"/>
<path d="M1849.3,1917.2 V1934.8 H1866.1" fill="none" stroke="#fffbd8" stroke-width="2.3"/>
<polygon points="1885.2,1918.0 1883.2,1923.3 1887.2,1932.5 1890.8,1925.4" fill="#0000de"/>
<polygon points="1899.3,1933.5 1906.4,1932.1 1910.7,1924.5 1911.7,1922.7 1908.3,1918.4 1904.4,1918.0 1901.0,1922.2" fill="#0000de"/>
<polygon points="1918.4,1933.5 1925.6,1932.1 1929.8,1924.5 1930.8,1922.7 1927.4,1918.4 1923.5,1918.0 1920.1,1922.2" fill="#0000de"/>
<polygon points="1937.6,1933.5 1944.7,1932.1 1949.0,1924.5 1950.0,1922.7 1946.6,1918.4 1942.7,1918.0 1939.3,1922.2" fill="#0000de"/>
<polygon points="1956.7,1933.5 1963.9,1932.1 1967.2,1932.7 1970.0,1922.8 1962.4,1916.7 1958.4,1922.2" fill="#0000de"/>
<path d="M1885.2,1918.0 L1895.8,1915.7 Q1903.2,1919.5 1906.4,1932.1 L1897.0,1934.9 Q1892.8,1921.9 1885.2,1918.0Z" fill="#0000e8"/>
<path d="M1904.4,1918.0 L1914.9,1915.7 Q1922.4,1919.5 1925.6,1932.1 L1916.2,1934.9 Q1912.0,1921.9 1904.4,1918.0Z" fill="#0000e8"/>
<path d="M1923.5,1918.0 L1934.1,1915.7 Q1941.5,1919.5 1944.7,1932.1 L1935.3,1934.9 Q1931.1,1921.9 1923.5,1918.0Z" fill="#0000e8"/>
<path d="M1942.7,1918.0 L1953.2,1915.7 Q1960.7,1919.5 1963.9,1932.1 L1954.5,1934.9 Q1950.3,1921.9 1942.7,1918.0Z" fill="#0000e8"/>
<polygon points="1885.2,1954.3 1883.2,1949.3 1887.2,1940.4 1890.8,1947.2" fill="#077ae6"/>
<polygon points="1899.3,1939.3 1906.4,1940.7 1910.7,1948.1 1911.7,1949.8 1908.3,1954.0 1904.4,1954.3 1901.0,1950.3" fill="#077ae6"/>
<polygon points="1918.4,1939.3 1925.6,1940.7 1929.8,1948.1 1930.8,1949.8 1927.4,1954.0 1923.5,1954.3 1920.1,1950.3" fill="#077ae6"/>
<polygon points="1937.6,1939.3 1944.7,1940.7 1949.0,1948.1 1950.0,1949.8 1946.6,1954.0 1942.7,1954.3 1939.3,1950.3" fill="#077ae6"/>
<polygon points="1956.7,1939.3 1963.9,1940.7 1967.2,1940.1 1970.0,1949.7 1962.4,1955.7 1958.4,1950.3" fill="#077ae6"/>
<path d="M1885.2,1954.3 L1895.8,1956.6 Q1903.2,1952.9 1906.4,1940.7 L1897.0,1938.0 Q1892.8,1950.6 1885.2,1954.3Z" fill="#0880f0"/>
<path d="M1904.4,1954.3 L1914.9,1956.6 Q1922.4,1952.9 1925.6,1940.7 L1916.2,1938.0 Q1912.0,1950.6 1904.4,1954.3Z" fill="#0880f0"/>
<path d="M1923.5,1954.3 L1934.1,1956.6 Q1941.5,1952.9 1944.7,1940.7 L1935.3,1938.0 Q1931.1,1950.6 1923.5,1954.3Z" fill="#0880f0"/>
<path d="M1942.7,1954.3 L1953.2,1956.6 Q1960.7,1952.9 1963.9,1940.7 L1954.5,1938.0 Q1950.3,1950.6 1942.7,1954.3Z" fill="#0880f0"/>
<text transform="translate(695.5,1403.0) scale(0.8,1)" font-size="52" text-anchor="start" fill="#000" font-weight="bold">J</text>
<line x1="861.0" y1="1469.6" x2="861.0" y2="1734.6" stroke="#000" stroke-width="1.8" stroke-linecap="butt"/>
<line x1="849.0" y1="1729.6" x2="861.0" y2="1729.6" stroke="#000" stroke-width="1.6" stroke-linecap="butt"/>
<text transform="translate(842.0,1741.6) scale(1,1)" font-size="34.5" text-anchor="end" fill="#1c1c1c" font-weight="normal">0</text>
<line x1="849.0" y1="1643.2" x2="861.0" y2="1643.2" stroke="#000" stroke-width="1.6" stroke-linecap="butt"/>
<text transform="translate(842.0,1655.2) scale(1,1)" font-size="34.5" text-anchor="end" fill="#1c1c1c" font-weight="normal">40</text>
<line x1="849.0" y1="1556.9" x2="861.0" y2="1556.9" stroke="#000" stroke-width="1.6" stroke-linecap="butt"/>
<text transform="translate(842.0,1568.9) scale(1,1)" font-size="34.5" text-anchor="end" fill="#1c1c1c" font-weight="normal">80</text>
<line x1="849.0" y1="1470.5" x2="861.0" y2="1470.5" stroke="#000" stroke-width="1.6" stroke-linecap="butt"/>
<text transform="translate(842.0,1482.5) scale(1,1)" font-size="34.5" text-anchor="end" fill="#1c1c1c" font-weight="normal">120</text>
<line x1="855.0" y1="1686.4" x2="861.0" y2="1686.4" stroke="#000" stroke-width="1.6" stroke-linecap="butt"/>
<line x1="855.0" y1="1600.0" x2="861.0" y2="1600.0" stroke="#000" stroke-width="1.6" stroke-linecap="butt"/>
<line x1="855.0" y1="1513.7" x2="861.0" y2="1513.7" stroke="#000" stroke-width="1.6" stroke-linecap="butt"/>
<rect x="866.4" y="1514.0" width="37.4" height="215.6" fill="#00107a" stroke="#000" stroke-width="1.5"/>
<rect x="912.8" y="1704.2" width="38.8" height="25.4" fill="#c0c0c0" stroke="#000" stroke-width="1.5"/>
<rect x="959.9" y="1639.0" width="38.8" height="90.6" fill="#0018c8" stroke="#000" stroke-width="1.5"/>
<rect x="1005.9" y="1704.2" width="38.4" height="25.4" fill="#c0c0c0" stroke="#000" stroke-width="1.5"/>
<line x1="849.0" y1="1729.6" x2="1048.7" y2="1729.6" stroke="#000" stroke-width="1.9" stroke-linecap="butt"/>
<line x1="885.7" y1="1504.9" x2="885.7" y2="1524.9" stroke="#000" stroke-width="1.9" stroke-linecap="butt"/>
<line x1="878.2" y1="1504.9" x2="893.2" y2="1504.9" stroke="#000" stroke-width="1.9" stroke-linecap="butt"/>
<line x1="878.2" y1="1524.9" x2="893.2" y2="1524.9" stroke="#000" stroke-width="1.9" stroke-linecap="butt"/>
<line x1="932.0" y1="1697.7" x2="932.0" y2="1710.7" stroke="#000" stroke-width="1.9" stroke-linecap="butt"/>
<line x1="924.5" y1="1697.7" x2="939.5" y2="1697.7" stroke="#000" stroke-width="1.9" stroke-linecap="butt"/>
<line x1="924.5" y1="1710.7" x2="939.5" y2="1710.7" stroke="#000" stroke-width="1.9" stroke-linecap="butt"/>
<line x1="979.1" y1="1627.4" x2="979.1" y2="1649.9" stroke="#000" stroke-width="1.9" stroke-linecap="butt"/>
<line x1="971.6" y1="1627.4" x2="986.6" y2="1627.4" stroke="#000" stroke-width="1.9" stroke-linecap="butt"/>
<line x1="971.6" y1="1649.9" x2="986.6" y2="1649.9" stroke="#000" stroke-width="1.9" stroke-linecap="butt"/>
<line x1="1025.1" y1="1701.3" x2="1025.1" y2="1706.0" stroke="#000" stroke-width="1.9" stroke-linecap="butt"/>
<line x1="1017.6" y1="1701.3" x2="1032.6" y2="1701.3" stroke="#000" stroke-width="1.9" stroke-linecap="butt"/>
<line x1="1017.6" y1="1706.0" x2="1032.6" y2="1706.0" stroke="#000" stroke-width="1.9" stroke-linecap="butt"/>
<path d="M885.7,1497.2 L892.7,1504.2 L885.7,1511.2 L878.7,1504.2Z" fill="#fff" stroke="#000" stroke-width="1.1"/>
<path d="M883.8,1517.9 L890.8,1524.9 L883.8,1531.9 L876.8,1524.9Z" fill="#fff" stroke="#000" stroke-width="1.1"/>
<path d="M930.9,1691.8 L937.9,1698.8 L930.9,1705.8 L923.9,1698.8Z" fill="#fff" stroke="#000" stroke-width="1.1"/>
<path d="M927.3,1703.7 L934.3,1710.7 L927.3,1717.7 L920.3,1710.7Z" fill="#fff" stroke="#000" stroke-width="1.1"/>
<path d="M976.2,1614.6 L983.2,1621.6 L976.2,1628.6 L969.2,1621.6Z" fill="#fff" stroke="#000" stroke-width="1.1"/>
<path d="M981.7,1631.3 L988.7,1638.3 L981.7,1645.3 L974.7,1638.3Z" fill="#fff" stroke="#000" stroke-width="1.1"/>
<path d="M978.8,1641.0 L985.8,1648.0 L978.8,1655.0 L971.8,1648.0Z" fill="#fff" stroke="#000" stroke-width="1.1"/>
<path d="M1028.8,1693.6 L1035.8,1700.6 L1028.8,1707.6 L1021.8,1700.6Z" fill="#fff" stroke="#000" stroke-width="1.1"/>
<path d="M1020.8,1699.0 L1027.8,1706.0 L1020.8,1713.0 L1013.8,1706.0Z" fill="#fff" stroke="#000" stroke-width="1.1"/>
<line x1="1121.2" y1="1469.6" x2="1121.2" y2="1734.6" stroke="#000" stroke-width="1.8" stroke-linecap="butt"/>
<line x1="1109.2" y1="1729.6" x2="1121.2" y2="1729.6" stroke="#000" stroke-width="1.6" stroke-linecap="butt"/>
<text transform="translate(1102.2,1741.6) scale(1,1)" font-size="34.5" text-anchor="end" fill="#1c1c1c" font-weight="normal">0</text>
<line x1="1109.2" y1="1643.2" x2="1121.2" y2="1643.2" stroke="#000" stroke-width="1.6" stroke-linecap="butt"/>
<text transform="translate(1102.2,1655.2) scale(1,1)" font-size="34.5" text-anchor="end" fill="#1c1c1c" font-weight="normal">40</text>
<line x1="1109.2" y1="1556.9" x2="1121.2" y2="1556.9" stroke="#000" stroke-width="1.6" stroke-linecap="butt"/>
<text transform="translate(1102.2,1568.9) scale(1,1)" font-size="34.5" text-anchor="end" fill="#1c1c1c" font-weight="normal">80</text>
<line x1="1109.2" y1="1470.5" x2="1121.2" y2="1470.5" stroke="#000" stroke-width="1.6" stroke-linecap="butt"/>
<text transform="translate(1102.2,1482.5) scale(1,1)" font-size="34.5" text-anchor="end" fill="#1c1c1c" font-weight="normal">120</text>
<line x1="1115.2" y1="1686.4" x2="1121.2" y2="1686.4" stroke="#000" stroke-width="1.6" stroke-linecap="butt"/>
<line x1="1115.2" y1="1600.0" x2="1121.2" y2="1600.0" stroke="#000" stroke-width="1.6" stroke-linecap="butt"/>
<line x1="1115.2" y1="1513.7" x2="1121.2" y2="1513.7" stroke="#000" stroke-width="1.6" stroke-linecap="butt"/>
<rect x="1126.6" y="1704.2" width="37.3" height="25.4" fill="#c0c0c0" stroke="#000" stroke-width="1.5"/>
<rect x="1173.7" y="1514.0" width="38.0" height="215.6" fill="#4a7812" stroke="#000" stroke-width="1.5"/>
<rect x="1219.7" y="1702.4" width="38.4" height="27.2" fill="#c0c0c0" stroke="#000" stroke-width="1.5"/>
<rect x="1266.0" y="1623.4" width="38.9" height="106.2" fill="#6aa818" stroke="#000" stroke-width="1.5"/>
<line x1="1109.2" y1="1729.6" x2="1309.6" y2="1729.6" stroke="#000" stroke-width="1.9" stroke-linecap="butt"/>
<line x1="1192.5" y1="1497.7" x2="1192.5" y2="1528.5" stroke="#000" stroke-width="1.9" stroke-linecap="butt"/>
<line x1="1185.0" y1="1497.7" x2="1200.0" y2="1497.7" stroke="#000" stroke-width="1.9" stroke-linecap="butt"/>
<line x1="1185.0" y1="1528.5" x2="1200.0" y2="1528.5" stroke="#000" stroke-width="1.9" stroke-linecap="butt"/>
<line x1="1285.3" y1="1613.6" x2="1285.3" y2="1631.0" stroke="#000" stroke-width="1.9" stroke-linecap="butt"/>
<line x1="1277.8" y1="1613.6" x2="1292.8" y2="1613.6" stroke="#000" stroke-width="1.9" stroke-linecap="butt"/>
<line x1="1277.8" y1="1631.0" x2="1292.8" y2="1631.0" stroke="#000" stroke-width="1.9" stroke-linecap="butt"/>
<path d="M1144.0,1695.4 L1151.0,1702.4 L1144.0,1709.4 L1137.0,1702.4Z" fill="#fff" stroke="#000" stroke-width="1.1"/>
<path d="M1145.8,1696.5 L1152.8,1703.5 L1145.8,1710.5 L1138.8,1703.5Z" fill="#fff" stroke="#000" stroke-width="1.1"/>
<path d="M1190.0,1486.3 L1197.0,1493.3 L1190.0,1500.3 L1183.0,1493.3Z" fill="#fff" stroke="#000" stroke-width="1.1"/>
<path d="M1190.0,1507.0 L1197.0,1514.0 L1190.0,1521.0 L1183.0,1514.0Z" fill="#fff" stroke="#000" stroke-width="1.1"/>
<path d="M1191.8,1519.7 L1198.8,1526.7 L1191.8,1533.7 L1184.8,1526.7Z" fill="#fff" stroke="#000" stroke-width="1.1"/>
<path d="M1235.3,1695.4 L1242.3,1702.4 L1235.3,1709.4 L1228.3,1702.4Z" fill="#fff" stroke="#000" stroke-width="1.1"/>
<path d="M1240.7,1693.6 L1247.7,1700.6 L1240.7,1707.6 L1233.7,1700.6Z" fill="#fff" stroke="#000" stroke-width="1.1"/>
<path d="M1238.9,1695.4 L1245.9,1702.4 L1238.9,1709.4 L1231.9,1702.4Z" fill="#fff" stroke="#000" stroke-width="1.1"/>
<path d="M1286.0,1602.3 L1293.0,1609.3 L1286.0,1616.3 L1279.0,1609.3Z" fill="#fff" stroke="#000" stroke-width="1.1"/>
<path d="M1280.6,1619.3 L1287.6,1626.3 L1280.6,1633.3 L1273.6,1626.3Z" fill="#fff" stroke="#000" stroke-width="1.1"/>
<path d="M1289.6,1621.1 L1296.6,1628.1 L1289.6,1635.1 L1282.6,1628.1Z" fill="#fff" stroke="#000" stroke-width="1.1"/>
<text transform="translate(752.0,1613.0) rotate(-90) scale(0.82,1)" font-size="34" text-anchor="middle" fill="#1c1c1c" font-weight="normal">Luciferase activity (nRLU)</text>
<path d="M855.2,1802.8 Q879.3,1803.0 863.2,1795.8 Q875.2,1798.2 872.6,1788.5 Q883.8,1820.6 894.3,1787.5 Q894.9,1799.2 905.0,1790.8 Q891.6,1802.7 911.6,1808.3 Q892.8,1806.6 906.6,1825.8 Q892.6,1813.1 893.3,1836.5 Q884.8,1816.8 870.2,1834.5 Q877.0,1811.0 858.1,1821.5 Q874.5,1809.5 855.2,1802.8Z" fill="#d0a010"/>
<circle cx="883.6" cy="1810.0" r="11.4" fill="#fff" fill-opacity="0.75"/>
<circle cx="883.6" cy="1810.0" r="10.8" fill="#f0e000"/>
<path d="M884.1,1799.2 V1810.0 H894.4" fill="none" stroke="#fffbd8" stroke-width="1.5"/>
<path d="M876.6,1787.0 C877.6,1793.0 880.1,1794.0 880.1,1800.0" fill="none" stroke="#555" stroke-width="2.2" stroke-linecap="round"/>
<path d="M888.3,1787.0 C887.3,1793.0 887.6,1794.0 887.6,1800.0" fill="none" stroke="#555" stroke-width="2.2" stroke-linecap="round"/>
<polyline points="878.3,1738.2 878.1,1738.7 877.5,1739.3 876.6,1739.8 875.6,1740.4 874.6,1740.9 873.7,1741.4 873.1,1742.0 872.9,1742.5 873.1,1743.1 873.7,1743.6 874.6,1744.2 875.6,1744.7 876.6,1745.2 877.5,1745.8 878.1,1746.3 878.3,1746.9 878.1,1747.4 877.5,1747.9 876.6,1748.5 875.6,1749.0 874.6,1749.6 873.7,1750.1 873.1,1750.7 872.9,1751.2 873.1,1751.7 873.7,1752.3 874.6,1752.8 875.6,1753.4 876.6,1753.9 877.5,1754.4 878.1,1755.0 878.3,1755.5 878.1,1756.1 877.5,1756.6 876.6,1757.1 875.6,1757.7 874.6,1758.2 873.7,1758.8 873.1,1759.3 872.9,1759.9 873.1,1760.4 873.7,1760.9 874.6,1761.5 875.6,1762.0 876.6,1762.6 877.5,1763.1 878.1,1763.6 878.3,1764.2 878.1,1764.7 877.5,1765.3 876.6,1765.8 875.6,1766.3 874.6,1766.9 873.7,1767.4 873.1,1768.0 872.9,1768.5 873.1,1769.1 873.7,1769.6 874.6,1770.1 875.6,1770.7 876.6,1771.2 877.5,1771.8 878.1,1772.3 878.3,1772.8 878.1,1773.4 877.5,1773.9 876.6,1774.5 875.6,1775.0 874.6,1775.5 873.7,1776.1 873.1,1776.6 872.9,1777.2 873.1,1777.7 873.7,1778.3 874.6,1778.8 875.6,1779.3 876.6,1779.9 877.5,1780.4 878.1,1781.0 878.3,1781.5 878.1,1782.0 877.5,1782.6 876.6,1783.1 875.6,1783.7 874.6,1784.2 873.7,1784.8 873.1,1785.3 872.9,1785.8 873.1,1786.4 873.7,1786.9 874.6,1787.5 875.6,1788.0" fill="none" stroke="#1a5a8a" stroke-width="6.2" stroke-linecap="round" stroke-linejoin="round"/>
<polyline points="892.0,1738.2 891.8,1738.7 891.2,1739.3 890.3,1739.8 889.3,1740.4 888.3,1740.9 887.4,1741.4 886.8,1742.0 886.6,1742.5 886.8,1743.1 887.4,1743.6 888.3,1744.2 889.3,1744.7 890.3,1745.2 891.2,1745.8 891.8,1746.3 892.0,1746.9 891.8,1747.4 891.2,1747.9 890.3,1748.5 889.3,1749.0 888.3,1749.6 887.4,1750.1 886.8,1750.7 886.6,1751.2 886.8,1751.7 887.4,1752.3 888.3,1752.8 889.3,1753.4 890.3,1753.9 891.2,1754.4 891.8,1755.0 892.0,1755.5 891.8,1756.1 891.2,1756.6 890.3,1757.1 889.3,1757.7 888.3,1758.2 887.4,1758.8 886.8,1759.3 886.6,1759.9 886.8,1760.4 887.4,1760.9 888.3,1761.5 889.3,1762.0 890.3,1762.6 891.2,1763.1 891.8,1763.6 892.0,1764.2 891.8,1764.7 891.2,1765.3 890.3,1765.8 889.3,1766.3 888.3,1766.9 887.4,1767.4 886.8,1768.0 886.6,1768.5 886.8,1769.1 887.4,1769.6 888.3,1770.1 889.3,1770.7 890.3,1771.2 891.2,1771.8 891.8,1772.3 892.0,1772.8 891.8,1773.4 891.2,1773.9 890.3,1774.5 889.3,1775.0 888.3,1775.5 887.4,1776.1 886.8,1776.6 886.6,1777.2 886.8,1777.7 887.4,1778.3 888.3,1778.8 889.3,1779.3 890.3,1779.9 891.2,1780.4 891.8,1781.0 892.0,1781.5 891.8,1782.0 891.2,1782.6 890.3,1783.1 889.3,1783.7 888.3,1784.2 887.4,1784.8 886.8,1785.3 886.6,1785.8 886.8,1786.4 887.4,1786.9 888.3,1787.5 889.3,1788.0" fill="none" stroke="#0808a0" stroke-width="6.2" stroke-linecap="round" stroke-linejoin="round"/>
<path d="M923.3,1790.8 C927.3,1796.8 928.6,1796.8 926.6,1803.8" fill="none" stroke="#555" stroke-width="2.2" stroke-linecap="round"/>
<path d="M936.7,1786.8 C934.7,1792.8 936.6,1790.8 935.6,1798.8" fill="none" stroke="#555" stroke-width="2.2" stroke-linecap="round"/>
<path d="M928.6,1812.8 V1804.0 A8.8,8.8 0 1 0 937.4,1812.8 Z" fill="#c8c8c8"/>
<path d="M933.1,1807.8 V1798.8 A9,9 0 0 1 942.1,1807.8 Z" fill="#d2d2d2"/>
<polyline points="925.0,1741.0 924.8,1741.5 924.2,1742.1 923.3,1742.6 922.3,1743.2 921.3,1743.7 920.4,1744.2 919.8,1744.8 919.6,1745.3 919.8,1745.9 920.4,1746.4 921.3,1747.0 922.3,1747.5 923.3,1748.0 924.2,1748.6 924.8,1749.1 925.0,1749.7 924.8,1750.2 924.2,1750.7 923.3,1751.3 922.3,1751.8 921.3,1752.4 920.4,1752.9 919.8,1753.5 919.6,1754.0 919.8,1754.5 920.4,1755.1 921.3,1755.6 922.3,1756.2 923.3,1756.7 924.2,1757.2 924.8,1757.8 925.0,1758.3 924.8,1758.9 924.2,1759.4 923.3,1759.9 922.3,1760.5 921.3,1761.0 920.4,1761.6 919.8,1762.1 919.6,1762.7 919.8,1763.2 920.4,1763.7 921.3,1764.3 922.3,1764.8 923.3,1765.4 924.2,1765.9 924.8,1766.4 925.0,1767.0 924.8,1767.5 924.2,1768.1 923.3,1768.6 922.3,1769.1 921.3,1769.7 920.4,1770.2 919.8,1770.8 919.6,1771.3 919.8,1771.9 920.4,1772.4 921.3,1772.9 922.3,1773.5 923.3,1774.0 924.2,1774.6 924.8,1775.1 925.0,1775.6 924.8,1776.2 924.2,1776.7 923.3,1777.3 922.3,1777.8 921.3,1778.3 920.4,1778.9 919.8,1779.4 919.6,1780.0 919.8,1780.5 920.4,1781.1 921.3,1781.6 922.3,1782.1 923.3,1782.7 924.2,1783.2 924.8,1783.8 925.0,1784.3 924.8,1784.8 924.2,1785.4 923.3,1785.9 922.3,1786.5 921.3,1787.0 920.4,1787.6 919.8,1788.1 919.6,1788.6 919.8,1789.2 920.4,1789.7 921.3,1790.3 922.3,1790.8" fill="none" stroke="#1a8a2a" stroke-width="6.2" stroke-linecap="round" stroke-linejoin="round"/>
<polyline points="940.4,1737.0 940.2,1737.5 939.6,1738.1 938.7,1738.6 937.7,1739.2 936.7,1739.7 935.8,1740.2 935.2,1740.8 935.0,1741.3 935.2,1741.9 935.8,1742.4 936.7,1743.0 937.7,1743.5 938.7,1744.0 939.6,1744.6 940.2,1745.1 940.4,1745.7 940.2,1746.2 939.6,1746.7 938.7,1747.3 937.7,1747.8 936.7,1748.4 935.8,1748.9 935.2,1749.5 935.0,1750.0 935.2,1750.5 935.8,1751.1 936.7,1751.6 937.7,1752.2 938.7,1752.7 939.6,1753.2 940.2,1753.8 940.4,1754.3 940.2,1754.9 939.6,1755.4 938.7,1755.9 937.7,1756.5 936.7,1757.0 935.8,1757.6 935.2,1758.1 935.0,1758.7 935.2,1759.2 935.8,1759.7 936.7,1760.3 937.7,1760.8 938.7,1761.4 939.6,1761.9 940.2,1762.4 940.4,1763.0 940.2,1763.5 939.6,1764.1 938.7,1764.6 937.7,1765.1 936.7,1765.7 935.8,1766.2 935.2,1766.8 935.0,1767.3 935.2,1767.9 935.8,1768.4 936.7,1768.9 937.7,1769.5 938.7,1770.0 939.6,1770.6 940.2,1771.1 940.4,1771.6 940.2,1772.2 939.6,1772.7 938.7,1773.3 937.7,1773.8 936.7,1774.3 935.8,1774.9 935.2,1775.4 935.0,1776.0 935.2,1776.5 935.8,1777.1 936.7,1777.6 937.7,1778.1 938.7,1778.7 939.6,1779.2 940.2,1779.8 940.4,1780.3 940.2,1780.8 939.6,1781.4 938.7,1781.9 937.7,1782.5 936.7,1783.0 935.8,1783.6 935.2,1784.1 935.0,1784.6 935.2,1785.2 935.8,1785.7 936.7,1786.3 937.7,1786.8" fill="none" stroke="#0808a0" stroke-width="6.2" stroke-linecap="round" stroke-linejoin="round"/>
<path d="M952.6,1802.8 Q976.7,1803.0 960.6,1795.8 Q972.6,1798.2 970.0,1788.5 Q981.2,1820.6 991.7,1787.5 Q992.3,1799.2 1002.4,1790.8 Q989.0,1802.7 1009.0,1808.3 Q990.2,1806.6 1004.0,1825.8 Q990.0,1813.1 990.7,1836.5 Q982.2,1816.8 967.6,1834.5 Q974.4,1811.0 955.5,1821.5 Q971.9,1809.5 952.6,1802.8Z" fill="#ffd868"/>
<circle cx="981.0" cy="1810.0" r="11.4" fill="#fff" fill-opacity="0.75"/>
<circle cx="981.0" cy="1810.0" r="10.8" fill="#fff070"/>
<path d="M981.5,1799.2 V1810.0 H991.8" fill="none" stroke="#fffbd8" stroke-width="1.5"/>
<path d="M975.1,1788.8 C976.1,1794.8 977.5,1794.0 977.5,1800.0" fill="none" stroke="#555" stroke-width="2.2" stroke-linecap="round"/>
<path d="M986.8,1787.6 C985.8,1793.6 985.0,1794.0 985.0,1800.0" fill="none" stroke="#555" stroke-width="2.2" stroke-linecap="round"/>
<polyline points="976.8,1740.0 976.6,1740.5 976.0,1741.1 975.1,1741.6 974.1,1742.2 973.1,1742.7 972.2,1743.2 971.6,1743.8 971.4,1744.3 971.6,1744.9 972.2,1745.4 973.1,1746.0 974.1,1746.5 975.1,1747.0 976.0,1747.6 976.6,1748.1 976.8,1748.7 976.6,1749.2 976.0,1749.7 975.1,1750.3 974.1,1750.8 973.1,1751.4 972.2,1751.9 971.6,1752.5 971.4,1753.0 971.6,1753.5 972.2,1754.1 973.1,1754.6 974.1,1755.2 975.1,1755.7 976.0,1756.2 976.6,1756.8 976.8,1757.3 976.6,1757.9 976.0,1758.4 975.1,1758.9 974.1,1759.5 973.1,1760.0 972.2,1760.6 971.6,1761.1 971.4,1761.7 971.6,1762.2 972.2,1762.7 973.1,1763.3 974.1,1763.8 975.1,1764.4 976.0,1764.9 976.6,1765.4 976.8,1766.0 976.6,1766.5 976.0,1767.1 975.1,1767.6 974.1,1768.1 973.1,1768.7 972.2,1769.2 971.6,1769.8 971.4,1770.3 971.6,1770.9 972.2,1771.4 973.1,1771.9 974.1,1772.5 975.1,1773.0 976.0,1773.6 976.6,1774.1 976.8,1774.6 976.6,1775.2 976.0,1775.7 975.1,1776.3 974.1,1776.8 973.1,1777.3 972.2,1777.9 971.6,1778.4 971.4,1779.0 971.6,1779.5 972.2,1780.1 973.1,1780.6 974.1,1781.1 975.1,1781.7 976.0,1782.2 976.6,1782.8 976.8,1783.3 976.6,1783.8 976.0,1784.4 975.1,1784.9 974.1,1785.5 973.1,1786.0 972.2,1786.6 971.6,1787.1 971.4,1787.6 971.6,1788.2 972.2,1788.7 973.1,1789.3 974.1,1789.8" fill="none" stroke="#60a8f0" stroke-width="6.2" stroke-linecap="round" stroke-linejoin="round"/>
<polyline points="990.5,1738.8 990.3,1739.3 989.7,1739.9 988.8,1740.4 987.8,1741.0 986.8,1741.5 985.9,1742.0 985.3,1742.6 985.1,1743.1 985.3,1743.7 985.9,1744.2 986.8,1744.8 987.8,1745.3 988.8,1745.8 989.7,1746.4 990.3,1746.9 990.5,1747.5 990.3,1748.0 989.7,1748.5 988.8,1749.1 987.8,1749.6 986.8,1750.2 985.9,1750.7 985.3,1751.2 985.1,1751.8 985.3,1752.3 985.9,1752.9 986.8,1753.4 987.8,1754.0 988.8,1754.5 989.7,1755.0 990.3,1755.6 990.5,1756.1 990.3,1756.7 989.7,1757.2 988.8,1757.7 987.8,1758.3 986.8,1758.8 985.9,1759.4 985.3,1759.9 985.1,1760.5 985.3,1761.0 985.9,1761.5 986.8,1762.1 987.8,1762.6 988.8,1763.2 989.7,1763.7 990.3,1764.2 990.5,1764.8 990.3,1765.3 989.7,1765.9 988.8,1766.4 987.8,1766.9 986.8,1767.5 985.9,1768.0 985.3,1768.6 985.1,1769.1 985.3,1769.7 985.9,1770.2 986.8,1770.7 987.8,1771.3 988.8,1771.8 989.7,1772.4 990.3,1772.9 990.5,1773.4 990.3,1774.0 989.7,1774.5 988.8,1775.1 987.8,1775.6 986.8,1776.1 985.9,1776.7 985.3,1777.2 985.1,1777.8 985.3,1778.3 985.9,1778.9 986.8,1779.4 987.8,1779.9 988.8,1780.5 989.7,1781.0 990.3,1781.6 990.5,1782.1 990.3,1782.6 989.7,1783.2 988.8,1783.7 987.8,1784.3 986.8,1784.8 985.9,1785.4 985.3,1785.9 985.1,1786.4 985.3,1787.0 985.9,1787.5 986.8,1788.1 987.8,1788.6" fill="none" stroke="#0808a0" stroke-width="6.2" stroke-linecap="round" stroke-linejoin="round"/>
<path d="M1019.9,1791.4 C1023.9,1797.4 1024.3,1796.8 1022.3,1803.8" fill="none" stroke="#555" stroke-width="2.2" stroke-linecap="round"/>
<path d="M1033.0,1787.4 C1031.0,1793.4 1032.3,1790.8 1031.3,1798.8" fill="none" stroke="#555" stroke-width="2.2" stroke-linecap="round"/>
<path d="M1024.3,1812.8 V1804.0 A8.8,8.8 0 1 0 1033.1,1812.8 Z" fill="#c8c8c8"/>
<path d="M1028.8,1807.8 V1798.8 A9,9 0 0 1 1037.8,1807.8 Z" fill="#d2d2d2"/>
<polyline points="1021.6,1741.6 1021.4,1742.1 1020.8,1742.7 1019.9,1743.2 1018.9,1743.8 1017.9,1744.3 1017.0,1744.8 1016.4,1745.4 1016.2,1745.9 1016.4,1746.5 1017.0,1747.0 1017.9,1747.6 1018.9,1748.1 1019.9,1748.6 1020.8,1749.2 1021.4,1749.7 1021.6,1750.3 1021.4,1750.8 1020.8,1751.3 1019.9,1751.9 1018.9,1752.4 1017.9,1753.0 1017.0,1753.5 1016.4,1754.0 1016.2,1754.6 1016.4,1755.1 1017.0,1755.7 1017.9,1756.2 1018.9,1756.8 1019.9,1757.3 1020.8,1757.8 1021.4,1758.4 1021.6,1758.9 1021.4,1759.5 1020.8,1760.0 1019.9,1760.5 1018.9,1761.1 1017.9,1761.6 1017.0,1762.2 1016.4,1762.7 1016.2,1763.3 1016.4,1763.8 1017.0,1764.3 1017.9,1764.9 1018.9,1765.4 1019.9,1766.0 1020.8,1766.5 1021.4,1767.0 1021.6,1767.6 1021.4,1768.1 1020.8,1768.7 1019.9,1769.2 1018.9,1769.7 1017.9,1770.3 1017.0,1770.8 1016.4,1771.4 1016.2,1771.9 1016.4,1772.5 1017.0,1773.0 1017.9,1773.5 1018.9,1774.1 1019.9,1774.6 1020.8,1775.2 1021.4,1775.7 1021.6,1776.2 1021.4,1776.8 1020.8,1777.3 1019.9,1777.9 1018.9,1778.4 1017.9,1778.9 1017.0,1779.5 1016.4,1780.0 1016.2,1780.6 1016.4,1781.1 1017.0,1781.7 1017.9,1782.2 1018.9,1782.7 1019.9,1783.3 1020.8,1783.8 1021.4,1784.4 1021.6,1784.9 1021.4,1785.4 1020.8,1786.0 1019.9,1786.5 1018.9,1787.1 1017.9,1787.6 1017.0,1788.2 1016.4,1788.7 1016.2,1789.2 1016.4,1789.8 1017.0,1790.3 1017.9,1790.9 1018.9,1791.4" fill="none" stroke="#28e840" stroke-width="6.2" stroke-linecap="round" stroke-linejoin="round"/>
<polyline points="1036.7,1737.6 1036.5,1738.1 1035.9,1738.7 1035.0,1739.2 1034.0,1739.8 1033.0,1740.3 1032.1,1740.8 1031.5,1741.4 1031.3,1741.9 1031.5,1742.5 1032.1,1743.0 1033.0,1743.6 1034.0,1744.1 1035.0,1744.6 1035.9,1745.2 1036.5,1745.7 1036.7,1746.3 1036.5,1746.8 1035.9,1747.3 1035.0,1747.9 1034.0,1748.4 1033.0,1749.0 1032.1,1749.5 1031.5,1750.0 1031.3,1750.6 1031.5,1751.1 1032.1,1751.7 1033.0,1752.2 1034.0,1752.8 1035.0,1753.3 1035.9,1753.8 1036.5,1754.4 1036.7,1754.9 1036.5,1755.5 1035.9,1756.0 1035.0,1756.5 1034.0,1757.1 1033.0,1757.6 1032.1,1758.2 1031.5,1758.7 1031.3,1759.3 1031.5,1759.8 1032.1,1760.3 1033.0,1760.9 1034.0,1761.4 1035.0,1762.0 1035.9,1762.5 1036.5,1763.0 1036.7,1763.6 1036.5,1764.1 1035.9,1764.7 1035.0,1765.2 1034.0,1765.7 1033.0,1766.3 1032.1,1766.8 1031.5,1767.4 1031.3,1767.9 1031.5,1768.5 1032.1,1769.0 1033.0,1769.5 1034.0,1770.1 1035.0,1770.6 1035.9,1771.2 1036.5,1771.7 1036.7,1772.2 1036.5,1772.8 1035.9,1773.3 1035.0,1773.9 1034.0,1774.4 1033.0,1774.9 1032.1,1775.5 1031.5,1776.0 1031.3,1776.6 1031.5,1777.1 1032.1,1777.7 1033.0,1778.2 1034.0,1778.7 1035.0,1779.3 1035.9,1779.8 1036.5,1780.4 1036.7,1780.9 1036.5,1781.4 1035.9,1782.0 1035.0,1782.5 1034.0,1783.1 1033.0,1783.6 1032.1,1784.2 1031.5,1784.7 1031.3,1785.2 1031.5,1785.8 1032.1,1786.3 1033.0,1786.9 1034.0,1787.4" fill="none" stroke="#0808a0" stroke-width="6.2" stroke-linecap="round" stroke-linejoin="round"/>
<path d="M1141.2,1791.8 C1145.2,1797.8 1144.7,1796.8 1142.7,1803.8" fill="none" stroke="#555" stroke-width="2.2" stroke-linecap="round"/>
<path d="M1155.7,1787.8 C1153.7,1793.8 1152.7,1790.8 1151.7,1798.8" fill="none" stroke="#555" stroke-width="2.2" stroke-linecap="round"/>
<path d="M1144.7,1812.8 V1804.0 A8.8,8.8 0 1 0 1153.5,1812.8 Z" fill="#c8c8c8"/>
<path d="M1149.2,1807.8 V1798.8 A9,9 0 0 1 1158.2,1807.8 Z" fill="#d2d2d2"/>
<polyline points="1142.9,1742.0 1142.7,1742.5 1142.1,1743.1 1141.2,1743.6 1140.2,1744.2 1139.2,1744.7 1138.3,1745.2 1137.7,1745.8 1137.5,1746.3 1137.7,1746.9 1138.3,1747.4 1139.2,1748.0 1140.2,1748.5 1141.2,1749.0 1142.1,1749.6 1142.7,1750.1 1142.9,1750.7 1142.7,1751.2 1142.1,1751.7 1141.2,1752.3 1140.2,1752.8 1139.2,1753.4 1138.3,1753.9 1137.7,1754.5 1137.5,1755.0 1137.7,1755.5 1138.3,1756.1 1139.2,1756.6 1140.2,1757.2 1141.2,1757.7 1142.1,1758.2 1142.7,1758.8 1142.9,1759.3 1142.7,1759.9 1142.1,1760.4 1141.2,1760.9 1140.2,1761.5 1139.2,1762.0 1138.3,1762.6 1137.7,1763.1 1137.5,1763.7 1137.7,1764.2 1138.3,1764.7 1139.2,1765.3 1140.2,1765.8 1141.2,1766.4 1142.1,1766.9 1142.7,1767.4 1142.9,1768.0 1142.7,1768.5 1142.1,1769.1 1141.2,1769.6 1140.2,1770.1 1139.2,1770.7 1138.3,1771.2 1137.7,1771.8 1137.5,1772.3 1137.7,1772.9 1138.3,1773.4 1139.2,1773.9 1140.2,1774.5 1141.2,1775.0 1142.1,1775.6 1142.7,1776.1 1142.9,1776.6 1142.7,1777.2 1142.1,1777.7 1141.2,1778.3 1140.2,1778.8 1139.2,1779.3 1138.3,1779.9 1137.7,1780.4 1137.5,1781.0 1137.7,1781.5 1138.3,1782.1 1139.2,1782.6 1140.2,1783.1 1141.2,1783.7 1142.1,1784.2 1142.7,1784.8 1142.9,1785.3 1142.7,1785.8 1142.1,1786.4 1141.2,1786.9 1140.2,1787.5 1139.2,1788.0 1138.3,1788.6 1137.7,1789.1 1137.5,1789.6 1137.7,1790.2 1138.3,1790.7 1139.2,1791.3 1140.2,1791.8" fill="none" stroke="#1a5090" stroke-width="6.2" stroke-linecap="round" stroke-linejoin="round"/>
<polyline points="1159.4,1738.0 1159.2,1738.5 1158.6,1739.1 1157.7,1739.6 1156.7,1740.2 1155.7,1740.7 1154.8,1741.2 1154.2,1741.8 1154.0,1742.3 1154.2,1742.9 1154.8,1743.4 1155.7,1744.0 1156.7,1744.5 1157.7,1745.0 1158.6,1745.6 1159.2,1746.1 1159.4,1746.7 1159.2,1747.2 1158.6,1747.7 1157.7,1748.3 1156.7,1748.8 1155.7,1749.4 1154.8,1749.9 1154.2,1750.5 1154.0,1751.0 1154.2,1751.5 1154.8,1752.1 1155.7,1752.6 1156.7,1753.2 1157.7,1753.7 1158.6,1754.2 1159.2,1754.8 1159.4,1755.3 1159.2,1755.9 1158.6,1756.4 1157.7,1756.9 1156.7,1757.5 1155.7,1758.0 1154.8,1758.6 1154.2,1759.1 1154.0,1759.7 1154.2,1760.2 1154.8,1760.7 1155.7,1761.3 1156.7,1761.8 1157.7,1762.4 1158.6,1762.9 1159.2,1763.4 1159.4,1764.0 1159.2,1764.5 1158.6,1765.1 1157.7,1765.6 1156.7,1766.1 1155.7,1766.7 1154.8,1767.2 1154.2,1767.8 1154.0,1768.3 1154.2,1768.9 1154.8,1769.4 1155.7,1769.9 1156.7,1770.5 1157.7,1771.0 1158.6,1771.6 1159.2,1772.1 1159.4,1772.6 1159.2,1773.2 1158.6,1773.7 1157.7,1774.3 1156.7,1774.8 1155.7,1775.3 1154.8,1775.9 1154.2,1776.4 1154.0,1777.0 1154.2,1777.5 1154.8,1778.1 1155.7,1778.6 1156.7,1779.1 1157.7,1779.7 1158.6,1780.2 1159.2,1780.8 1159.4,1781.3 1159.2,1781.8 1158.6,1782.4 1157.7,1782.9 1156.7,1783.5 1155.7,1784.0 1154.8,1784.6 1154.2,1785.1 1154.0,1785.6 1154.2,1786.2 1154.8,1786.7 1155.7,1787.3 1156.7,1787.8" fill="none" stroke="#109878" stroke-width="6.2" stroke-linecap="round" stroke-linejoin="round"/>
<path d="M1167.6,1797.7 Q1191.7,1797.9 1175.6,1790.7 Q1187.6,1793.1 1185.0,1783.4 Q1196.2,1815.5 1206.7,1782.4 Q1207.3,1794.1 1217.4,1785.7 Q1204.0,1797.6 1224.0,1803.2 Q1205.2,1801.5 1219.0,1820.7 Q1205.0,1808.0 1205.7,1831.4 Q1197.2,1811.7 1182.6,1829.4 Q1189.3,1805.9 1170.5,1816.4 Q1186.9,1804.4 1167.6,1797.7Z" fill="#d0a010"/>
<circle cx="1196.0" cy="1804.9" r="11.4" fill="#fff" fill-opacity="0.75"/>
<circle cx="1196.0" cy="1804.9" r="10.8" fill="#f0e000"/>
<path d="M1196.5,1794.1 V1804.9 H1206.8" fill="none" stroke="#fffbd8" stroke-width="1.5"/>
<path d="M1191.9,1782.5 C1192.9,1788.5 1192.5,1788.9 1192.5,1794.9" fill="none" stroke="#555" stroke-width="2.2" stroke-linecap="round"/>
<path d="M1203.0,1782.5 C1202.0,1788.5 1200.0,1788.9 1200.0,1794.9" fill="none" stroke="#555" stroke-width="2.2" stroke-linecap="round"/>
<polyline points="1193.6,1733.7 1193.4,1734.2 1192.8,1734.8 1191.9,1735.3 1190.9,1735.9 1189.9,1736.4 1189.0,1736.9 1188.4,1737.5 1188.2,1738.0 1188.4,1738.6 1189.0,1739.1 1189.9,1739.7 1190.9,1740.2 1191.9,1740.7 1192.8,1741.3 1193.4,1741.8 1193.6,1742.4 1193.4,1742.9 1192.8,1743.4 1191.9,1744.0 1190.9,1744.5 1189.9,1745.1 1189.0,1745.6 1188.4,1746.2 1188.2,1746.7 1188.4,1747.2 1189.0,1747.8 1189.9,1748.3 1190.9,1748.9 1191.9,1749.4 1192.8,1749.9 1193.4,1750.5 1193.6,1751.0 1193.4,1751.6 1192.8,1752.1 1191.9,1752.6 1190.9,1753.2 1189.9,1753.7 1189.0,1754.3 1188.4,1754.8 1188.2,1755.4 1188.4,1755.9 1189.0,1756.4 1189.9,1757.0 1190.9,1757.5 1191.9,1758.1 1192.8,1758.6 1193.4,1759.1 1193.6,1759.7 1193.4,1760.2 1192.8,1760.8 1191.9,1761.3 1190.9,1761.8 1189.9,1762.4 1189.0,1762.9 1188.4,1763.5 1188.2,1764.0 1188.4,1764.6 1189.0,1765.1 1189.9,1765.6 1190.9,1766.2 1191.9,1766.7 1192.8,1767.3 1193.4,1767.8 1193.6,1768.3 1193.4,1768.9 1192.8,1769.4 1191.9,1770.0 1190.9,1770.5 1189.9,1771.0 1189.0,1771.6 1188.4,1772.1 1188.2,1772.7 1188.4,1773.2 1189.0,1773.8 1189.9,1774.3 1190.9,1774.8 1191.9,1775.4 1192.8,1775.9 1193.4,1776.5 1193.6,1777.0 1193.4,1777.5 1192.8,1778.1 1191.9,1778.6 1190.9,1779.2 1189.9,1779.7 1189.0,1780.3 1188.4,1780.8 1188.2,1781.3 1188.4,1781.9 1189.0,1782.4 1189.9,1783.0 1190.9,1783.5" fill="none" stroke="#1a8a2a" stroke-width="6.2" stroke-linecap="round" stroke-linejoin="round"/>
<polyline points="1206.7,1733.7 1206.5,1734.2 1205.9,1734.8 1205.0,1735.3 1204.0,1735.9 1203.0,1736.4 1202.1,1736.9 1201.5,1737.5 1201.3,1738.0 1201.5,1738.6 1202.1,1739.1 1203.0,1739.7 1204.0,1740.2 1205.0,1740.7 1205.9,1741.3 1206.5,1741.8 1206.7,1742.4 1206.5,1742.9 1205.9,1743.4 1205.0,1744.0 1204.0,1744.5 1203.0,1745.1 1202.1,1745.6 1201.5,1746.2 1201.3,1746.7 1201.5,1747.2 1202.1,1747.8 1203.0,1748.3 1204.0,1748.9 1205.0,1749.4 1205.9,1749.9 1206.5,1750.5 1206.7,1751.0 1206.5,1751.6 1205.9,1752.1 1205.0,1752.6 1204.0,1753.2 1203.0,1753.7 1202.1,1754.3 1201.5,1754.8 1201.3,1755.4 1201.5,1755.9 1202.1,1756.4 1203.0,1757.0 1204.0,1757.5 1205.0,1758.1 1205.9,1758.6 1206.5,1759.1 1206.7,1759.7 1206.5,1760.2 1205.9,1760.8 1205.0,1761.3 1204.0,1761.8 1203.0,1762.4 1202.1,1762.9 1201.5,1763.5 1201.3,1764.0 1201.5,1764.6 1202.1,1765.1 1203.0,1765.6 1204.0,1766.2 1205.0,1766.7 1205.9,1767.3 1206.5,1767.8 1206.7,1768.3 1206.5,1768.9 1205.9,1769.4 1205.0,1770.0 1204.0,1770.5 1203.0,1771.0 1202.1,1771.6 1201.5,1772.1 1201.3,1772.7 1201.5,1773.2 1202.1,1773.8 1203.0,1774.3 1204.0,1774.8 1205.0,1775.4 1205.9,1775.9 1206.5,1776.5 1206.7,1777.0 1206.5,1777.5 1205.9,1778.1 1205.0,1778.6 1204.0,1779.2 1203.0,1779.7 1202.1,1780.3 1201.5,1780.8 1201.3,1781.3 1201.5,1781.9 1202.1,1782.4 1203.0,1783.0 1204.0,1783.5" fill="none" stroke="#109878" stroke-width="6.2" stroke-linecap="round" stroke-linejoin="round"/>
<path d="M1232.3,1790.8 C1236.3,1796.8 1234.7,1796.8 1232.7,1803.8" fill="none" stroke="#555" stroke-width="2.2" stroke-linecap="round"/>
<path d="M1246.2,1786.8 C1244.2,1792.8 1242.7,1790.8 1241.7,1798.8" fill="none" stroke="#555" stroke-width="2.2" stroke-linecap="round"/>
<path d="M1234.7,1812.8 V1804.0 A8.8,8.8 0 1 0 1243.5,1812.8 Z" fill="#c8c8c8"/>
<path d="M1239.2,1807.8 V1798.8 A9,9 0 0 1 1248.2,1807.8 Z" fill="#d2d2d2"/>
<polyline points="1234.0,1741.0 1233.8,1741.5 1233.2,1742.1 1232.3,1742.6 1231.3,1743.2 1230.3,1743.7 1229.4,1744.2 1228.8,1744.8 1228.6,1745.3 1228.8,1745.9 1229.4,1746.4 1230.3,1747.0 1231.3,1747.5 1232.3,1748.0 1233.2,1748.6 1233.8,1749.1 1234.0,1749.7 1233.8,1750.2 1233.2,1750.7 1232.3,1751.3 1231.3,1751.8 1230.3,1752.4 1229.4,1752.9 1228.8,1753.5 1228.6,1754.0 1228.8,1754.5 1229.4,1755.1 1230.3,1755.6 1231.3,1756.2 1232.3,1756.7 1233.2,1757.2 1233.8,1757.8 1234.0,1758.3 1233.8,1758.9 1233.2,1759.4 1232.3,1759.9 1231.3,1760.5 1230.3,1761.0 1229.4,1761.6 1228.8,1762.1 1228.6,1762.7 1228.8,1763.2 1229.4,1763.7 1230.3,1764.3 1231.3,1764.8 1232.3,1765.4 1233.2,1765.9 1233.8,1766.4 1234.0,1767.0 1233.8,1767.5 1233.2,1768.1 1232.3,1768.6 1231.3,1769.1 1230.3,1769.7 1229.4,1770.2 1228.8,1770.8 1228.6,1771.3 1228.8,1771.9 1229.4,1772.4 1230.3,1772.9 1231.3,1773.5 1232.3,1774.0 1233.2,1774.6 1233.8,1775.1 1234.0,1775.6 1233.8,1776.2 1233.2,1776.7 1232.3,1777.3 1231.3,1777.8 1230.3,1778.3 1229.4,1778.9 1228.8,1779.4 1228.6,1780.0 1228.8,1780.5 1229.4,1781.1 1230.3,1781.6 1231.3,1782.1 1232.3,1782.7 1233.2,1783.2 1233.8,1783.8 1234.0,1784.3 1233.8,1784.8 1233.2,1785.4 1232.3,1785.9 1231.3,1786.5 1230.3,1787.0 1229.4,1787.6 1228.8,1788.1 1228.6,1788.6 1228.8,1789.2 1229.4,1789.7 1230.3,1790.3 1231.3,1790.8" fill="none" stroke="#60a8f0" stroke-width="6.2" stroke-linecap="round" stroke-linejoin="round"/>
<polyline points="1249.9,1737.0 1249.7,1737.5 1249.1,1738.1 1248.2,1738.6 1247.2,1739.2 1246.2,1739.7 1245.3,1740.2 1244.7,1740.8 1244.5,1741.3 1244.7,1741.9 1245.3,1742.4 1246.2,1743.0 1247.2,1743.5 1248.2,1744.0 1249.1,1744.6 1249.7,1745.1 1249.9,1745.7 1249.7,1746.2 1249.1,1746.7 1248.2,1747.3 1247.2,1747.8 1246.2,1748.4 1245.3,1748.9 1244.7,1749.5 1244.5,1750.0 1244.7,1750.5 1245.3,1751.1 1246.2,1751.6 1247.2,1752.2 1248.2,1752.7 1249.1,1753.2 1249.7,1753.8 1249.9,1754.3 1249.7,1754.9 1249.1,1755.4 1248.2,1755.9 1247.2,1756.5 1246.2,1757.0 1245.3,1757.6 1244.7,1758.1 1244.5,1758.7 1244.7,1759.2 1245.3,1759.7 1246.2,1760.3 1247.2,1760.8 1248.2,1761.4 1249.1,1761.9 1249.7,1762.4 1249.9,1763.0 1249.7,1763.5 1249.1,1764.1 1248.2,1764.6 1247.2,1765.1 1246.2,1765.7 1245.3,1766.2 1244.7,1766.8 1244.5,1767.3 1244.7,1767.9 1245.3,1768.4 1246.2,1768.9 1247.2,1769.5 1248.2,1770.0 1249.1,1770.6 1249.7,1771.1 1249.9,1771.6 1249.7,1772.2 1249.1,1772.7 1248.2,1773.3 1247.2,1773.8 1246.2,1774.3 1245.3,1774.9 1244.7,1775.4 1244.5,1776.0 1244.7,1776.5 1245.3,1777.1 1246.2,1777.6 1247.2,1778.1 1248.2,1778.7 1249.1,1779.2 1249.7,1779.8 1249.9,1780.3 1249.7,1780.8 1249.1,1781.4 1248.2,1781.9 1247.2,1782.5 1246.2,1783.0 1245.3,1783.6 1244.7,1784.1 1244.5,1784.6 1244.7,1785.2 1245.3,1785.7 1246.2,1786.3 1247.2,1786.8" fill="none" stroke="#109878" stroke-width="6.2" stroke-linecap="round" stroke-linejoin="round"/>
<path d="M1257.6,1803.3 Q1281.7,1803.5 1265.6,1796.3 Q1277.6,1798.7 1275.0,1789.0 Q1286.2,1821.1 1296.7,1788.0 Q1297.3,1799.7 1307.4,1791.3 Q1294.0,1803.2 1314.0,1808.8 Q1295.2,1807.1 1309.0,1826.3 Q1295.0,1813.6 1295.7,1837.0 Q1287.2,1817.3 1272.6,1835.0 Q1279.3,1811.5 1260.5,1822.0 Q1276.9,1810.0 1257.6,1803.3Z" fill="#ffd868"/>
<circle cx="1286.0" cy="1810.5" r="11.4" fill="#fff" fill-opacity="0.75"/>
<circle cx="1286.0" cy="1810.5" r="10.8" fill="#fff070"/>
<path d="M1286.5,1799.7 V1810.5 H1296.8" fill="none" stroke="#fffbd8" stroke-width="1.5"/>
<path d="M1283.0,1787.6 C1284.0,1793.6 1282.5,1794.5 1282.5,1800.5" fill="none" stroke="#555" stroke-width="2.2" stroke-linecap="round"/>
<path d="M1293.5,1787.6 C1292.5,1793.6 1290.0,1794.5 1290.0,1800.5" fill="none" stroke="#555" stroke-width="2.2" stroke-linecap="round"/>
<polyline points="1284.7,1738.8 1284.5,1739.3 1283.9,1739.9 1283.0,1740.4 1282.0,1741.0 1281.0,1741.5 1280.1,1742.0 1279.5,1742.6 1279.3,1743.1 1279.5,1743.7 1280.1,1744.2 1281.0,1744.8 1282.0,1745.3 1283.0,1745.8 1283.9,1746.4 1284.5,1746.9 1284.7,1747.5 1284.5,1748.0 1283.9,1748.5 1283.0,1749.1 1282.0,1749.6 1281.0,1750.2 1280.1,1750.7 1279.5,1751.2 1279.3,1751.8 1279.5,1752.3 1280.1,1752.9 1281.0,1753.4 1282.0,1754.0 1283.0,1754.5 1283.9,1755.0 1284.5,1755.6 1284.7,1756.1 1284.5,1756.7 1283.9,1757.2 1283.0,1757.7 1282.0,1758.3 1281.0,1758.8 1280.1,1759.4 1279.5,1759.9 1279.3,1760.5 1279.5,1761.0 1280.1,1761.5 1281.0,1762.1 1282.0,1762.6 1283.0,1763.2 1283.9,1763.7 1284.5,1764.2 1284.7,1764.8 1284.5,1765.3 1283.9,1765.9 1283.0,1766.4 1282.0,1766.9 1281.0,1767.5 1280.1,1768.0 1279.5,1768.6 1279.3,1769.1 1279.5,1769.7 1280.1,1770.2 1281.0,1770.7 1282.0,1771.3 1283.0,1771.8 1283.9,1772.4 1284.5,1772.9 1284.7,1773.4 1284.5,1774.0 1283.9,1774.5 1283.0,1775.1 1282.0,1775.6 1281.0,1776.1 1280.1,1776.7 1279.5,1777.2 1279.3,1777.8 1279.5,1778.3 1280.1,1778.9 1281.0,1779.4 1282.0,1779.9 1283.0,1780.5 1283.9,1781.0 1284.5,1781.6 1284.7,1782.1 1284.5,1782.6 1283.9,1783.2 1283.0,1783.7 1282.0,1784.3 1281.0,1784.8 1280.1,1785.4 1279.5,1785.9 1279.3,1786.4 1279.5,1787.0 1280.1,1787.5 1281.0,1788.1 1282.0,1788.6" fill="none" stroke="#28e840" stroke-width="6.2" stroke-linecap="round" stroke-linejoin="round"/>
<polyline points="1297.2,1738.8 1297.0,1739.3 1296.4,1739.9 1295.5,1740.4 1294.5,1741.0 1293.5,1741.5 1292.6,1742.0 1292.0,1742.6 1291.8,1743.1 1292.0,1743.7 1292.6,1744.2 1293.5,1744.8 1294.5,1745.3 1295.5,1745.8 1296.4,1746.4 1297.0,1746.9 1297.2,1747.5 1297.0,1748.0 1296.4,1748.5 1295.5,1749.1 1294.5,1749.6 1293.5,1750.2 1292.6,1750.7 1292.0,1751.2 1291.8,1751.8 1292.0,1752.3 1292.6,1752.9 1293.5,1753.4 1294.5,1754.0 1295.5,1754.5 1296.4,1755.0 1297.0,1755.6 1297.2,1756.1 1297.0,1756.7 1296.4,1757.2 1295.5,1757.7 1294.5,1758.3 1293.5,1758.8 1292.6,1759.4 1292.0,1759.9 1291.8,1760.5 1292.0,1761.0 1292.6,1761.5 1293.5,1762.1 1294.5,1762.6 1295.5,1763.2 1296.4,1763.7 1297.0,1764.2 1297.2,1764.8 1297.0,1765.3 1296.4,1765.9 1295.5,1766.4 1294.5,1766.9 1293.5,1767.5 1292.6,1768.0 1292.0,1768.6 1291.8,1769.1 1292.0,1769.7 1292.6,1770.2 1293.5,1770.7 1294.5,1771.3 1295.5,1771.8 1296.4,1772.4 1297.0,1772.9 1297.2,1773.4 1297.0,1774.0 1296.4,1774.5 1295.5,1775.1 1294.5,1775.6 1293.5,1776.1 1292.6,1776.7 1292.0,1777.2 1291.8,1777.8 1292.0,1778.3 1292.6,1778.9 1293.5,1779.4 1294.5,1779.9 1295.5,1780.5 1296.4,1781.0 1297.0,1781.6 1297.2,1782.1 1297.0,1782.6 1296.4,1783.2 1295.5,1783.7 1294.5,1784.3 1293.5,1784.8 1292.6,1785.4 1292.0,1785.9 1291.8,1786.4 1292.0,1787.0 1292.6,1787.5 1293.5,1788.1 1294.5,1788.6" fill="none" stroke="#109878" stroke-width="6.2" stroke-linecap="round" stroke-linejoin="round"/>
<text transform="translate(900.5,1933.6) rotate(-90) scale(0.82,1)" font-size="30.5" text-anchor="start" fill="#1c1c1c" font-weight="normal">cLuc:<tspan fill="#1a2a9a">N5</tspan></text>
<text transform="translate(946.9,1933.6) rotate(-90) scale(0.82,1)" font-size="30.5" text-anchor="start" fill="#1c1c1c" font-weight="normal">cLuc:<tspan fill="#2a8a3a">N7</tspan></text>
<text transform="translate(995.1,1939.3) rotate(-90) scale(0.82,1)" font-size="30.5" text-anchor="start" fill="#1c1c1c" font-weight="normal">cLuc:<tspan fill="#1a30d0">P5A</tspan></text>
<text transform="translate(1041.4,1939.3) rotate(-90) scale(0.82,1)" font-size="30.5" text-anchor="start" fill="#1c1c1c" font-weight="normal">cLuc:<tspan fill="#7ab828">P7A</tspan></text>
<text transform="translate(1084.2,1924.9) rotate(-90) scale(0.82,1)" font-size="30.5" text-anchor="start" fill="#1c1c1c" font-weight="normal">(30 ng)</text>
<line x1="864.0" y1="1940.6" x2="1055.5" y2="1940.6" stroke="#000" stroke-width="2" stroke-linecap="butt"/>
<text transform="translate(872.9,1968.0) scale(0.82,1)" font-size="30.5" text-anchor="start" fill="#1c1c1c" font-weight="normal">nLuc:<tspan fill="#10108a">N6</tspan> (30 ng)</text>
<text transform="translate(1166.5,1933.6) rotate(-90) scale(0.82,1)" font-size="30.5" text-anchor="start" fill="#1c1c1c" font-weight="normal">cLuc:<tspan fill="#1a2a9a">N5</tspan></text>
<text transform="translate(1212.9,1933.6) rotate(-90) scale(0.82,1)" font-size="30.5" text-anchor="start" fill="#1c1c1c" font-weight="normal">cLuc:<tspan fill="#2a8a3a">N7</tspan></text>
<text transform="translate(1261.1,1939.3) rotate(-90) scale(0.82,1)" font-size="30.5" text-anchor="start" fill="#1c1c1c" font-weight="normal">cLuc:<tspan fill="#1a30d0">P5A</tspan></text>
<text transform="translate(1307.4,1939.3) rotate(-90) scale(0.82,1)" font-size="30.5" text-anchor="start" fill="#1c1c1c" font-weight="normal">cLuc:<tspan fill="#7ab828">P7A</tspan></text>
<text transform="translate(1350.2,1925.9) rotate(-90) scale(0.82,1)" font-size="30.5" text-anchor="start" fill="#1c1c1c" font-weight="normal">(30 ng)</text>
<line x1="1130.0" y1="1941.8" x2="1321.5" y2="1941.8" stroke="#000" stroke-width="2" stroke-linecap="butt"/>
<text transform="translate(1138.9,1969.0) scale(0.82,1)" font-size="30.5" text-anchor="start" fill="#1c1c1c" font-weight="normal">nLuc:<tspan fill="#1a9078">N8</tspan> (30 ng)</text>
</svg>
</body></html>
